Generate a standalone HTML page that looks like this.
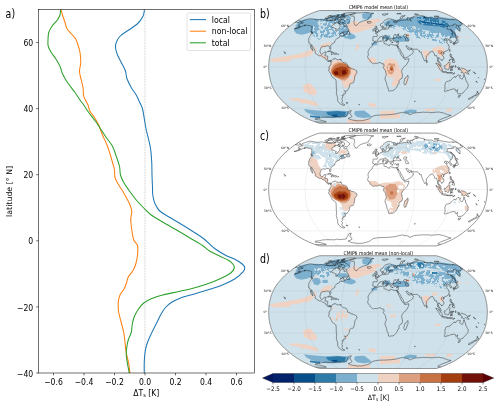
<!DOCTYPE html><html><head><meta charset="utf-8"><title>figure</title><style>html,body{margin:0;padding:0;background:#fff}svg{display:block}text{font-family:"DejaVu Sans","Liberation Sans",sans-serif;fill:#000}</style></head><body>
<svg width="500" height="406" viewBox="0 0 500 406">
<rect width="500" height="406" fill="#fff"/>
<defs><filter id="motA" x="0" y="0" width="1" height="1" color-interpolation-filters="sRGB"><feTurbulence type="fractalNoise" baseFrequency="0.33" numOctaves="2" seed="3" result="n"/><feColorMatrix in="n" type="matrix" values="0 0 0 0 0 0 0 0 0 0 0 0 0 0 0 30 0 0 0 -15.6" result="a"/><feComposite in="SourceGraphic" in2="a" operator="in"/></filter><filter id="motB" x="0" y="0" width="1" height="1" color-interpolation-filters="sRGB"><feTurbulence type="fractalNoise" baseFrequency="0.33" numOctaves="2" seed="11" result="n"/><feColorMatrix in="n" type="matrix" values="0 0 0 0 0 0 0 0 0 0 0 0 0 0 0 30 0 0 0 -14.4" result="a"/><feComposite in="SourceGraphic" in2="a" operator="in"/></filter><filter id="motC" x="0" y="0" width="1" height="1" color-interpolation-filters="sRGB"><feTurbulence type="fractalNoise" baseFrequency="0.33" numOctaves="2" seed="5" result="n"/><feColorMatrix in="n" type="matrix" values="0 0 0 0 0 0 0 0 0 0 0 0 0 0 0 30 0 0 0 -17.0" result="a"/><feComposite in="SourceGraphic" in2="a" operator="in"/></filter><filter id="motD" x="0" y="0" width="1" height="1" color-interpolation-filters="sRGB"><feTurbulence type="fractalNoise" baseFrequency="0.3" numOctaves="2" seed="8" result="n"/><feColorMatrix in="n" type="matrix" values="0 0 0 0 0 0 0 0 0 0 0 0 0 0 0 30 0 0 0 -18.5" result="a"/><feComposite in="SourceGraphic" in2="a" operator="in"/></filter></defs>
<clipPath id="axclip"><rect x="38.5" y="9.4" width="216.0" height="363.6"/></clipPath>
<line x1="145" y1="9.4" x2="145" y2="373.0" stroke="#a8a8a8" stroke-width="0.7" stroke-dasharray="0.7 0.85"/>
<g clip-path="url(#axclip)" fill="none" stroke-width="1.05" stroke-linejoin="round" stroke-linecap="butt">
<path d="M144.50 9.50C144.25 10.62 144.17 13.88 143.00 16.25C141.83 18.62 139.88 21.46 137.50 23.75C135.12 26.04 131.67 27.92 128.75 30.00C125.83 32.08 122.08 34.17 120.00 36.25C117.92 38.33 117.00 40.62 116.25 42.50C115.50 44.38 115.29 45.42 115.50 47.50C115.71 49.58 116.42 52.29 117.50 55.00C118.58 57.71 120.67 61.04 122.00 63.75C123.33 66.46 124.67 68.75 125.50 71.25C126.33 73.75 126.04 76.04 127.00 78.75C127.96 81.46 129.71 84.79 131.25 87.50C132.79 90.21 134.88 92.58 136.25 95.00C137.62 97.42 138.46 99.71 139.50 102.00C140.54 104.29 141.67 105.75 142.50 108.75C143.33 111.75 143.88 116.46 144.50 120.00C145.12 123.54 145.54 126.67 146.25 130.00C146.96 133.33 148.00 136.67 148.75 140.00C149.50 143.33 150.25 146.25 150.75 150.00C151.25 153.75 151.54 158.33 151.75 162.50C151.96 166.67 151.88 170.83 152.00 175.00C152.12 179.17 152.40 184.67 152.50 187.50C152.60 190.33 152.52 190.54 152.60 192.00C152.68 193.46 152.60 194.29 153.00 196.25C153.40 198.21 153.83 201.25 155.00 203.75C156.17 206.25 157.50 208.96 160.00 211.25C162.50 213.54 166.25 215.21 170.00 217.50C173.75 219.79 178.75 222.71 182.50 225.00C186.25 227.29 188.96 228.96 192.50 231.25C196.04 233.54 200.00 235.83 203.75 238.75C207.50 241.67 211.46 246.04 215.00 248.75C218.54 251.46 221.46 253.12 225.00 255.00C228.54 256.88 233.38 258.50 236.25 260.00C239.12 261.50 240.77 262.73 242.20 264.00C243.62 265.27 244.67 266.30 244.80 267.60C244.93 268.90 244.63 269.94 243.00 271.80C241.37 273.66 238.42 276.55 235.00 278.75C231.58 280.95 227.08 283.12 222.50 285.00C217.92 286.88 212.50 288.42 207.50 290.00C202.50 291.58 197.08 293.12 192.50 294.50C187.92 295.88 183.54 296.92 180.00 298.25C176.46 299.58 173.67 300.96 171.25 302.50C168.83 304.04 167.17 305.62 165.50 307.50C163.83 309.38 162.79 311.04 161.25 313.75C159.71 316.46 157.92 320.42 156.25 323.75C154.58 327.08 152.79 330.42 151.25 333.75C149.71 337.08 148.04 340.62 147.00 343.75C145.96 346.88 145.46 349.38 145.00 352.50C144.54 355.62 144.38 359.08 144.25 362.50C144.12 365.92 144.25 371.25 144.25 373.00" stroke="#1f77b4"/>
<path d="M61.00 9.50C61.25 10.42 61.83 12.83 62.50 15.00C63.17 17.17 64.25 20.21 65.00 22.50C65.75 24.79 65.96 26.88 67.00 28.75C68.04 30.62 69.83 32.08 71.25 33.75C72.67 35.42 74.38 36.88 75.50 38.75C76.62 40.62 77.25 42.71 78.00 45.00C78.75 47.29 79.54 49.58 80.00 52.50C80.46 55.42 80.83 59.38 80.75 62.50C80.67 65.62 79.42 68.33 79.50 71.25C79.58 74.17 80.67 77.29 81.25 80.00C81.83 82.71 82.58 84.79 83.00 87.50C83.42 90.21 83.25 94.00 83.75 96.25C84.25 98.50 85.29 99.54 86.00 101.00C86.71 102.46 87.33 103.29 88.00 105.00C88.67 106.71 88.92 109.17 90.00 111.25C91.08 113.33 93.04 115.21 94.50 117.50C95.96 119.79 97.42 122.08 98.75 125.00C100.08 127.92 101.12 131.67 102.50 135.00C103.88 138.33 105.75 141.88 107.00 145.00C108.25 148.12 109.08 150.83 110.00 153.75C110.92 156.67 111.75 159.79 112.50 162.50C113.25 165.21 114.08 167.50 114.50 170.00C114.92 172.50 114.29 175.00 115.00 177.50C115.71 180.00 117.58 182.92 118.75 185.00C119.92 187.08 120.75 187.92 122.00 190.00C123.25 192.08 124.92 195.00 126.25 197.50C127.58 200.00 129.08 202.71 130.00 205.00C130.92 207.29 131.62 208.75 131.75 211.25C131.88 213.75 130.71 216.67 130.75 220.00C130.79 223.33 131.50 227.92 132.00 231.25C132.50 234.58 132.83 237.62 133.75 240.00C134.67 242.38 136.88 243.00 137.50 245.50C138.12 248.00 137.83 251.75 137.50 255.00C137.17 258.25 136.33 262.29 135.50 265.00C134.67 267.71 133.71 269.25 132.50 271.25C131.29 273.25 129.29 274.92 128.25 277.00C127.21 279.08 127.00 281.67 126.25 283.75C125.50 285.83 124.79 287.62 123.75 289.50C122.71 291.38 120.92 292.83 120.00 295.00C119.08 297.17 118.46 299.58 118.25 302.50C118.04 305.42 118.25 309.17 118.75 312.50C119.25 315.83 120.42 319.17 121.25 322.50C122.08 325.83 123.12 329.17 123.75 332.50C124.38 335.83 124.58 339.17 125.00 342.50C125.42 345.83 125.62 348.96 126.25 352.50C126.88 356.04 128.12 360.33 128.75 363.75C129.38 367.17 129.79 371.46 130.00 373.00" stroke="#ff7f0e"/>
<path d="M60.50 9.50C60.42 10.42 60.58 13.17 60.00 15.00C59.42 16.83 58.33 18.62 57.00 20.50C55.67 22.38 53.38 24.25 52.00 26.25C50.62 28.25 49.42 30.21 48.75 32.50C48.08 34.79 48.08 37.71 48.00 40.00C47.92 42.29 47.71 44.17 48.25 46.25C48.79 48.33 50.00 50.42 51.25 52.50C52.50 54.58 54.29 56.46 55.75 58.75C57.21 61.04 58.88 63.75 60.00 66.25C61.12 68.75 61.25 71.04 62.50 73.75C63.75 76.46 65.42 79.38 67.50 82.50C69.58 85.62 72.92 89.58 75.00 92.50C77.08 95.42 78.54 97.92 80.00 100.00C81.46 102.08 82.29 102.92 83.75 105.00C85.21 107.08 86.79 109.79 88.75 112.50C90.71 115.21 93.42 118.33 95.50 121.25C97.58 124.17 99.46 127.29 101.25 130.00C103.04 132.71 104.38 134.79 106.25 137.50C108.12 140.21 110.83 143.12 112.50 146.25C114.17 149.38 115.08 152.92 116.25 156.25C117.42 159.58 118.79 163.12 119.50 166.25C120.21 169.38 119.79 172.29 120.50 175.00C121.21 177.71 122.38 180.00 123.75 182.50C125.12 185.00 126.67 187.08 128.75 190.00C130.83 192.92 133.75 197.00 136.25 200.00C138.75 203.00 141.25 205.50 143.75 208.00C146.25 210.50 148.12 212.67 151.25 215.00C154.38 217.33 157.92 219.29 162.50 222.00C167.08 224.71 173.96 228.46 178.75 231.25C183.54 234.04 187.29 236.38 191.25 238.75C195.21 241.12 199.38 243.42 202.50 245.50C205.62 247.58 207.08 249.46 210.00 251.25C212.92 253.04 216.88 254.71 220.00 256.25C223.12 257.79 226.54 259.12 228.75 260.50C230.96 261.88 232.33 263.25 233.25 264.50C234.17 265.75 234.58 266.67 234.25 268.00C233.92 269.33 233.00 271.00 231.25 272.50C229.50 274.00 226.88 275.42 223.75 277.00C220.62 278.58 216.88 280.33 212.50 282.00C208.12 283.67 202.92 285.46 197.50 287.00C192.08 288.54 185.83 289.92 180.00 291.25C174.17 292.58 167.29 293.75 162.50 295.00C157.71 296.25 154.38 297.42 151.25 298.75C148.12 300.08 145.83 301.33 143.75 303.00C141.67 304.67 140.21 306.75 138.75 308.75C137.29 310.75 135.93 313.12 135.00 315.00C134.07 316.88 133.70 318.12 133.20 320.00C132.70 321.88 132.32 324.17 132.00 326.25C131.68 328.33 131.88 330.21 131.25 332.50C130.62 334.79 129.00 337.50 128.25 340.00C127.50 342.50 127.08 345.00 126.75 347.50C126.42 350.00 126.12 352.29 126.25 355.00C126.38 357.71 127.00 360.75 127.50 363.75C128.00 366.75 128.96 371.46 129.25 373.00" stroke="#2ca02c"/>
</g>
<rect x="38.5" y="9.4" width="216.0" height="363.6" fill="none" stroke="#000" stroke-width="0.56"/>
<line x1="36.1" y1="373.00" x2="38.5" y2="373.00" stroke="#000" stroke-width="0.56"/>
<text transform="translate(33.20,376.60) scale(0.885,1)" font-size="8.70" text-anchor="end">−40</text>
<line x1="36.1" y1="306.90" x2="38.5" y2="306.90" stroke="#000" stroke-width="0.56"/>
<text transform="translate(33.20,310.50) scale(0.885,1)" font-size="8.70" text-anchor="end">−20</text>
<line x1="36.1" y1="240.80" x2="38.5" y2="240.80" stroke="#000" stroke-width="0.56"/>
<text transform="translate(33.20,244.40) scale(0.885,1)" font-size="8.70" text-anchor="end">0</text>
<line x1="36.1" y1="174.70" x2="38.5" y2="174.70" stroke="#000" stroke-width="0.56"/>
<text transform="translate(33.20,178.30) scale(0.885,1)" font-size="8.70" text-anchor="end">20</text>
<line x1="36.1" y1="108.60" x2="38.5" y2="108.60" stroke="#000" stroke-width="0.56"/>
<text transform="translate(33.20,112.20) scale(0.885,1)" font-size="8.70" text-anchor="end">40</text>
<line x1="36.1" y1="42.50" x2="38.5" y2="42.50" stroke="#000" stroke-width="0.56"/>
<text transform="translate(33.20,46.10) scale(0.885,1)" font-size="8.70" text-anchor="end">60</text>
<line x1="53.50" y1="373.0" x2="53.50" y2="375.4" stroke="#000" stroke-width="0.56"/>
<text transform="translate(53.50,385.00) scale(0.885,1)" font-size="8.70" text-anchor="middle">−0.6</text>
<line x1="84.00" y1="373.0" x2="84.00" y2="375.4" stroke="#000" stroke-width="0.56"/>
<text transform="translate(84.00,385.00) scale(0.885,1)" font-size="8.70" text-anchor="middle">−0.4</text>
<line x1="114.50" y1="373.0" x2="114.50" y2="375.4" stroke="#000" stroke-width="0.56"/>
<text transform="translate(114.50,385.00) scale(0.885,1)" font-size="8.70" text-anchor="middle">−0.2</text>
<line x1="145.00" y1="373.0" x2="145.00" y2="375.4" stroke="#000" stroke-width="0.56"/>
<text transform="translate(145.00,385.00) scale(0.885,1)" font-size="8.70" text-anchor="middle">0.0</text>
<line x1="175.50" y1="373.0" x2="175.50" y2="375.4" stroke="#000" stroke-width="0.56"/>
<text transform="translate(175.50,385.00) scale(0.885,1)" font-size="8.70" text-anchor="middle">0.2</text>
<line x1="206.00" y1="373.0" x2="206.00" y2="375.4" stroke="#000" stroke-width="0.56"/>
<text transform="translate(206.00,385.00) scale(0.885,1)" font-size="8.70" text-anchor="middle">0.4</text>
<line x1="236.50" y1="373.0" x2="236.50" y2="375.4" stroke="#000" stroke-width="0.56"/>
<text transform="translate(236.50,385.00) scale(0.885,1)" font-size="8.70" text-anchor="middle">0.6</text>
<text transform="translate(146.20,396.20) scale(0.885,1)" font-size="8.70" text-anchor="middle">ΔT<tspan font-size="5.5" dy="1">s</tspan><tspan dy="-1"> [K]</tspan></text>
<text transform="translate(11.7,191.4) rotate(-90)" font-size="7.85" text-anchor="middle">latitude [° N]</text>
<text transform="translate(5.60,17.50) scale(0.78,1)" font-size="12.10">a)</text>
<rect x="187" y="13" width="63.5" height="37.5" rx="1.4" fill="#fff" fill-opacity="0.8" stroke="#ccc" stroke-width="0.56"/>
<line x1="189.8" y1="19.6" x2="206" y2="19.6" stroke="#1f77b4" stroke-width="1.05"/>
<text transform="translate(211.80,22.50) scale(0.885,1)" font-size="8.81">local</text>
<line x1="189.8" y1="31.200000000000003" x2="206" y2="31.200000000000003" stroke="#ff7f0e" stroke-width="1.05"/>
<text transform="translate(211.80,34.10) scale(0.885,1)" font-size="8.81">non-local</text>
<line x1="189.8" y1="42.8" x2="206" y2="42.8" stroke="#2ca02c" stroke-width="1.05"/>
<text transform="translate(211.80,45.70) scale(0.885,1)" font-size="8.81">total</text>
<clipPath id="clipb"><path d="M436.2 123.3L438.3 122.7L440.6 122.0L443.2 121.0L446.0 119.9L448.8 118.6L451.6 117.3L454.2 115.9L456.6 114.5L458.9 113.0L461.1 111.5L463.3 109.9L465.4 108.3L467.4 106.7L469.3 105.1L471.2 103.4L472.9 101.7L474.5 100.0L476.0 98.3L477.5 96.6L478.8 94.9L480.0 93.1L481.1 91.4L482.1 89.6L483.0 87.9L483.8 86.1L484.4 84.4L485.0 82.6L485.5 80.9L485.9 79.1L486.3 77.4L486.6 75.6L486.9 73.9L487.1 72.1L487.2 70.4L487.3 68.6L487.4 66.9L487.3 65.2L487.2 63.4L487.1 61.7L486.9 59.9L486.6 58.2L486.3 56.4L485.9 54.7L485.5 52.9L485.0 51.2L484.4 49.4L483.8 47.7L483.0 45.9L482.1 44.2L481.1 42.4L480.0 40.7L478.8 38.9L477.5 37.2L476.0 35.5L474.5 33.8L472.9 32.1L471.2 30.4L469.3 28.7L467.4 27.1L465.4 25.5L463.3 23.9L461.1 22.3L458.9 20.8L456.6 19.3L454.2 17.9L451.6 16.5L448.8 15.2L446.0 13.9L443.2 12.8L440.6 11.8L438.3 11.1L436.2 10.5L319.8 10.5L317.7 11.1L315.4 11.8L312.8 12.8L310.0 13.9L307.2 15.2L304.4 16.5L301.8 17.9L299.4 19.3L297.1 20.8L294.9 22.3L292.7 23.9L290.6 25.5L288.6 27.1L286.7 28.7L284.8 30.4L283.1 32.1L281.5 33.8L280.0 35.5L278.5 37.2L277.2 38.9L276.0 40.7L274.9 42.4L273.9 44.2L273.0 45.9L272.2 47.7L271.6 49.4L271.0 51.2L270.5 52.9L270.1 54.7L269.7 56.4L269.4 58.2L269.1 59.9L268.9 61.7L268.8 63.4L268.7 65.2L268.6 66.9L268.7 68.6L268.8 70.4L268.9 72.1L269.1 73.9L269.4 75.6L269.7 77.4L270.1 79.1L270.5 80.9L271.0 82.6L271.6 84.4L272.2 86.1L273.0 87.9L273.9 89.6L274.9 91.4L276.0 93.1L277.2 94.9L278.5 96.6L280.0 98.3L281.5 100.0L283.1 101.7L284.8 103.4L286.7 105.1L288.6 106.7L290.6 108.3L292.7 109.9L294.9 111.5L297.1 113.0L299.4 114.5L301.8 115.9L304.4 117.3L307.2 118.6L310.0 119.9L312.8 121.0L315.4 122.0L317.7 122.7L319.8 123.3Z"/></clipPath>
<g clip-path="url(#clipb)">
<path d="M436.2 123.3L438.3 122.7L440.6 122.0L443.2 121.0L446.0 119.9L448.8 118.6L451.6 117.3L454.2 115.9L456.6 114.5L458.9 113.0L461.1 111.5L463.3 109.9L465.4 108.3L467.4 106.7L469.3 105.1L471.2 103.4L472.9 101.7L474.5 100.0L476.0 98.3L477.5 96.6L478.8 94.9L480.0 93.1L481.1 91.4L482.1 89.6L483.0 87.9L483.8 86.1L484.4 84.4L485.0 82.6L485.5 80.9L485.9 79.1L486.3 77.4L486.6 75.6L486.9 73.9L487.1 72.1L487.2 70.4L487.3 68.6L487.4 66.9L487.3 65.2L487.2 63.4L487.1 61.7L486.9 59.9L486.6 58.2L486.3 56.4L485.9 54.7L485.5 52.9L485.0 51.2L484.4 49.4L483.8 47.7L483.0 45.9L482.1 44.2L481.1 42.4L480.0 40.7L478.8 38.9L477.5 37.2L476.0 35.5L474.5 33.8L472.9 32.1L471.2 30.4L469.3 28.7L467.4 27.1L465.4 25.5L463.3 23.9L461.1 22.3L458.9 20.8L456.6 19.3L454.2 17.9L451.6 16.5L448.8 15.2L446.0 13.9L443.2 12.8L440.6 11.8L438.3 11.1L436.2 10.5L319.8 10.5L317.7 11.1L315.4 11.8L312.8 12.8L310.0 13.9L307.2 15.2L304.4 16.5L301.8 17.9L299.4 19.3L297.1 20.8L294.9 22.3L292.7 23.9L290.6 25.5L288.6 27.1L286.7 28.7L284.8 30.4L283.1 32.1L281.5 33.8L280.0 35.5L278.5 37.2L277.2 38.9L276.0 40.7L274.9 42.4L273.9 44.2L273.0 45.9L272.2 47.7L271.6 49.4L271.0 51.2L270.5 52.9L270.1 54.7L269.7 56.4L269.4 58.2L269.1 59.9L268.9 61.7L268.8 63.4L268.7 65.2L268.6 66.9L268.7 68.6L268.8 70.4L268.9 72.1L269.1 73.9L269.4 75.6L269.7 77.4L270.1 79.1L270.5 80.9L271.0 82.6L271.6 84.4L272.2 86.1L273.0 87.9L273.9 89.6L274.9 91.4L276.0 93.1L277.2 94.9L278.5 96.6L280.0 98.3L281.5 100.0L283.1 101.7L284.8 103.4L286.7 105.1L288.6 106.7L290.6 108.3L292.7 109.9L294.9 111.5L297.1 113.0L299.4 114.5L301.8 115.9L304.4 117.3L307.2 118.6L310.0 119.9L312.8 121.0L315.4 122.0L317.7 122.7L319.8 123.3Z" fill="#cfe1ea"/>
<path d="M295.5 26.7L297.7 22.2L301.5 20.0L307.5 19.2L315.0 18.8L322.5 19.2L328.5 17.7L334.5 14.7L342.0 14.0L348.0 14.7L351.0 17.7L349.5 21.5L351.0 25.2L348.7 30.5L350.2 32.7L355.5 35.7L355.5 38.0L351.0 39.5L345.0 38.0L342.0 36.5L337.5 35.7L333.0 36.5L330.0 38.0L325.5 37.2L321.0 38.0L320.2 40.2L317.2 38.7L315.0 38.0L312.7 34.2L310.5 32.0L307.5 33.5L301.5 34.7L296.2 33.5L294.0 30.5Z" fill="#7cb0ce"/>
<path d="M332.7 23.7L336.7 22.7L339.7 24.5L339.3 29.0L336.7 31.2L333.7 30.5L332.2 27.2Z" fill="#cfe1ea"/>
<path d="M317.2 21.8L325.5 21.5L326.2 23.3L318.0 23.6Z" fill="#cfe1ea"/>
<path d="M319.2 25.7L322.5 24.2L325.2 26.3L324.3 29.7L321.0 30.5L318.9 28.7Z" fill="#cfe1ea"/>
<path d="M320.7 26.6L322.5 26.0L323.5 27.5L322.2 29.0L320.7 28.2Z" fill="#7cb0ce"/>
<path d="M312.0 26.3L313.8 26.3L313.8 28.7L312.3 28.7Z" fill="#2e7ba9"/>
<path d="M320.2 45.5L324.0 43.2L330.0 41.7L331.5 43.2L328.5 45.5L322.5 47.7L320.2 47.3Z" fill="#f0d2c3"/>
<path d="M313.8 46.7L315.7 46.7L316.8 51.5L315.0 51.8Z" fill="#f0d2c3"/>
<path d="M318.7 53.7L324.0 55.2L328.5 58.2L327.0 59.7L322.5 57.5L318.7 55.7Z" fill="#f0d2c3"/>
<path d="M313.5 20.0L330.0 19.2L348.0 17.0L351.0 26.0L349.5 29.0L312.7 29.0Z" fill="#cfe1ea" filter="url(#motC)"/>
<path d="M312.7 29.0L330.0 29.7L341.2 30.5L349.5 32.0L348.0 35.7L337.5 37.2L321.0 40.2L314.2 38.0Z" fill="#cfe1ea" filter="url(#motA)"/>
<path d="M270.2 59.0L278.5 57.2L289.0 55.7L299.5 53.7L308.5 50.7L312.2 48.5L313.7 53.0L310.0 56.0L299.5 58.2L289.7 59.7L289.7 61.7L272.5 62.0L270.7 60.5Z" fill="#f0d2c3"/>
<path d="M347.7 24.5L354.5 20.7L360.5 23.0L367.2 20.7L372.5 19.2L380.0 18.5L381.5 20.7L375.5 23.0L375.5 26.0L369.5 29.0L363.5 30.5L357.5 32.7L351.5 32.7L347.7 29.0Z" fill="#f0d2c3"/>
<path d="M362.0 14.0L367.2 12.5L372.5 14.0L371.7 17.7L367.2 19.7L362.7 18.5Z" fill="#7cb0ce"/>
<path d="M384.0 23.0L387.0 20.6L391.8 19.4L396.6 20.0L401.4 18.8L406.2 18.2L411.0 17.6L417.0 16.4L423.0 16.6L429.0 17.4L435.0 18.2L435.0 38.0L429.0 38.6L423.0 38.0L417.0 36.8L413.4 33.2L408.6 32.0L403.8 29.0L399.0 26.6L395.4 26.6L390.6 27.8L387.0 26.0L384.6 25.4Z" fill="#7cb0ce"/>
<path d="M429.6 16.6L434.4 17.0L444.0 17.6L452.4 18.8L459.6 20.6L462.0 23.4L460.2 27.2L460.6 30.2L458.4 30.8L456.0 28.4L454.8 30.8L456.0 33.8L456.6 36.8L454.2 38.0L451.2 38.0L445.8 38.6L444.0 42.2L442.2 39.8L439.2 36.8L435.6 38.0L432.0 36.2L429.6 36.6Z" fill="#7cb0ce"/>
<path d="M393.2 38.0L397.0 35.7L403.0 35.7L409.0 37.2L409.7 40.2L404.5 41.7L397.0 41.7L393.2 40.2Z" fill="#7cb0ce"/>
<path d="M385.0 35.7L389.5 35.0L391.0 38.0L388.0 40.2L385.0 39.5L382.0 38.0Z" fill="#7cb0ce"/>
<path d="M370.8 43.2L376.0 41.7L377.5 44.7L372.3 45.5Z" fill="#7cb0ce"/>
<path d="M417.2 17.7L421.7 17.0L424.3 20.0L423.2 23.0L418.7 22.2Z" fill="#2e7ba9"/>
<path d="M417.2 17.0L424.0 16.3L430.0 17.7L437.5 19.3L445.0 21.0L447.0 22.6L448.8 24.8L449.8 27.8L451.8 32.0L454.2 36.2L453.2 36.8L450.6 33.2L447.6 29.4L444.0 27.8L438.0 26.6L432.0 26.0L426.0 25.4L420.0 24.2L418.2 22.4L417.0 20.0Z" fill="#2e7ba9"/>
<path d="M417.2 17.0L424.0 16.3L430.0 17.7L437.5 19.3L445.0 21.0L447.0 22.6L448.8 24.8L449.8 27.8L451.8 32.0L454.2 36.2L453.2 36.8L450.6 33.2L447.6 29.4L444.0 27.8L438.0 26.6L432.0 26.0L426.0 25.4L420.0 24.2L418.2 22.4L417.0 20.0Z" fill="#7cb0ce" filter="url(#motA)"/>
<path d="M421.2 21.2L427.2 21.9L434.4 22.9L441.6 24.1L445.4 25.2L445.0 25.9L438.0 24.6L430.8 23.6L423.6 22.8L421.2 22.2Z" fill="#074f8a"/>
<path d="M425.5 31.2L428.5 30.5L429.2 33.5L426.2 34.7Z" fill="#cfe1ea"/>
<path d="M412.0 26.7L415.0 26.0L416.5 29.0L413.5 30.5Z" fill="#cfe1ea"/>
<path d="M412.4 28.7L414.2 28.2L415.0 30.5L413.2 31.2Z" fill="#dc9f7f"/>
<path d="M406.4 34.7L409.0 34.7L409.0 36.2L406.4 36.2Z" fill="#c87142"/>
<path d="M422.5 50.7L426.2 50.0L430.0 51.5L428.5 56.0L426.2 59.7L424.7 56.7L422.5 53.0Z" fill="#f0d2c3"/>
<path d="M431.5 49.2L436.0 47.0L441.2 46.2L445.0 48.5L444.2 53.0L442.7 57.5L439.7 56.0L437.5 52.2L433.7 51.5Z" fill="#f0d2c3"/>
<path d="M437.8 50.7L441.7 50.3L442.3 53.7L439.0 54.5Z" fill="#dc9f7f"/>
<path d="M389.4 26.0L399.0 24.8L406.2 26.0L415.8 27.2L425.4 30.2L435.0 32.0L442.2 33.2L449.4 35.0L451.8 39.8L447.0 42.8L435.0 38.6L427.8 39.2L420.6 38.0L415.8 34.4L406.2 30.8L399.0 27.2L390.6 28.2Z" fill="#cfe1ea" filter="url(#motA)"/>
<path d="M393.0 25.4L405.0 26.0L415.8 29.0L420.6 36.2L429.0 36.8L437.4 38.0L447.0 42.2L444.6 44.6L435.0 41.0L425.4 39.8L415.8 38.0L408.6 32.0L399.0 29.0L393.0 28.4Z" fill="#7cb0ce" filter="url(#motC)"/>
<path d="M458.2 36.8L461.0 36.8L461.0 38.0L458.2 38.0Z" fill="#f0d2c3"/>
<path d="M465.4 36.8L468.2 36.8L467.8 38.2L465.8 38.0Z" fill="#f0d2c3"/>
<path d="M329.2 66.5L332.2 61.2L337.5 59.7L343.5 62.7L348.0 65.0L352.5 68.0L357.0 71.7L356.2 76.2L353.2 81.5L349.5 86.0L345.7 88.2L343.5 86.7L342.0 82.2L339.7 79.2L336.0 77.7L332.2 74.7L329.2 71.0Z" fill="#f0d2c3"/>
<path d="M331.2 68.7L333.7 64.2L338.2 62.0L343.5 62.7L348.0 65.0L351.0 68.7L351.0 73.2L348.7 77.7L345.0 80.7L341.2 80.0L337.5 77.7L333.7 75.8L331.2 72.5Z" fill="#dc9f7f"/>
<path d="M331.5 70.2L334.5 65.7L339.3 63.2L345.0 63.8L349.2 67.2L350.1 72.5L348.0 76.7L343.8 78.8L339.0 78.2L334.8 76.4L331.9 73.7Z" fill="#c87142"/>
<path d="M332.7 71.3L336.3 68.0L341.2 66.2L346.2 67.1L348.4 70.4L347.5 74.3L343.8 76.5L339.0 76.2L334.9 75.2L332.7 73.4Z" fill="#a43d10"/>
<path d="M333.7 71.9L337.2 71.0L338.7 74.0L335.4 75.2Z" fill="#72110a"/>
<path d="M341.4 70.7L345.6 70.1L346.5 73.7L342.3 74.7Z" fill="#72110a"/>
<path d="M349.5 76.4L352.2 76.1L352.5 78.8L349.9 79.1Z" fill="#cfe1ea"/>
<path d="M303.7 87.5L306.7 84.8L311.2 86.7L315.0 90.5L315.7 95.0L312.0 95.0L307.5 93.5L303.7 91.2Z" fill="#f0d2c3"/>
<path d="M300.0 100.2L306.0 99.2L312.7 101.0L318.7 104.0L317.2 106.2L310.5 104.7L304.5 103.2L300.0 103.2Z" fill="#f0d2c3"/>
<path d="M368.2 103.2L375.0 104.3L375.0 107.0L369.0 105.8Z" fill="#f0d2c3"/>
<path d="M382.7 64.2L385.0 59.7L389.5 58.2L394.7 59.0L397.7 62.7L399.2 67.2L401.5 71.0L402.2 75.5L400.0 80.0L397.0 85.2L392.5 86.7L391.0 83.7L394.0 80.0L392.5 77.7L388.7 77.7L385.7 74.0L384.2 68.7Z" fill="#f0d2c3"/>
<path d="M370.0 57.5L374.5 57.5L376.7 61.2L374.5 63.5L370.7 62.0L367.0 60.5Z" fill="#f0d2c3"/>
<path d="M357.3 44.0L359.5 44.0L358.0 49.3L355.0 50.7Z" fill="#f0d2c3"/>
<path d="M386.8 65.7L389.2 62.7L392.8 62.3L395.2 64.7L395.8 68.7L394.3 72.5L391.7 74.7L388.7 73.7L387.1 70.2Z" fill="#dc9f7f"/>
<path d="M385.7 65.0L388.7 61.2L393.2 61.2L396.2 64.2L397.0 68.7L395.5 73.2L392.5 76.2L388.7 74.7L386.5 71.0Z" fill="#f0d2c3" filter="url(#motA)"/>
<path d="M389.8 67.2L391.9 65.7L393.4 67.2L393.2 69.8L391.3 71.0L389.5 69.5Z" fill="#c87142"/>
<path d="M391.0 68.6L392.5 68.6L392.5 69.8L391.0 69.8Z" fill="#a43d10"/>
<path d="M405.2 77.7L407.5 77.0L407.5 83.7L405.7 84.8Z" fill="#f0d2c3"/>
<path d="M435.2 78.9L440.5 78.9L440.5 80.9L435.2 80.9Z" fill="#f0d2c3"/>
<path d="M370.0 103.2L375.2 104.0L375.2 107.0L370.7 106.7Z" fill="#f0d2c3"/>
<path d="M436.5 63.0L438.7 62.7L442.5 69.0L442.5 71.2L439.5 69.7Z" fill="#f0d2c3"/>
<path d="M444.7 65.2L447.7 62.2L450.7 63.0L450.0 68.2L446.2 69.0Z" fill="#f0d2c3"/>
<path d="M460.5 69.0L464.2 68.2L468.0 72.0L466.5 73.8L462.7 72.7Z" fill="#f0d2c3"/>
<path d="M435.0 78.7L441.0 78.7L441.0 80.7L435.0 80.7Z" fill="#f0d2c3"/>
<path d="M437.7 50.2L439.8 50.2L439.8 53.2L437.7 53.2Z" fill="#dc9f7f"/>
<path d="M304.0 109.0L312.0 110.0L324.0 111.0L336.0 110.6L348.0 111.0L350.0 113.0L346.0 117.0L338.0 118.0L328.0 118.0L320.0 117.0L312.0 115.0L306.0 112.0Z" fill="#7cb0ce"/>
<path d="M355.0 111.0L364.0 110.6L369.0 114.0L372.0 117.0L364.0 118.0L357.0 117.0L354.0 114.0Z" fill="#7cb0ce"/>
<path d="M326.0 112.0L338.0 111.0L346.0 112.0L345.0 116.0L336.0 117.0L328.0 115.0Z" fill="#2e7ba9"/>
<path d="M310.0 115.4L320.0 116.6L320.0 118.2L310.0 117.0Z" fill="#2e7ba9"/>
<path d="M332.0 115.0L337.0 114.6L337.0 116.6L332.4 116.6Z" fill="#074f8a"/>
<path d="M303.0 85.0L310.0 83.0L317.0 91.0L316.0 95.0L310.0 94.0L304.0 90.0Z" fill="#f0d2c3"/>
<path d="M289.0 98.6L298.0 98.0L308.0 100.0L317.0 103.0L316.0 105.0L306.0 103.0L296.0 101.0L290.0 100.0Z" fill="#f0d2c3"/>
<path d="M369.0 103.0L376.0 104.0L375.6 106.6L369.6 105.8Z" fill="#f0d2c3"/>
<path d="M347.0 120.0L370.0 119.4L370.0 123.0L348.0 123.0Z" fill="#f0d2c3"/>
<path d="M404.0 111.0L410.0 109.4L417.0 110.0L416.0 112.6L408.0 113.4L404.0 112.6Z" fill="#7cb0ce"/>
<path d="M380.0 111.0L395.0 110.6L395.0 114.0L380.0 114.0Z" fill="#f0d2c3"/>
<path d="M425.0 109.0L435.0 108.6L435.0 111.0L425.0 111.0Z" fill="#f0d2c3"/>
<path d="M446.0 109.4L451.6 108.0L452.4 111.0L447.0 112.0Z" fill="#f0d2c3"/>
<path d="M380.0 115.0L400.0 114.0L400.0 118.0L380.0 119.0Z" fill="#f0d2c3"/>
<path d="M339.2 123.3L336.3 122.0L332.7 119.9L328.9 117.3L325.6 114.5L322.6 111.5L319.8 108.3L317.1 105.1L314.7 101.7L312.6 98.3L310.8 94.9L309.2 91.4L308.0 87.9L307.0 84.4L306.4 80.9L305.8 77.4L305.4 73.9L305.2 70.4L305.1 66.9L305.2 63.4L305.4 59.9L305.8 56.4L306.4 52.9L307.0 49.4L308.0 45.9L309.2 42.4L310.8 38.9L312.6 35.5L314.7 32.1L317.1 28.7L319.8 25.5L322.6 22.3L325.6 19.3L328.9 16.5L332.7 13.9L336.3 11.8L339.2 10.5M358.6 123.3L357.1 122.0L355.3 119.9L353.5 117.3L351.8 114.5L350.3 111.5L348.9 108.3L347.6 105.1L346.4 101.7L345.3 98.3L344.4 94.9L343.6 91.4L343.0 87.9L342.5 84.4L342.2 80.9L341.9 77.4L341.7 73.9L341.6 70.4L341.5 66.9L341.6 63.4L341.7 59.9L341.9 56.4L342.2 52.9L342.5 49.4L343.0 45.9L343.6 42.4L344.4 38.9L345.3 35.5L346.4 32.1L347.6 28.7L348.9 25.5L350.3 22.3L351.8 19.3L353.5 16.5L355.3 13.9L357.1 11.8L358.6 10.5M378.0 123.3L378.0 122.0L378.0 119.9L378.0 117.3L378.0 114.5L378.0 111.5L378.0 108.3L378.0 105.1L378.0 101.7L378.0 98.3L378.0 94.9L378.0 91.4L378.0 87.9L378.0 84.4L378.0 80.9L378.0 77.4L378.0 73.9L378.0 70.4L378.0 66.9L378.0 63.4L378.0 59.9L378.0 56.4L378.0 52.9L378.0 49.4L378.0 45.9L378.0 42.4L378.0 38.9L378.0 35.5L378.0 32.1L378.0 28.7L378.0 25.5L378.0 22.3L378.0 19.3L378.0 16.5L378.0 13.9L378.0 11.8L378.0 10.5M397.4 123.3L398.9 122.0L400.7 119.9L402.5 117.3L404.2 114.5L405.7 111.5L407.1 108.3L408.4 105.1L409.6 101.7L410.7 98.3L411.6 94.9L412.4 91.4L413.0 87.9L413.5 84.4L413.8 80.9L414.1 77.4L414.3 73.9L414.4 70.4L414.5 66.9L414.4 63.4L414.3 59.9L414.1 56.4L413.8 52.9L413.5 49.4L413.0 45.9L412.4 42.4L411.6 38.9L410.7 35.5L409.6 32.1L408.4 28.7L407.1 25.5L405.7 22.3L404.2 19.3L402.5 16.5L400.7 13.9L398.9 11.8L397.4 10.5M416.8 123.3L419.7 122.0L423.3 119.9L427.1 117.3L430.4 114.5L433.4 111.5L436.2 108.3L438.9 105.1L441.3 101.7L443.4 98.3L445.2 94.9L446.8 91.4L448.0 87.9L449.0 84.4L449.6 80.9L450.2 77.4L450.6 73.9L450.8 70.4L450.9 66.9L450.8 63.4L450.6 59.9L450.2 56.4L449.6 52.9L449.0 49.4L448.0 45.9L446.8 42.4L445.2 38.9L443.4 35.5L441.3 32.1L438.9 28.7L436.2 25.5L433.4 22.3L430.4 19.3L427.1 16.5L423.3 13.9L419.7 11.8L416.8 10.5M290.6 108.3L465.4 108.3M273.0 87.9L483.0 87.9M268.6 66.9L487.4 66.9M273.0 45.9L483.0 45.9M290.6 25.5L465.4 25.5" fill="none" stroke="#9aa0a6" stroke-width="0.25" stroke-opacity="0.55"/>
<path d="M300.9 22.0L304.1 20.3L307.5 19.2L310.7 18.6L312.9 19.0L316.1 19.6L318.6 19.7L322.2 19.2L323.0 19.7L326.9 20.2L329.7 20.5L332.8 20.6L335.3 20.2L337.7 18.2L337.6 19.6L338.0 20.2L340.4 19.6L342.1 19.4L341.4 20.8L338.8 21.5L337.6 22.6L334.5 23.1L335.4 23.4L332.8 24.8L331.6 26.3L331.9 27.4L333.9 27.7L335.0 28.5L336.3 28.7L335.7 30.1L335.9 31.2L336.8 31.1L337.7 29.4L339.7 27.7L339.9 26.4L340.1 25.5L341.3 23.9L343.1 24.0L344.3 24.8L343.9 26.2L345.0 26.6L346.5 25.3L346.8 25.8L347.2 27.7L348.1 28.7L348.7 29.7L349.0 30.7L347.4 31.3L346.4 31.9L343.2 31.9L341.2 33.1L339.8 34.2L342.9 32.7L343.7 32.7L343.1 33.8L345.0 34.8L345.6 34.5L344.8 35.3L343.0 35.8L341.7 36.5L341.5 35.5L339.6 36.4L339.2 37.7L336.7 38.6L335.3 40.3L334.8 41.0L334.8 42.3L333.4 43.1L331.7 44.3L330.6 45.6L330.9 48.0L330.5 49.2L329.9 49.1L329.4 47.5L329.5 46.5L328.9 45.9L328.1 46.1L326.7 45.6L325.7 46.5L324.8 46.4L323.1 46.3L321.1 47.3L320.6 48.7L319.9 51.2L320.6 53.5L321.4 54.2L323.0 53.8L324.1 52.2L326.2 51.9L325.5 54.0L324.8 55.7L326.3 55.9L327.8 56.3L327.6 58.2L327.4 59.2L328.1 60.5L328.9 60.7L329.9 60.3L331.1 60.8L330.8 61.9L329.9 60.6L329.2 61.8L327.8 61.2L327.4 61.0L326.2 59.9L325.2 57.9L324.0 57.5L322.5 56.8L321.2 55.6L319.7 55.9L318.0 55.0L316.9 54.3L315.0 52.9L315.3 51.2L314.2 49.1L313.6 48.0L312.3 46.3L312.1 45.0L311.4 44.7L311.2 45.9L312.0 47.3L312.4 49.1L313.0 50.7L312.6 50.5L311.8 49.4L310.8 47.9L310.5 47.3L311.1 47.0L310.5 45.8L310.3 44.2L309.8 43.1L308.8 42.7L308.6 41.2L308.7 40.5L308.7 38.7L309.5 36.9L310.9 34.7L311.5 33.2L312.3 33.8L312.7 32.6L311.5 31.4L311.7 30.4L311.6 29.1L311.8 28.1L311.9 26.6L310.8 26.2L309.9 25.6L308.1 25.5L306.5 25.1L304.0 25.9L305.4 24.8L302.6 26.1L299.9 27.4L297.9 28.2L295.1 28.9L294.1 29.0L296.3 28.2L299.3 27.1L300.6 26.3L298.3 26.4L299.4 25.5L298.4 24.8L299.0 24.2L300.3 23.6L302.5 23.3L303.3 22.6L301.4 22.6ZM347.0 24.3L347.6 23.6L350.1 21.2L348.1 19.6L347.0 18.6L345.2 17.6L344.2 17.2L342.5 17.3L341.0 17.2L339.9 17.9L340.7 19.0L342.2 19.3L343.7 19.6L344.7 20.5L344.6 21.7L343.8 22.5L341.8 22.6L344.2 23.3L345.7 24.0ZM326.3 19.9L327.4 18.5L329.6 17.6L332.6 17.6L333.3 18.2L333.7 19.3L331.4 20.2L327.8 20.2ZM324.7 18.2L326.7 17.1L328.4 16.9L329.4 17.4L327.0 18.5L325.1 18.6ZM341.9 15.8L343.9 14.7L343.8 13.5L347.1 12.9L352.9 12.6L355.5 12.8L353.9 13.5L350.5 14.3L348.5 14.8L346.4 15.7L343.9 15.8ZM341.2 15.7L345.5 16.2L344.9 16.7L340.4 16.7ZM330.5 16.5L333.9 15.8L335.5 16.1L334.1 16.6L331.4 16.8ZM335.4 17.3L337.2 17.2L336.7 18.2L335.1 18.5L334.6 17.9ZM338.4 17.1L340.2 17.1L339.8 17.7L337.6 18.1ZM338.0 22.0L339.6 21.7L340.6 22.6L339.0 23.4L337.8 23.1ZM346.2 33.6L348.8 31.0L349.8 33.1L349.4 34.3L347.8 34.2ZM310.7 31.6L312.1 32.1L312.2 33.2L311.3 32.9ZM349.6 14.8L352.7 14.4L356.1 13.0L361.8 12.7L366.3 12.4L370.7 13.0L373.8 13.3L371.2 13.9L370.5 15.4L369.8 16.8L368.6 18.2L368.4 19.2L366.4 20.2L363.6 20.8L361.1 21.8L359.4 22.6L357.8 24.2L356.6 25.6L354.9 24.8L354.1 23.3L354.0 22.3L353.8 21.1L354.6 19.9L354.3 19.0L354.5 17.9L354.3 16.5L353.0 16.0L350.6 16.0L350.0 15.3ZM367.0 22.0L368.0 21.5L370.7 21.4L371.5 22.3L371.0 22.8L369.1 23.3L367.5 23.0L367.8 22.5ZM327.4 51.6L329.3 50.7L331.1 51.1L333.0 52.4L333.7 52.8L331.7 53.0L331.5 52.4L329.8 51.5L328.0 51.7ZM333.5 54.0L334.4 53.0L336.2 53.1L337.1 53.9L335.5 54.3L334.9 54.2ZM331.1 54.0L332.3 54.1L332.2 54.4L331.3 54.4ZM337.8 54.0L338.7 54.0L338.5 54.4L337.7 54.3ZM331.2 60.9L332.0 60.3L332.5 59.3L333.2 59.1L334.5 58.4L334.8 59.2L335.7 58.4L336.9 59.5L338.7 59.8L340.2 59.4L341.1 60.3L341.7 61.0L343.1 62.5L345.2 62.8L346.4 63.5L347.0 64.0L347.6 65.6L347.6 66.9L348.8 67.4L350.7 67.9L351.3 68.8L352.8 68.9L354.6 69.5L355.5 70.3L356.6 70.7L356.9 72.1L356.8 73.2L355.6 74.6L354.8 76.0L354.6 78.1L354.4 79.8L353.8 81.2L353.6 82.3L353.1 83.0L351.6 83.1L350.4 83.7L349.4 85.1L349.5 86.8L348.6 88.6L347.8 89.6L347.2 90.7L345.8 91.3L344.5 90.7L345.4 92.3L345.4 93.6L343.1 94.2L343.3 95.6L341.8 95.6L342.8 96.7L342.4 98.0L341.5 99.0L342.5 99.8L342.2 101.3L341.8 102.3L342.5 103.3L342.6 103.7L344.9 104.9L343.6 105.4L341.9 104.9L340.1 103.7L338.7 102.4L337.6 100.4L337.7 99.0L337.6 97.3L337.1 96.1L336.7 94.5L336.3 92.9L336.5 91.4L336.7 90.0L336.3 87.9L336.3 85.8L336.2 83.3L336.1 80.9L335.9 79.8L334.8 78.8L332.6 77.4L332.0 76.6L331.4 75.3L330.5 73.5L329.7 71.9L328.7 71.1L328.6 70.0L329.3 69.3L329.4 68.6L328.8 68.4L329.1 67.2L329.4 66.3L330.1 65.9L330.3 65.1L331.1 64.2L331.0 63.1L331.1 62.1L330.8 61.9ZM346.2 102.7L347.7 102.7L347.6 103.2L346.4 103.2ZM374.6 41.9L376.9 42.4L378.0 41.9L379.7 41.2L382.0 41.0L383.7 40.8L384.3 41.1L384.0 42.1L383.9 43.1L384.3 43.7L385.6 43.9L386.9 44.3L388.2 45.3L389.4 45.7L389.6 44.7L390.4 43.9L391.4 44.3L392.5 44.7L394.9 45.3L396.0 44.9L396.8 45.0L397.0 45.9L397.7 47.3L398.7 49.8L399.2 50.8L400.2 52.2L400.2 53.6L401.1 54.3L401.8 56.1L402.8 56.8L404.0 58.1L404.2 58.9L404.9 59.6L406.4 59.1L408.9 58.6L408.8 59.6L408.3 61.3L407.1 63.8L405.9 65.3L404.7 66.2L403.5 67.6L402.4 68.9L402.0 70.0L401.5 71.4L401.9 72.5L402.1 73.9L402.5 74.6L402.4 77.0L402.0 78.2L400.2 79.3L398.9 80.7L399.1 82.3L399.0 83.7L397.5 84.7L397.3 85.8L396.7 87.2L395.7 88.4L394.2 90.0L392.8 90.7L390.6 90.8L389.5 91.2L388.6 90.8L388.4 89.6L388.1 87.9L387.6 86.8L386.8 85.4L386.6 83.0L385.8 81.2L385.1 79.5L385.1 78.1L385.5 76.3L386.2 75.5L386.3 74.2L385.9 73.1L385.5 71.1L385.3 70.4L384.7 69.6L383.8 68.4L383.3 67.4L383.8 66.6L384.0 65.3L383.9 64.2L383.2 63.7L382.2 63.8L381.6 63.9L380.7 62.6L379.5 62.5L378.6 62.8L377.4 63.3L376.8 63.5L375.9 63.3L374.7 63.3L373.4 63.8L372.4 63.2L371.0 62.1L370.4 61.7L369.9 61.0L370.0 60.3L369.1 59.3L368.8 58.9L367.9 58.3L367.9 57.5L367.5 56.6L368.1 55.7L368.3 54.3L368.3 53.3L367.9 52.2L368.5 50.3L369.2 49.4L369.5 48.5L370.4 47.5L371.3 47.0L372.2 46.3L372.3 44.9L373.1 43.6L374.1 43.1ZM407.8 75.3L408.2 77.7L407.7 79.1L406.4 82.8L405.8 84.4L404.7 84.8L403.9 83.3L403.8 82.1L404.4 80.9L404.4 79.1L405.0 78.1L406.3 77.4L407.1 76.3ZM374.8 41.7L374.4 41.3L373.8 40.9L372.9 41.0L372.7 39.8L373.1 37.9L372.9 36.9L373.6 36.4L375.3 36.5L376.9 36.6L377.3 35.8L377.4 34.8L376.8 34.0L375.6 33.5L375.5 33.1L376.4 32.9L377.2 32.9L377.0 32.3L378.1 32.4L378.8 31.5L379.8 31.1L380.3 30.4L380.6 29.9L381.6 29.7L382.4 29.5L382.4 28.7L382.1 27.7L382.2 27.3L383.2 27.0L383.2 27.7L383.1 28.5L383.5 29.4L384.1 29.3L385.2 29.4L386.4 29.1L387.4 28.9L387.9 29.1L388.6 28.5L388.5 27.5L388.9 27.0L390.1 27.2L390.1 26.5L389.5 26.0L390.7 25.7L391.6 25.7L392.7 25.5L391.8 25.1L390.1 25.3L388.9 25.5L388.2 24.8L388.1 23.6L389.1 22.6L389.6 22.0L388.8 21.8L388.1 22.0L387.9 22.8L386.9 23.4L386.2 24.2L386.3 25.0L387.1 25.6L386.8 26.1L386.2 26.9L386.0 27.9L385.2 28.4L384.6 28.5L384.4 27.9L383.8 27.0L383.4 26.1L383.1 25.8L382.7 26.2L381.7 26.8L380.8 26.2L380.4 25.1L380.4 24.2L381.1 23.7L382.0 23.3L382.9 22.9L383.5 22.0L383.9 21.1L384.7 20.3L385.7 19.7L386.7 19.3L387.9 18.9L389.2 18.7L390.3 18.8L391.5 19.2L391.5 19.5L392.7 19.7L393.9 19.9L396.1 20.6L396.7 21.3L395.6 21.7L393.9 21.3L393.0 21.3L393.8 22.0L394.2 22.7L395.5 22.8L396.8 22.6L396.3 21.8L397.8 21.6L397.8 20.5L397.3 20.2L398.5 20.4L399.1 21.2L399.5 20.7L401.6 20.3L402.3 20.4L403.7 20.0L404.7 19.8L404.9 20.3L406.4 19.8L407.7 20.0L408.5 20.4L407.4 19.6L407.1 18.7L407.0 17.6L408.6 17.7L409.4 18.7L410.0 20.2L411.3 21.2L410.8 20.2L410.1 18.7L409.8 17.9L411.2 18.1L412.5 18.2L411.7 17.3L413.9 17.1L413.6 16.5L415.2 16.1L417.3 15.8L418.8 15.1L420.6 15.5L423.2 15.9L425.1 17.1L423.8 17.2L425.2 17.3L427.4 17.4L429.6 17.5L431.1 17.3L433.0 18.0L433.7 18.7L434.8 18.5L436.1 18.5L437.8 18.5L437.2 17.8L440.0 18.0L442.6 18.5L443.9 18.8L447.4 19.3L448.5 19.6L450.5 19.6L451.4 19.3L453.3 19.9L452.7 19.3L455.1 19.5L457.6 20.0L460.9 22.2L460.8 22.6L460.1 22.5L462.4 23.6L463.0 23.9L461.5 24.3L460.8 25.0L460.7 25.5L458.6 25.5L457.4 25.5L458.6 26.8L458.2 26.9L460.0 27.9L460.2 28.9L459.9 29.4L459.9 30.1L460.1 31.4L458.5 30.1L456.6 28.4L455.9 27.2L456.3 26.4L456.3 25.3L456.3 24.5L455.7 23.9L454.4 24.4L453.0 24.4L453.3 25.7L451.8 25.9L449.3 25.9L447.7 26.0L447.3 26.9L447.2 28.1L446.8 28.9L448.2 29.3L449.3 29.3L450.7 29.9L451.3 31.1L452.6 32.7L452.6 34.2L452.3 35.8L451.4 37.0L450.6 36.8L450.3 37.3L450.2 38.0L450.4 38.6L449.5 39.1L450.4 39.9L451.5 41.0L452.0 42.1L451.9 42.4L451.1 42.6L450.5 42.8L450.0 41.4L449.7 40.5L448.5 40.0L448.3 39.2L447.6 38.9L446.6 39.6L446.3 39.8L446.1 38.5L445.5 38.3L445.0 39.0L444.2 39.5L445.0 40.3L445.5 40.8L446.4 40.5L447.5 40.8L446.9 41.3L446.4 42.2L447.1 43.0L447.9 44.0L448.7 44.8L448.5 45.6L449.2 46.1L449.3 47.1L448.9 48.0L448.6 49.1L447.9 49.8L447.3 50.6L445.9 51.2L445.2 51.5L444.1 51.9L443.8 52.7L443.3 51.9L442.3 51.8L441.6 52.4L441.3 53.6L441.8 54.7L443.1 55.7L443.9 57.5L444.0 58.6L442.7 59.6L442.5 60.3L441.6 60.8L441.5 59.9L440.6 59.5L439.9 58.5L438.9 58.0L438.6 57.5L438.4 58.2L438.2 59.6L438.7 61.0L439.2 62.1L440.1 62.6L440.8 63.8L440.9 65.2L441.3 65.9L440.8 65.9L439.5 64.9L439.0 63.8L438.8 62.5L438.0 61.3L437.6 61.3L437.7 59.9L437.5 58.5L437.0 57.1L436.6 55.4L435.9 55.4L435.3 55.9L434.7 55.6L434.4 54.0L433.8 52.9L433.0 52.2L432.6 51.2L431.8 51.3L431.0 51.7L430.1 51.9L429.8 52.6L429.1 53.1L428.3 54.1L427.4 55.2L426.7 55.8L426.3 56.4L426.4 57.7L426.2 58.9L426.3 59.7L425.8 60.4L425.4 60.7L425.0 61.2L424.3 60.6L423.8 59.0L423.1 57.8L422.5 56.4L422.0 55.0L421.5 53.6L421.3 52.2L421.0 51.7L420.3 52.4L419.0 51.4L419.6 51.0L418.6 50.5L417.6 49.5L417.3 49.1L415.8 49.2L414.4 49.3L412.9 49.1L411.8 48.9L411.4 48.0L410.1 48.3L408.9 47.7L407.9 46.8L407.2 45.8L406.4 45.7L406.0 46.1L406.4 47.0L407.3 48.2L407.6 48.9L408.3 48.7L408.5 49.6L410.0 50.0L410.8 49.1L411.2 48.6L411.5 49.8L412.8 50.4L413.5 51.2L412.9 52.6L412.5 53.6L411.5 54.4L410.7 55.0L409.4 55.7L407.5 57.0L405.2 57.9L404.2 58.0L403.8 56.8L403.6 55.5L402.5 53.6L401.3 51.9L400.6 50.1L399.7 48.7L398.5 47.3L398.4 46.3L398.1 47.3L397.5 46.8L397.0 45.9L396.8 45.0L397.9 45.0L398.2 44.2L398.4 42.8L398.5 41.7L398.6 41.2L397.6 41.2L396.5 41.7L395.5 41.2L394.5 41.4L393.6 41.0L393.2 40.0L392.7 39.3L392.7 38.8L394.2 38.2L395.5 38.1L396.6 37.5L397.4 37.5L398.3 38.0L399.5 38.2L401.1 37.9L400.9 37.0L399.7 36.4L398.6 35.7L398.0 35.3L398.5 34.5L399.1 34.0L398.2 34.1L397.1 34.6L397.8 35.3L397.2 35.5L396.5 35.9L395.7 35.2L396.1 34.8L395.3 34.5L394.6 34.5L394.1 35.3L393.7 36.2L393.4 36.7L393.4 37.3L393.7 37.9L394.1 38.1L392.8 38.6L392.5 38.4L391.4 38.4L391.1 38.8L390.7 38.7L390.8 39.4L391.6 40.3L391.2 40.8L391.1 41.4L390.7 41.3L390.3 41.1L390.0 40.4L390.0 40.0L389.5 39.4L388.9 38.6L388.8 37.8L388.2 37.2L387.1 36.6L386.2 35.8L385.6 35.5L385.4 35.1L384.7 35.3L384.8 36.0L385.5 36.5L386.6 37.5L387.0 37.7L388.1 38.5L388.4 38.9L387.5 38.7L387.3 39.1L387.6 39.6L387.1 40.3L387.0 39.7L386.7 38.9L386.0 38.4L384.8 37.8L383.8 36.9L383.6 36.2L382.9 35.9L382.1 36.3L380.9 36.7L379.9 36.7L379.7 37.3L379.8 37.6L379.2 38.0L378.4 38.4L377.8 39.3L378.1 39.8L377.6 40.6L376.7 41.2L375.5 41.2ZM298.4 20.0L299.2 20.6L300.6 21.2L300.6 21.7L298.2 22.6L296.8 22.5L296.2 22.0L295.1 22.2ZM375.0 32.0L376.2 31.9L377.5 31.6L378.7 31.3L378.4 31.1L378.9 30.3L378.2 30.1L378.0 29.7L377.4 29.0L377.2 28.4L376.9 28.1L376.5 28.1L377.0 27.3L377.1 27.0L376.0 27.0L376.5 26.4L375.5 26.4L375.1 27.1L375.2 27.9L375.4 28.5L375.6 28.9L376.3 28.8L376.5 29.5L376.4 29.9L375.6 29.9L375.8 30.2L375.9 30.5L375.2 30.8L376.3 31.1L375.8 31.3ZM372.8 31.0L373.8 30.9L374.7 30.6L374.9 29.9L375.1 29.1L374.9 28.6L374.3 28.5L373.7 29.1L372.9 29.3L373.0 29.9L373.1 30.3L372.6 30.7ZM385.1 40.3L386.8 40.2L386.6 41.2L385.1 40.6ZM382.6 38.2L383.3 38.2L383.4 39.5L382.7 39.6ZM382.8 37.2L383.2 36.9L383.3 37.8L382.9 37.9ZM391.5 42.1L393.1 42.3L391.8 42.4ZM396.5 42.4L397.7 42.0L397.2 42.6ZM400.2 18.7L400.3 17.6L400.9 16.5L402.5 15.8L405.3 15.5L404.7 16.1L402.7 16.8L402.3 18.2L401.8 18.9ZM382.2 14.2L384.0 13.9L386.3 13.8L388.2 13.9L386.1 14.7L385.1 15.2L384.6 15.6L383.5 15.2L382.3 14.7ZM414.5 14.4L415.1 13.5L418.3 14.4L417.0 14.9ZM434.0 16.2L435.2 16.0L439.1 16.3L437.5 16.6L434.6 16.6ZM450.5 29.2L451.9 30.1L453.6 32.1L454.7 32.7L454.9 34.1L455.6 34.7L454.9 34.8L454.0 33.4L452.7 31.7L451.7 30.7ZM455.6 37.5L455.2 36.7L455.0 35.2L456.1 35.8L457.5 36.0L458.0 36.7L457.4 37.5L455.9 37.2L456.3 37.7ZM456.6 38.0L457.7 39.3L457.6 40.1L458.3 41.4L458.4 41.9L458.1 42.4L457.6 42.6L456.6 42.7L456.6 42.9L456.3 43.5L455.5 42.7L454.4 42.9L453.4 43.1L453.2 42.9L453.8 42.1L454.6 42.1L455.7 41.9L455.7 41.0L455.8 40.7L455.9 41.2L456.5 40.7L456.7 40.0L456.5 39.1L456.1 38.5L456.1 38.1ZM453.3 43.2L454.0 43.6L454.3 44.9L453.9 45.1L453.4 44.3L452.8 43.7ZM454.2 43.1L455.3 43.0L455.4 43.6L454.9 44.0L454.3 43.6ZM449.8 49.3L450.2 49.8L449.9 51.5L449.3 50.8L449.5 49.6ZM443.0 53.4L444.0 52.9L444.3 53.3L443.6 54.2L443.0 53.8ZM426.4 60.0L427.2 61.0L427.6 62.0L427.1 62.6L426.6 62.7L426.4 61.3ZM450.2 54.0L451.1 54.0L451.3 55.5L451.2 56.8L452.8 57.8L452.9 58.1L452.0 57.3L450.9 57.3L450.6 56.8L450.0 55.5L450.2 54.7ZM452.0 62.0L452.8 60.9L453.9 60.0L454.6 61.3L454.5 62.4L454.1 63.0L453.2 62.1ZM453.4 58.2L454.0 59.2L453.6 59.9L453.2 59.1ZM451.7 58.6L452.5 59.2L452.5 60.5L452.1 60.0L451.8 59.6ZM449.0 61.0L450.2 59.0L450.3 59.6L449.2 61.1ZM435.8 63.0L437.2 63.3L438.7 64.8L440.6 66.6L441.5 67.9L442.4 69.0L442.2 71.0L441.4 71.0L440.1 69.7L439.1 67.9L438.0 65.9L436.9 64.8ZM441.8 71.7L442.8 71.1L443.8 71.5L445.2 71.4L446.3 71.7L447.3 72.3L447.3 72.9L445.2 72.7L443.4 72.4L442.5 72.0ZM444.5 65.5L445.4 65.8L446.6 64.7L447.8 63.4L448.8 62.0L450.3 63.3L449.6 63.9L449.6 65.5L450.3 66.2L449.4 66.6L449.4 67.6L448.6 69.0L448.4 69.7L447.6 69.7L446.6 69.1L445.8 69.1L444.9 68.9L444.8 67.8L444.2 66.9L444.2 66.0ZM450.5 70.7L450.8 69.3L450.2 68.8L450.6 67.5L450.8 66.6L451.4 66.0L452.7 66.2L454.0 65.8L453.7 66.6L452.8 66.6L451.5 66.6L451.0 67.5L451.8 67.5L452.9 67.5L452.1 68.1L451.8 68.3L452.4 69.3L452.7 70.0L452.3 70.5L451.9 70.3L451.5 69.3L451.1 69.0L451.1 70.7ZM457.6 67.5L458.8 67.2L459.6 67.6L459.6 68.9L460.3 69.2L461.7 68.0L463.7 68.7L465.7 69.6L466.6 70.4L467.7 71.2L467.1 71.7L467.9 72.8L469.2 74.0L467.5 74.0L467.1 73.5L465.8 72.3L464.9 72.7L464.3 73.3L463.4 73.3L462.5 72.6L461.4 72.8L462.2 71.8L461.7 70.7L460.6 70.0L459.4 69.6L458.6 69.7L458.2 68.9L459.1 68.5L458.2 68.4L457.6 67.9ZM447.4 72.6L450.1 72.6L452.5 72.6L452.5 73.0L450.1 73.1L447.3 73.0ZM452.7 74.1L455.0 72.8L454.6 73.2L453.0 74.1ZM455.5 65.5L456.1 65.9L455.8 66.9L455.6 67.5L455.4 66.3ZM468.1 70.8L469.3 70.7L470.4 69.8L469.9 70.7L468.7 71.3ZM464.2 74.4L464.6 75.9L464.6 76.9L465.4 77.4L465.5 78.7L465.7 80.4L466.8 81.2L467.0 82.5L467.5 83.3L468.3 84.6L468.0 86.1L468.0 87.0L467.0 88.6L465.8 89.8L465.0 90.6L463.7 92.1L463.0 93.1L461.7 93.4L460.3 94.2L460.0 93.5L458.9 94.0L457.7 93.5L457.4 92.6L457.2 91.8L457.4 91.2L457.7 89.6L455.9 91.3L455.5 90.0L455.3 89.3L454.1 88.9L452.8 89.1L450.9 89.5L449.6 90.0L448.1 90.6L447.1 90.6L445.6 91.4L444.5 91.2L444.1 90.9L445.1 89.3L445.0 88.2L445.0 86.5L444.8 85.1L445.4 83.7L445.6 82.6L445.9 82.1L447.2 81.4L448.8 81.1L450.3 80.6L451.2 79.5L452.1 78.8L452.8 78.1L453.9 76.8L455.0 76.8L455.2 77.4L455.9 77.3L456.4 76.1L457.0 75.6L457.7 75.4L458.1 74.8L459.6 75.4L460.6 75.4L460.0 76.3L459.5 77.4L460.6 78.1L461.4 79.1L462.4 79.1L463.1 77.7L463.5 76.0L463.8 74.6ZM458.8 95.3L459.6 95.6L460.7 95.5L460.0 96.5L459.1 97.2L458.2 97.4L458.3 96.5ZM477.2 91.0L477.7 91.6L477.5 92.6L477.7 93.1L479.1 93.3L478.0 94.3L477.1 94.9L475.4 96.0L475.2 95.8L476.1 94.9L475.7 94.4L476.8 93.6L477.2 92.6L477.1 91.4ZM474.5 95.2L475.0 95.7L474.2 96.5L472.9 97.4L471.5 98.0L470.4 98.9L468.8 99.4L468.1 99.0L469.5 98.0L470.5 97.6L472.0 96.9L473.2 96.1ZM475.9 81.0L477.1 81.9L477.3 82.5L476.5 82.1ZM341.0 14.8L343.5 13.7L345.1 13.9L343.9 14.7ZM336.4 16.4L338.9 15.6L338.4 16.4L337.0 16.6ZM328.4 16.0L331.4 15.3L331.6 15.7L329.5 16.1ZM334.0 19.9L335.5 19.4L335.8 19.9L334.7 20.2ZM396.7 13.7L399.5 13.5L401.2 13.7L398.8 13.9ZM399.4 19.8L399.9 19.6L400.1 20.0L399.6 20.0ZM284.8 53.1L285.5 52.8L285.5 53.3L284.9 53.7ZM283.8 51.8L284.1 52.0L284.9 52.5L284.7 52.2ZM473.2 71.8L474.9 72.8L475.7 73.9L474.8 73.5ZM478.2 77.4L478.5 78.1L478.5 77.5ZM484.3 79.1L485.0 79.2L484.6 79.6ZM414.5 101.1L415.4 101.1L415.1 101.5L414.5 101.5ZM358.6 104.4L359.6 104.6L359.6 104.9ZM340.6 59.4L341.1 59.3L341.1 59.8L340.6 59.8ZM336.7 15.2L339.3 14.7L339.6 15.0L337.7 15.3ZM338.8 23.7L339.8 23.6L340.0 24.1L338.8 24.1ZM403.5 35.1L404.9 34.2L406.6 34.5L406.9 35.5L405.9 35.8L405.9 37.2L407.2 37.9L408.0 39.3L408.6 41.0L407.0 41.2L405.8 40.7L405.6 39.6L405.7 38.6L404.6 37.5L404.0 36.5ZM314.9 121.8L317.8 122.0L322.8 122.1L326.2 122.1L326.1 121.6L323.2 120.8L319.5 119.9L315.0 119.4L315.5 118.5L318.3 118.3L319.8 118.0L322.8 117.3L326.6 117.1L330.7 117.1L335.0 117.3L336.2 116.5L339.7 117.0L342.7 116.7L344.7 116.6L346.2 116.4L347.2 114.2L347.9 113.0L348.4 111.5L349.8 111.0L351.3 110.5L350.9 111.3L350.3 112.4L350.0 113.6L352.0 116.4L350.4 117.6L348.1 118.4L350.6 119.6L354.1 120.4L357.9 120.8L362.1 120.7L365.5 119.9L368.3 119.1L370.1 118.4L371.8 116.7L373.8 115.8L375.9 115.5L378.0 115.1L382.3 114.9L386.7 114.8L391.1 114.5L393.4 114.2L395.7 113.9L398.1 113.2L400.6 112.7L402.1 112.3L403.8 112.7L405.8 113.1L408.4 113.3L408.8 114.2L409.3 114.8L410.8 114.4L412.7 113.6L415.0 112.8L417.9 112.6L421.2 112.4L423.7 112.1L425.7 112.4L428.1 112.2L430.2 112.5L432.3 112.6L434.9 112.3L437.3 112.1L439.6 112.1L441.4 112.6L443.4 112.8L444.7 113.5L446.3 114.0L447.7 114.6L449.3 115.0L451.1 115.3L447.7 116.7L442.5 118.6L440.6 119.4L437.8 121.0L438.1 121.6L441.1 121.8" fill="none" stroke="#111" stroke-width="0.42" stroke-linejoin="round"/>
</g>
<path d="M436.2 123.3L438.3 122.7L440.6 122.0L443.2 121.0L446.0 119.9L448.8 118.6L451.6 117.3L454.2 115.9L456.6 114.5L458.9 113.0L461.1 111.5L463.3 109.9L465.4 108.3L467.4 106.7L469.3 105.1L471.2 103.4L472.9 101.7L474.5 100.0L476.0 98.3L477.5 96.6L478.8 94.9L480.0 93.1L481.1 91.4L482.1 89.6L483.0 87.9L483.8 86.1L484.4 84.4L485.0 82.6L485.5 80.9L485.9 79.1L486.3 77.4L486.6 75.6L486.9 73.9L487.1 72.1L487.2 70.4L487.3 68.6L487.4 66.9L487.3 65.2L487.2 63.4L487.1 61.7L486.9 59.9L486.6 58.2L486.3 56.4L485.9 54.7L485.5 52.9L485.0 51.2L484.4 49.4L483.8 47.7L483.0 45.9L482.1 44.2L481.1 42.4L480.0 40.7L478.8 38.9L477.5 37.2L476.0 35.5L474.5 33.8L472.9 32.1L471.2 30.4L469.3 28.7L467.4 27.1L465.4 25.5L463.3 23.9L461.1 22.3L458.9 20.8L456.6 19.3L454.2 17.9L451.6 16.5L448.8 15.2L446.0 13.9L443.2 12.8L440.6 11.8L438.3 11.1L436.2 10.5L319.8 10.5L317.7 11.1L315.4 11.8L312.8 12.8L310.0 13.9L307.2 15.2L304.4 16.5L301.8 17.9L299.4 19.3L297.1 20.8L294.9 22.3L292.7 23.9L290.6 25.5L288.6 27.1L286.7 28.7L284.8 30.4L283.1 32.1L281.5 33.8L280.0 35.5L278.5 37.2L277.2 38.9L276.0 40.7L274.9 42.4L273.9 44.2L273.0 45.9L272.2 47.7L271.6 49.4L271.0 51.2L270.5 52.9L270.1 54.7L269.7 56.4L269.4 58.2L269.1 59.9L268.9 61.7L268.8 63.4L268.7 65.2L268.6 66.9L268.7 68.6L268.8 70.4L268.9 72.1L269.1 73.9L269.4 75.6L269.7 77.4L270.1 79.1L270.5 80.9L271.0 82.6L271.6 84.4L272.2 86.1L273.0 87.9L273.9 89.6L274.9 91.4L276.0 93.1L277.2 94.9L278.5 96.6L280.0 98.3L281.5 100.0L283.1 101.7L284.8 103.4L286.7 105.1L288.6 106.7L290.6 108.3L292.7 109.9L294.9 111.5L297.1 113.0L299.4 114.5L301.8 115.9L304.4 117.3L307.2 118.6L310.0 119.9L312.8 121.0L315.4 122.0L317.7 122.7L319.8 123.3Z" fill="none" stroke="#333" stroke-width="0.5"/>
<text transform="translate(378.30,9.30) scale(0.87,1)" font-size="5.23" text-anchor="middle">CMIP6 model mean (total)</text>
<text transform="translate(260.00,17.70) scale(0.78,1)" font-size="12.10">b)</text>
<text x="289.1" y="26.5" font-size="3.2" text-anchor="end" style="fill:#111">60°N</text>
<text x="467.4" y="26.5" font-size="3.2" style="fill:#111">60°N</text>
<text x="271.5" y="47.0" font-size="3.2" text-anchor="end" style="fill:#111">30°N</text>
<text x="485.0" y="47.0" font-size="3.2" style="fill:#111">30°N</text>
<text x="267.1" y="68.0" font-size="3.2" text-anchor="end" style="fill:#111">0°</text>
<text x="489.4" y="68.0" font-size="3.2" style="fill:#111">0°</text>
<text x="271.5" y="88.9" font-size="3.2" text-anchor="end" style="fill:#111">30°S</text>
<text x="485.0" y="88.9" font-size="3.2" style="fill:#111">30°S</text>
<text x="289.1" y="109.4" font-size="3.2" text-anchor="end" style="fill:#111">60°S</text>
<text x="467.4" y="109.4" font-size="3.2" style="fill:#111">60°S</text>
<clipPath id="clipc"><path d="M436.2 245.9L438.3 245.3L440.6 244.6L443.2 243.6L446.0 242.5L448.8 241.2L451.6 239.9L454.2 238.5L456.6 237.1L458.9 235.6L461.1 234.1L463.3 232.5L465.4 230.9L467.4 229.3L469.3 227.7L471.2 226.0L472.9 224.3L474.5 222.6L476.0 220.9L477.5 219.2L478.8 217.5L480.0 215.7L481.1 214.0L482.1 212.2L483.0 210.5L483.8 208.7L484.4 207.0L485.0 205.2L485.5 203.5L485.9 201.7L486.3 200.0L486.6 198.2L486.9 196.5L487.1 194.7L487.2 193.0L487.3 191.2L487.4 189.5L487.3 187.8L487.2 186.0L487.1 184.3L486.9 182.5L486.6 180.8L486.3 179.0L485.9 177.3L485.5 175.5L485.0 173.8L484.4 172.0L483.8 170.3L483.0 168.5L482.1 166.8L481.1 165.0L480.0 163.3L478.8 161.5L477.5 159.8L476.0 158.1L474.5 156.4L472.9 154.7L471.2 153.0L469.3 151.3L467.4 149.7L465.4 148.1L463.3 146.5L461.1 144.9L458.9 143.4L456.6 141.9L454.2 140.5L451.6 139.1L448.8 137.8L446.0 136.5L443.2 135.4L440.6 134.4L438.3 133.7L436.2 133.1L319.8 133.1L317.7 133.7L315.4 134.4L312.8 135.4L310.0 136.5L307.2 137.8L304.4 139.1L301.8 140.5L299.4 141.9L297.1 143.4L294.9 144.9L292.7 146.5L290.6 148.1L288.6 149.7L286.7 151.3L284.8 153.0L283.1 154.7L281.5 156.4L280.0 158.1L278.5 159.8L277.2 161.5L276.0 163.3L274.9 165.0L273.9 166.8L273.0 168.5L272.2 170.3L271.6 172.0L271.0 173.8L270.5 175.5L270.1 177.3L269.7 179.0L269.4 180.8L269.1 182.5L268.9 184.3L268.8 186.0L268.7 187.8L268.6 189.5L268.7 191.2L268.8 193.0L268.9 194.7L269.1 196.5L269.4 198.2L269.7 200.0L270.1 201.7L270.5 203.5L271.0 205.2L271.6 207.0L272.2 208.7L273.0 210.5L273.9 212.2L274.9 214.0L276.0 215.7L277.2 217.5L278.5 219.2L280.0 220.9L281.5 222.6L283.1 224.3L284.8 226.0L286.7 227.7L288.6 229.3L290.6 230.9L292.7 232.5L294.9 234.1L297.1 235.6L299.4 237.1L301.8 238.5L304.4 239.9L307.2 241.2L310.0 242.5L312.8 243.6L315.4 244.6L317.7 245.3L319.8 245.9Z"/></clipPath>
<clipPath id="landc"><path d="M300.9 144.6L304.1 142.9L307.5 141.8L310.7 141.2L312.9 141.6L316.1 142.2L318.6 142.3L322.2 141.8L323.0 142.3L326.9 142.8L329.7 143.1L332.8 143.2L335.3 142.8L337.7 140.8L337.6 142.2L338.0 142.8L340.4 142.2L342.1 142.0L341.4 143.4L338.8 144.1L337.6 145.2L334.5 145.7L335.4 146.0L332.8 147.4L331.6 148.9L331.9 150.0L333.9 150.3L335.0 151.1L336.3 151.3L335.7 152.7L335.9 153.8L336.8 153.7L337.7 152.0L339.7 150.3L339.9 149.0L340.1 148.1L341.3 146.5L343.1 146.6L344.3 147.4L343.9 148.8L345.0 149.2L346.5 147.9L346.8 148.4L347.2 150.3L348.1 151.3L348.7 152.3L349.0 153.3L347.4 153.9L346.4 154.5L343.2 154.5L341.2 155.7L339.8 156.8L342.9 155.3L343.7 155.3L343.1 156.4L345.0 157.4L345.6 157.1L344.8 157.9L343.0 158.4L341.7 159.1L341.5 158.1L339.6 159.0L339.2 160.3L336.7 161.2L335.3 162.9L334.8 163.6L334.8 164.9L333.4 165.7L331.7 166.9L330.6 168.2L330.9 170.6L330.5 171.8L329.9 171.7L329.4 170.1L329.5 169.1L328.9 168.5L328.1 168.7L326.7 168.2L325.7 169.1L324.8 169.0L323.1 168.9L321.1 169.9L320.6 171.3L319.9 173.8L320.6 176.1L321.4 176.8L323.0 176.4L324.1 174.8L326.2 174.5L325.5 176.6L324.8 178.3L326.3 178.5L327.8 178.9L327.6 180.8L327.4 181.8L328.1 183.1L328.9 183.3L329.9 182.9L331.1 183.4L330.8 184.5L329.9 183.2L329.2 184.4L327.8 183.8L327.4 183.6L326.2 182.5L325.2 180.5L324.0 180.1L322.5 179.4L321.2 178.2L319.7 178.5L318.0 177.6L316.9 176.9L315.0 175.5L315.3 173.8L314.2 171.7L313.6 170.6L312.3 168.9L312.1 167.6L311.4 167.3L311.2 168.5L312.0 169.9L312.4 171.7L313.0 173.3L312.6 173.1L311.8 172.0L310.8 170.5L310.5 169.9L311.1 169.6L310.5 168.4L310.3 166.8L309.8 165.7L308.8 165.3L308.6 163.8L308.7 163.1L308.7 161.3L309.5 159.5L310.9 157.3L311.5 155.8L312.3 156.4L312.7 155.2L311.5 154.0L311.7 153.0L311.6 151.7L311.8 150.7L311.9 149.2L310.8 148.8L309.9 148.2L308.1 148.1L306.5 147.7L304.0 148.5L305.4 147.4L302.6 148.7L299.9 150.0L297.9 150.8L295.1 151.5L294.1 151.6L296.3 150.8L299.3 149.7L300.6 148.9L298.3 149.0L299.4 148.1L298.4 147.4L299.0 146.8L300.3 146.2L302.5 145.9L303.3 145.2L301.4 145.2ZM347.0 146.9L347.6 146.2L350.1 143.8L348.1 142.2L347.0 141.2L345.2 140.2L344.2 139.8L342.5 139.9L341.0 139.8L339.9 140.5L340.7 141.6L342.2 141.9L343.7 142.2L344.7 143.1L344.6 144.3L343.8 145.1L341.8 145.2L344.2 145.9L345.7 146.6ZM326.3 142.5L327.4 141.1L329.6 140.2L332.6 140.2L333.3 140.8L333.7 141.9L331.4 142.8L327.8 142.8ZM324.7 140.8L326.7 139.7L328.4 139.5L329.4 140.0L327.0 141.1L325.1 141.2ZM341.9 138.4L343.9 137.3L343.8 136.1L347.1 135.5L352.9 135.2L355.5 135.4L353.9 136.1L350.5 136.9L348.5 137.4L346.4 138.3L343.9 138.4ZM341.2 138.3L345.5 138.8L344.9 139.3L340.4 139.3ZM330.5 139.1L333.9 138.4L335.5 138.7L334.1 139.2L331.4 139.4ZM335.4 139.9L337.2 139.8L336.7 140.8L335.1 141.1L334.6 140.5ZM338.4 139.7L340.2 139.7L339.8 140.3L337.6 140.7ZM338.0 144.6L339.6 144.3L340.6 145.2L339.0 146.0L337.8 145.7ZM346.2 156.2L348.8 153.6L349.8 155.7L349.4 156.9L347.8 156.8ZM310.7 154.2L312.1 154.7L312.2 155.8L311.3 155.5ZM349.6 137.4L352.7 137.0L356.1 135.6L361.8 135.3L366.3 135.0L370.7 135.6L373.8 135.9L371.2 136.5L370.5 138.0L369.8 139.4L368.6 140.8L368.4 141.8L366.4 142.8L363.6 143.4L361.1 144.4L359.4 145.2L357.8 146.8L356.6 148.2L354.9 147.4L354.1 145.9L354.0 144.9L353.8 143.7L354.6 142.5L354.3 141.6L354.5 140.5L354.3 139.1L353.0 138.6L350.6 138.6L350.0 137.9ZM367.0 144.6L368.0 144.1L370.7 144.0L371.5 144.9L371.0 145.4L369.1 145.9L367.5 145.6L367.8 145.1ZM327.4 174.2L329.3 173.3L331.1 173.7L333.0 175.0L333.7 175.4L331.7 175.6L331.5 175.0L329.8 174.1L328.0 174.3ZM333.5 176.6L334.4 175.6L336.2 175.7L337.1 176.5L335.5 176.9L334.9 176.8ZM331.1 176.6L332.3 176.7L332.2 177.0L331.3 177.0ZM337.8 176.6L338.7 176.6L338.5 177.0L337.7 176.9ZM331.2 183.5L332.0 182.9L332.5 181.9L333.2 181.7L334.5 181.0L334.8 181.8L335.7 181.0L336.9 182.1L338.7 182.4L340.2 182.0L341.1 182.9L341.7 183.6L343.1 185.1L345.2 185.4L346.4 186.1L347.0 186.6L347.6 188.2L347.6 189.5L348.8 190.0L350.7 190.5L351.3 191.4L352.8 191.5L354.6 192.1L355.5 192.9L356.6 193.3L356.9 194.7L356.8 195.8L355.6 197.2L354.8 198.6L354.6 200.7L354.4 202.4L353.8 203.8L353.6 204.9L353.1 205.6L351.6 205.7L350.4 206.3L349.4 207.7L349.5 209.4L348.6 211.2L347.8 212.2L347.2 213.3L345.8 213.9L344.5 213.3L345.4 214.9L345.4 216.2L343.1 216.8L343.3 218.2L341.8 218.2L342.8 219.3L342.4 220.6L341.5 221.6L342.5 222.4L342.2 223.9L341.8 224.9L342.5 225.9L342.6 226.3L344.9 227.5L343.6 228.0L341.9 227.5L340.1 226.3L338.7 225.0L337.6 223.0L337.7 221.6L337.6 219.9L337.1 218.7L336.7 217.1L336.3 215.5L336.5 214.0L336.7 212.6L336.3 210.5L336.3 208.4L336.2 205.9L336.1 203.5L335.9 202.4L334.8 201.4L332.6 200.0L332.0 199.2L331.4 197.9L330.5 196.1L329.7 194.5L328.7 193.7L328.6 192.6L329.3 191.9L329.4 191.2L328.8 191.0L329.1 189.8L329.4 188.9L330.1 188.5L330.3 187.7L331.1 186.8L331.0 185.7L331.1 184.7L330.8 184.5ZM346.2 225.3L347.7 225.3L347.6 225.8L346.4 225.8ZM374.6 164.5L376.9 165.0L378.0 164.5L379.7 163.8L382.0 163.6L383.7 163.4L384.3 163.7L384.0 164.7L383.9 165.7L384.3 166.3L385.6 166.5L386.9 166.9L388.2 167.9L389.4 168.3L389.6 167.3L390.4 166.5L391.4 166.9L392.5 167.3L394.9 167.9L396.0 167.5L396.8 167.6L397.0 168.5L397.7 169.9L398.7 172.4L399.2 173.4L400.2 174.8L400.2 176.2L401.1 176.9L401.8 178.7L402.8 179.4L404.0 180.7L404.2 181.5L404.9 182.2L406.4 181.7L408.9 181.2L408.8 182.2L408.3 183.9L407.1 186.4L405.9 187.9L404.7 188.8L403.5 190.2L402.4 191.5L402.0 192.6L401.5 194.0L401.9 195.1L402.1 196.5L402.5 197.2L402.4 199.6L402.0 200.8L400.2 201.9L398.9 203.3L399.1 204.9L399.0 206.3L397.5 207.3L397.3 208.4L396.7 209.8L395.7 211.0L394.2 212.6L392.8 213.3L390.6 213.4L389.5 213.8L388.6 213.4L388.4 212.2L388.1 210.5L387.6 209.4L386.8 208.0L386.6 205.6L385.8 203.8L385.1 202.1L385.1 200.7L385.5 198.9L386.2 198.1L386.3 196.8L385.9 195.7L385.5 193.7L385.3 193.0L384.7 192.2L383.8 191.0L383.3 190.0L383.8 189.2L384.0 187.9L383.9 186.8L383.2 186.3L382.2 186.4L381.6 186.5L380.7 185.2L379.5 185.1L378.6 185.4L377.4 185.9L376.8 186.1L375.9 185.9L374.7 185.9L373.4 186.4L372.4 185.8L371.0 184.7L370.4 184.3L369.9 183.6L370.0 182.9L369.1 181.9L368.8 181.5L367.9 180.9L367.9 180.1L367.5 179.2L368.1 178.3L368.3 176.9L368.3 175.9L367.9 174.8L368.5 172.9L369.2 172.0L369.5 171.1L370.4 170.1L371.3 169.6L372.2 168.9L372.3 167.5L373.1 166.2L374.1 165.7ZM407.8 197.9L408.2 200.3L407.7 201.7L406.4 205.4L405.8 207.0L404.7 207.4L403.9 205.9L403.8 204.7L404.4 203.5L404.4 201.7L405.0 200.7L406.3 200.0L407.1 198.9ZM374.8 164.3L374.4 163.9L373.8 163.5L372.9 163.6L372.7 162.4L373.1 160.5L372.9 159.5L373.6 159.0L375.3 159.1L376.9 159.2L377.3 158.4L377.4 157.4L376.8 156.6L375.6 156.1L375.5 155.7L376.4 155.5L377.2 155.5L377.0 154.9L378.1 155.0L378.8 154.1L379.8 153.7L380.3 153.0L380.6 152.5L381.6 152.3L382.4 152.1L382.4 151.3L382.1 150.3L382.2 149.9L383.2 149.6L383.2 150.3L383.1 151.1L383.5 152.0L384.1 151.9L385.2 152.0L386.4 151.7L387.4 151.5L387.9 151.7L388.6 151.1L388.5 150.1L388.9 149.6L390.1 149.8L390.1 149.1L389.5 148.6L390.7 148.3L391.6 148.3L392.7 148.1L391.8 147.7L390.1 147.9L388.9 148.1L388.2 147.4L388.1 146.2L389.1 145.2L389.6 144.6L388.8 144.4L388.1 144.6L387.9 145.4L386.9 146.0L386.2 146.8L386.3 147.6L387.1 148.2L386.8 148.7L386.2 149.5L386.0 150.5L385.2 151.0L384.6 151.1L384.4 150.5L383.8 149.6L383.4 148.7L383.1 148.4L382.7 148.8L381.7 149.4L380.8 148.8L380.4 147.7L380.4 146.8L381.1 146.3L382.0 145.9L382.9 145.5L383.5 144.6L383.9 143.7L384.7 142.9L385.7 142.3L386.7 141.9L387.9 141.5L389.2 141.3L390.3 141.4L391.5 141.8L391.5 142.1L392.7 142.3L393.9 142.5L396.1 143.2L396.7 143.9L395.6 144.3L393.9 143.9L393.0 143.9L393.8 144.6L394.2 145.3L395.5 145.4L396.8 145.2L396.3 144.4L397.8 144.2L397.8 143.1L397.3 142.8L398.5 143.0L399.1 143.8L399.5 143.3L401.6 142.9L402.3 143.0L403.7 142.6L404.7 142.4L404.9 142.9L406.4 142.4L407.7 142.6L408.5 143.0L407.4 142.2L407.1 141.3L407.0 140.2L408.6 140.3L409.4 141.3L410.0 142.8L411.3 143.8L410.8 142.8L410.1 141.3L409.8 140.5L411.2 140.7L412.5 140.8L411.7 139.9L413.9 139.7L413.6 139.1L415.2 138.7L417.3 138.4L418.8 137.7L420.6 138.1L423.2 138.5L425.1 139.7L423.8 139.8L425.2 139.9L427.4 140.0L429.6 140.1L431.1 139.9L433.0 140.6L433.7 141.3L434.8 141.1L436.1 141.1L437.8 141.1L437.2 140.4L440.0 140.6L442.6 141.1L443.9 141.4L447.4 141.9L448.5 142.2L450.5 142.2L451.4 141.9L453.3 142.5L452.7 141.9L455.1 142.1L457.6 142.6L460.9 144.8L460.8 145.2L460.1 145.1L462.4 146.2L463.0 146.5L461.5 146.9L460.8 147.6L460.7 148.1L458.6 148.1L457.4 148.1L458.6 149.4L458.2 149.5L460.0 150.5L460.2 151.5L459.9 152.0L459.9 152.7L460.1 154.0L458.5 152.7L456.6 151.0L455.9 149.8L456.3 149.0L456.3 147.9L456.3 147.1L455.7 146.5L454.4 147.0L453.0 147.0L453.3 148.3L451.8 148.5L449.3 148.5L447.7 148.6L447.3 149.5L447.2 150.7L446.8 151.5L448.2 151.9L449.3 151.9L450.7 152.5L451.3 153.7L452.6 155.3L452.6 156.8L452.3 158.4L451.4 159.6L450.6 159.4L450.3 159.9L450.2 160.6L450.4 161.2L449.5 161.7L450.4 162.5L451.5 163.6L452.0 164.7L451.9 165.0L451.1 165.2L450.5 165.4L450.0 164.0L449.7 163.1L448.5 162.6L448.3 161.8L447.6 161.5L446.6 162.2L446.3 162.4L446.1 161.1L445.5 160.9L445.0 161.6L444.2 162.1L445.0 162.9L445.5 163.4L446.4 163.1L447.5 163.4L446.9 163.9L446.4 164.8L447.1 165.6L447.9 166.6L448.7 167.4L448.5 168.2L449.2 168.7L449.3 169.7L448.9 170.6L448.6 171.7L447.9 172.4L447.3 173.2L445.9 173.8L445.2 174.1L444.1 174.5L443.8 175.3L443.3 174.5L442.3 174.4L441.6 175.0L441.3 176.2L441.8 177.3L443.1 178.3L443.9 180.1L444.0 181.2L442.7 182.2L442.5 182.9L441.6 183.4L441.5 182.5L440.6 182.1L439.9 181.1L438.9 180.6L438.6 180.1L438.4 180.8L438.2 182.2L438.7 183.6L439.2 184.7L440.1 185.2L440.8 186.4L440.9 187.8L441.3 188.5L440.8 188.5L439.5 187.5L439.0 186.4L438.8 185.1L438.0 183.9L437.6 183.9L437.7 182.5L437.5 181.1L437.0 179.7L436.6 178.0L435.9 178.0L435.3 178.5L434.7 178.2L434.4 176.6L433.8 175.5L433.0 174.8L432.6 173.8L431.8 173.9L431.0 174.3L430.1 174.5L429.8 175.2L429.1 175.7L428.3 176.7L427.4 177.8L426.7 178.4L426.3 179.0L426.4 180.3L426.2 181.5L426.3 182.3L425.8 183.0L425.4 183.3L425.0 183.8L424.3 183.2L423.8 181.6L423.1 180.4L422.5 179.0L422.0 177.6L421.5 176.2L421.3 174.8L421.0 174.3L420.3 175.0L419.0 174.0L419.6 173.6L418.6 173.1L417.6 172.1L417.3 171.7L415.8 171.8L414.4 171.9L412.9 171.7L411.8 171.5L411.4 170.6L410.1 170.9L408.9 170.3L407.9 169.4L407.2 168.4L406.4 168.3L406.0 168.7L406.4 169.6L407.3 170.8L407.6 171.5L408.3 171.3L408.5 172.2L410.0 172.6L410.8 171.7L411.2 171.2L411.5 172.4L412.8 173.0L413.5 173.8L412.9 175.2L412.5 176.2L411.5 177.0L410.7 177.6L409.4 178.3L407.5 179.6L405.2 180.5L404.2 180.6L403.8 179.4L403.6 178.1L402.5 176.2L401.3 174.5L400.6 172.7L399.7 171.3L398.5 169.9L398.4 168.9L398.1 169.9L397.5 169.4L397.0 168.5L396.8 167.6L397.9 167.6L398.2 166.8L398.4 165.4L398.5 164.3L398.6 163.8L397.6 163.8L396.5 164.3L395.5 163.8L394.5 164.0L393.6 163.6L393.2 162.6L392.7 161.9L392.7 161.4L394.2 160.8L395.5 160.7L396.6 160.1L397.4 160.1L398.3 160.6L399.5 160.8L401.1 160.5L400.9 159.6L399.7 159.0L398.6 158.3L398.0 157.9L398.5 157.1L399.1 156.6L398.2 156.7L397.1 157.2L397.8 157.9L397.2 158.1L396.5 158.5L395.7 157.8L396.1 157.4L395.3 157.1L394.6 157.1L394.1 157.9L393.7 158.8L393.4 159.3L393.4 159.9L393.7 160.5L394.1 160.7L392.8 161.2L392.5 161.0L391.4 161.0L391.1 161.4L390.7 161.3L390.8 162.0L391.6 162.9L391.2 163.4L391.1 164.0L390.7 163.9L390.3 163.7L390.0 163.0L390.0 162.6L389.5 162.0L388.9 161.2L388.8 160.4L388.2 159.8L387.1 159.2L386.2 158.4L385.6 158.1L385.4 157.7L384.7 157.9L384.8 158.6L385.5 159.1L386.6 160.1L387.0 160.3L388.1 161.1L388.4 161.5L387.5 161.3L387.3 161.7L387.6 162.2L387.1 162.9L387.0 162.3L386.7 161.5L386.0 161.0L384.8 160.4L383.8 159.5L383.6 158.8L382.9 158.5L382.1 158.9L380.9 159.3L379.9 159.3L379.7 159.9L379.8 160.2L379.2 160.6L378.4 161.0L377.8 161.9L378.1 162.4L377.6 163.2L376.7 163.8L375.5 163.8ZM298.4 142.6L299.2 143.2L300.6 143.8L300.6 144.3L298.2 145.2L296.8 145.1L296.2 144.6L295.1 144.8ZM375.0 154.6L376.2 154.5L377.5 154.2L378.7 153.9L378.4 153.7L378.9 152.9L378.2 152.7L378.0 152.3L377.4 151.6L377.2 151.0L376.9 150.7L376.5 150.7L377.0 149.9L377.1 149.6L376.0 149.6L376.5 149.0L375.5 149.0L375.1 149.7L375.2 150.5L375.4 151.1L375.6 151.5L376.3 151.4L376.5 152.1L376.4 152.5L375.6 152.5L375.8 152.8L375.9 153.1L375.2 153.4L376.3 153.7L375.8 153.9ZM372.8 153.6L373.8 153.5L374.7 153.2L374.9 152.5L375.1 151.7L374.9 151.2L374.3 151.1L373.7 151.7L372.9 151.9L373.0 152.5L373.1 152.9L372.6 153.3ZM385.1 162.9L386.8 162.8L386.6 163.8L385.1 163.2ZM382.6 160.8L383.3 160.8L383.4 162.1L382.7 162.2ZM382.8 159.8L383.2 159.5L383.3 160.4L382.9 160.5ZM391.5 164.7L393.1 164.9L391.8 165.0ZM396.5 165.0L397.7 164.6L397.2 165.2ZM400.2 141.3L400.3 140.2L400.9 139.1L402.5 138.4L405.3 138.1L404.7 138.7L402.7 139.4L402.3 140.8L401.8 141.5ZM382.2 136.8L384.0 136.5L386.3 136.4L388.2 136.5L386.1 137.3L385.1 137.8L384.6 138.2L383.5 137.8L382.3 137.3ZM414.5 137.0L415.1 136.1L418.3 137.0L417.0 137.5ZM434.0 138.8L435.2 138.6L439.1 138.9L437.5 139.2L434.6 139.2ZM450.5 151.8L451.9 152.7L453.6 154.7L454.7 155.3L454.9 156.7L455.6 157.3L454.9 157.4L454.0 156.0L452.7 154.3L451.7 153.3ZM455.6 160.1L455.2 159.3L455.0 157.8L456.1 158.4L457.5 158.6L458.0 159.3L457.4 160.1L455.9 159.8L456.3 160.3ZM456.6 160.6L457.7 161.9L457.6 162.7L458.3 164.0L458.4 164.5L458.1 165.0L457.6 165.2L456.6 165.3L456.6 165.5L456.3 166.1L455.5 165.3L454.4 165.5L453.4 165.7L453.2 165.5L453.8 164.7L454.6 164.7L455.7 164.5L455.7 163.6L455.8 163.3L455.9 163.8L456.5 163.3L456.7 162.6L456.5 161.7L456.1 161.1L456.1 160.7ZM453.3 165.8L454.0 166.2L454.3 167.5L453.9 167.7L453.4 166.9L452.8 166.3ZM454.2 165.7L455.3 165.6L455.4 166.2L454.9 166.6L454.3 166.2ZM449.8 171.9L450.2 172.4L449.9 174.1L449.3 173.4L449.5 172.2ZM443.0 176.0L444.0 175.5L444.3 175.9L443.6 176.8L443.0 176.4ZM426.4 182.6L427.2 183.6L427.6 184.6L427.1 185.2L426.6 185.3L426.4 183.9ZM450.2 176.6L451.1 176.6L451.3 178.1L451.2 179.4L452.8 180.4L452.9 180.7L452.0 179.9L450.9 179.9L450.6 179.4L450.0 178.1L450.2 177.3ZM452.0 184.6L452.8 183.5L453.9 182.6L454.6 183.9L454.5 185.0L454.1 185.6L453.2 184.7ZM453.4 180.8L454.0 181.8L453.6 182.5L453.2 181.7ZM451.7 181.2L452.5 181.8L452.5 183.1L452.1 182.6L451.8 182.2ZM449.0 183.6L450.2 181.6L450.3 182.2L449.2 183.7ZM435.8 185.6L437.2 185.9L438.7 187.4L440.6 189.2L441.5 190.5L442.4 191.6L442.2 193.6L441.4 193.6L440.1 192.3L439.1 190.5L438.0 188.5L436.9 187.4ZM441.8 194.3L442.8 193.7L443.8 194.1L445.2 194.0L446.3 194.3L447.3 194.9L447.3 195.5L445.2 195.3L443.4 195.0L442.5 194.6ZM444.5 188.1L445.4 188.4L446.6 187.3L447.8 186.0L448.8 184.6L450.3 185.9L449.6 186.5L449.6 188.1L450.3 188.8L449.4 189.2L449.4 190.2L448.6 191.6L448.4 192.3L447.6 192.3L446.6 191.7L445.8 191.7L444.9 191.5L444.8 190.4L444.2 189.5L444.2 188.6ZM450.5 193.3L450.8 191.9L450.2 191.4L450.6 190.1L450.8 189.2L451.4 188.6L452.7 188.8L454.0 188.4L453.7 189.2L452.8 189.2L451.5 189.2L451.0 190.1L451.8 190.1L452.9 190.1L452.1 190.7L451.8 190.9L452.4 191.9L452.7 192.6L452.3 193.1L451.9 192.9L451.5 191.9L451.1 191.6L451.1 193.3ZM457.6 190.1L458.8 189.8L459.6 190.2L459.6 191.5L460.3 191.8L461.7 190.6L463.7 191.3L465.7 192.2L466.6 193.0L467.7 193.8L467.1 194.3L467.9 195.4L469.2 196.6L467.5 196.6L467.1 196.1L465.8 194.9L464.9 195.3L464.3 195.9L463.4 195.9L462.5 195.2L461.4 195.4L462.2 194.4L461.7 193.3L460.6 192.6L459.4 192.2L458.6 192.3L458.2 191.5L459.1 191.1L458.2 191.0L457.6 190.5ZM447.4 195.2L450.1 195.2L452.5 195.2L452.5 195.6L450.1 195.7L447.3 195.6ZM452.7 196.7L455.0 195.4L454.6 195.8L453.0 196.7ZM455.5 188.1L456.1 188.5L455.8 189.5L455.6 190.1L455.4 188.9ZM468.1 193.4L469.3 193.3L470.4 192.4L469.9 193.3L468.7 193.9ZM464.2 197.0L464.6 198.5L464.6 199.5L465.4 200.0L465.5 201.3L465.7 203.0L466.8 203.8L467.0 205.1L467.5 205.9L468.3 207.2L468.0 208.7L468.0 209.6L467.0 211.2L465.8 212.4L465.0 213.2L463.7 214.7L463.0 215.7L461.7 216.0L460.3 216.8L460.0 216.1L458.9 216.6L457.7 216.1L457.4 215.2L457.2 214.4L457.4 213.8L457.7 212.2L455.9 213.9L455.5 212.6L455.3 211.9L454.1 211.5L452.8 211.7L450.9 212.1L449.6 212.6L448.1 213.2L447.1 213.2L445.6 214.0L444.5 213.8L444.1 213.5L445.1 211.9L445.0 210.8L445.0 209.1L444.8 207.7L445.4 206.3L445.6 205.2L445.9 204.7L447.2 204.0L448.8 203.7L450.3 203.2L451.2 202.1L452.1 201.4L452.8 200.7L453.9 199.4L455.0 199.4L455.2 200.0L455.9 199.9L456.4 198.7L457.0 198.2L457.7 198.0L458.1 197.4L459.6 198.0L460.6 198.0L460.0 198.9L459.5 200.0L460.6 200.7L461.4 201.7L462.4 201.7L463.1 200.3L463.5 198.6L463.8 197.2ZM458.8 217.9L459.6 218.2L460.7 218.1L460.0 219.1L459.1 219.8L458.2 220.0L458.3 219.1ZM477.2 213.6L477.7 214.2L477.5 215.2L477.7 215.7L479.1 215.9L478.0 216.9L477.1 217.5L475.4 218.6L475.2 218.4L476.1 217.5L475.7 217.0L476.8 216.2L477.2 215.2L477.1 214.0ZM474.5 217.8L475.0 218.3L474.2 219.1L472.9 220.0L471.5 220.6L470.4 221.5L468.8 222.0L468.1 221.6L469.5 220.6L470.5 220.2L472.0 219.5L473.2 218.7ZM475.9 203.6L477.1 204.5L477.3 205.1L476.5 204.7ZM341.0 137.4L343.5 136.3L345.1 136.5L343.9 137.3ZM336.4 139.0L338.9 138.2L338.4 139.0L337.0 139.2ZM328.4 138.6L331.4 137.9L331.6 138.3L329.5 138.7ZM334.0 142.5L335.5 142.0L335.8 142.5L334.7 142.8ZM396.7 136.3L399.5 136.1L401.2 136.3L398.8 136.5ZM399.4 142.4L399.9 142.2L400.1 142.6L399.6 142.6ZM284.8 175.7L285.5 175.4L285.5 175.9L284.9 176.3ZM283.8 174.4L284.1 174.6L284.9 175.1L284.7 174.8ZM473.2 194.4L474.9 195.4L475.7 196.5L474.8 196.1ZM478.2 200.0L478.5 200.7L478.5 200.1ZM484.3 201.7L485.0 201.8L484.6 202.2ZM414.5 223.7L415.4 223.7L415.1 224.1L414.5 224.1ZM358.6 227.0L359.6 227.2L359.6 227.5ZM340.6 182.0L341.1 181.9L341.1 182.4L340.6 182.4ZM336.7 137.8L339.3 137.3L339.6 137.6L337.7 137.9ZM338.8 146.3L339.8 146.2L340.0 146.7L338.8 146.7Z" clip-rule="nonzero"/></clipPath>
<g clip-path="url(#clipc)">
<path d="M436.2 245.9L438.3 245.3L440.6 244.6L443.2 243.6L446.0 242.5L448.8 241.2L451.6 239.9L454.2 238.5L456.6 237.1L458.9 235.6L461.1 234.1L463.3 232.5L465.4 230.9L467.4 229.3L469.3 227.7L471.2 226.0L472.9 224.3L474.5 222.6L476.0 220.9L477.5 219.2L478.8 217.5L480.0 215.7L481.1 214.0L482.1 212.2L483.0 210.5L483.8 208.7L484.4 207.0L485.0 205.2L485.5 203.5L485.9 201.7L486.3 200.0L486.6 198.2L486.9 196.5L487.1 194.7L487.2 193.0L487.3 191.2L487.4 189.5L487.3 187.8L487.2 186.0L487.1 184.3L486.9 182.5L486.6 180.8L486.3 179.0L485.9 177.3L485.5 175.5L485.0 173.8L484.4 172.0L483.8 170.3L483.0 168.5L482.1 166.8L481.1 165.0L480.0 163.3L478.8 161.5L477.5 159.8L476.0 158.1L474.5 156.4L472.9 154.7L471.2 153.0L469.3 151.3L467.4 149.7L465.4 148.1L463.3 146.5L461.1 144.9L458.9 143.4L456.6 141.9L454.2 140.5L451.6 139.1L448.8 137.8L446.0 136.5L443.2 135.4L440.6 134.4L438.3 133.7L436.2 133.1L319.8 133.1L317.7 133.7L315.4 134.4L312.8 135.4L310.0 136.5L307.2 137.8L304.4 139.1L301.8 140.5L299.4 141.9L297.1 143.4L294.9 144.9L292.7 146.5L290.6 148.1L288.6 149.7L286.7 151.3L284.8 153.0L283.1 154.7L281.5 156.4L280.0 158.1L278.5 159.8L277.2 161.5L276.0 163.3L274.9 165.0L273.9 166.8L273.0 168.5L272.2 170.3L271.6 172.0L271.0 173.8L270.5 175.5L270.1 177.3L269.7 179.0L269.4 180.8L269.1 182.5L268.9 184.3L268.8 186.0L268.7 187.8L268.6 189.5L268.7 191.2L268.8 193.0L268.9 194.7L269.1 196.5L269.4 198.2L269.7 200.0L270.1 201.7L270.5 203.5L271.0 205.2L271.6 207.0L272.2 208.7L273.0 210.5L273.9 212.2L274.9 214.0L276.0 215.7L277.2 217.5L278.5 219.2L280.0 220.9L281.5 222.6L283.1 224.3L284.8 226.0L286.7 227.7L288.6 229.3L290.6 230.9L292.7 232.5L294.9 234.1L297.1 235.6L299.4 237.1L301.8 238.5L304.4 239.9L307.2 241.2L310.0 242.5L312.8 243.6L315.4 244.6L317.7 245.3L319.8 245.9Z" fill="#fff"/>
<g clip-path="url(#landc)">
<path d="M303.0 145.0L310.5 142.0L319.5 142.7L325.5 144.2L326.2 148.0L330.0 149.5L334.5 152.5L342.0 152.5L348.0 152.5L349.5 155.5L345.0 158.5L340.5 162.2L336.0 166.0L331.5 167.5L327.0 167.5L322.5 166.7L320.2 164.5L318.7 160.0L315.0 158.5L312.0 156.2L309.7 151.0L306.0 148.0Z" fill="#cfe1ea"/>
<path d="M309.0 158.5L312.7 157.0L317.2 160.0L318.7 165.2L321.0 168.2L320.2 172.7L323.2 176.5L328.5 179.5L330.0 182.5L327.0 181.7L322.5 179.5L318.0 176.5L314.2 173.5L310.5 167.5L309.0 162.2Z" fill="#f0d2c3"/>
<path d="M324.3 143.8L330.0 142.7L335.2 143.8L337.8 146.2L336.7 149.2L332.2 151.0L327.7 149.5L325.2 147.2Z" fill="#f0d2c3"/>
<path d="M337.5 152.2L342.0 149.5L347.2 150.7L345.7 153.7L340.5 154.7Z" fill="#f0d2c3"/>
<path d="M318.7 159.2L324.0 158.5L325.5 162.2L322.5 166.7L318.7 166.0Z" fill="#ffffff"/>
<path d="M312.4 151.3L314.5 151.3L314.5 154.0L312.4 154.0Z" fill="#7cb0ce"/>
<path d="M341.1 156.1L343.5 156.1L343.5 157.9L341.1 157.9Z" fill="#7cb0ce"/>
<path d="M328.5 154.7L330.3 154.7L330.3 156.5L328.5 156.5Z" fill="#7cb0ce"/>
<path d="M321.7 177.2L325.5 177.7L325.5 180.2L322.2 179.8Z" fill="#dc9f7f"/>
<path d="M380.0 149.5L384.5 143.5L390.5 141.2L398.0 142.7L405.5 143.5L410.0 144.2L410.0 152.5L405.5 154.0L401.0 154.7L398.0 157.7L394.2 159.2L390.5 159.2L387.5 157.0L383.0 155.5L380.0 153.2Z" fill="#cfe1ea"/>
<path d="M400.0 142.0L412.5 141.2L424.9 140.8L437.5 141.2L450.0 144.2L457.5 148.0L460.5 152.5L460.0 156.2L456.7 159.2L452.2 160.7L449.2 159.2L447.4 155.8L445.5 154.0L441.0 152.5L435.0 154.0L429.0 154.7L423.0 153.2L418.5 151.0L412.5 150.2L408.0 151.0L402.0 151.7L400.5 148.0Z" fill="#cfe1ea"/>
<path d="M423.7 145.0L428.7 142.4L437.5 143.8L442.5 146.2L443.7 149.9L437.5 151.3L431.2 149.9L424.9 148.7Z" fill="#7cb0ce"/>
<path d="M427.2 145.9L429.3 145.4L429.9 146.8L427.8 147.2Z" fill="#2e7ba9"/>
<path d="M432.3 146.5L435.0 146.0L435.9 147.5L433.8 148.4L432.4 147.7Z" fill="#2e7ba9"/>
<path d="M423.0 142.0L444.0 142.7L444.7 151.7L423.7 151.0Z" fill="#cfe1ea" filter="url(#motA)"/>
<path d="M397.5 152.5L402.0 151.0L407.2 151.7L406.5 153.7L400.5 154.3Z" fill="#f0d2c3"/>
<path d="M433.2 152.5L436.5 152.5L436.5 154.3L433.2 154.3Z" fill="#f0d2c3"/>
<path d="M432.0 169.7L438.0 166.7L442.5 165.2L447.0 166.0L453.0 165.2L459.0 166.7L460.5 172.0L457.5 175.7L456.0 181.0L453.0 182.5L450.0 179.5L445.5 178.0L442.5 181.0L439.5 178.0L436.5 175.0L433.5 173.5Z" fill="#f0d2c3"/>
<path d="M453.0 165.7L457.2 166.0L457.2 169.0L453.3 168.7Z" fill="#cfe1ea"/>
<path d="M437.2 175.0L440.7 175.0L441.0 180.7L438.7 180.7Z" fill="#dc9f7f"/>
<path d="M329.2 190.0L332.2 184.0L337.5 182.2L343.5 185.2L348.0 187.0L352.5 190.7L357.0 194.5L356.2 199.0L353.2 204.2L350.2 208.0L346.5 211.0L343.5 210.2L342.0 205.7L339.7 202.0L336.0 200.5L332.2 197.5L329.2 193.7Z" fill="#f0d2c3"/>
<path d="M330.4 191.5L333.3 186.2L338.7 184.0L345.0 185.8L349.8 189.7L351.4 194.5L349.5 200.2L345.3 203.2L340.5 202.4L336.4 200.2L332.2 197.8Z" fill="#dc9f7f"/>
<path d="M331.2 194.2L334.5 188.8L339.7 186.1L346.2 187.6L349.8 191.5L350.2 196.9L346.8 200.8L340.2 201.2L334.9 199.3Z" fill="#c87142"/>
<path d="M333.9 194.5L338.2 191.5L345.3 191.5L348.7 194.5L347.4 199.0L342.0 200.5L337.2 199.0L334.5 196.9Z" fill="#a43d10"/>
<path d="M337.5 194.8L343.8 193.7L346.2 196.3L343.8 198.7L338.7 198.2Z" fill="#72110a"/>
<path d="M339.7 207.2L342.7 207.2L342.7 209.5L339.7 209.5Z" fill="#cfe1ea"/>
<path d="M341.2 212.5L345.0 211.3L347.2 213.2L345.0 217.0L342.0 217.0Z" fill="#cfe1ea"/>
<path d="M333.7 183.2L336.0 183.2L336.0 186.2L333.7 186.2Z" fill="#cfe1ea"/>
<path d="M314.2 172.0L321.0 173.5L327.7 181.0L330.0 184.7L327.0 184.0L321.0 179.5L315.0 176.5Z" fill="#f0d2c3"/>
<path d="M350.5 178.0L361.0 179.2L370.0 181.0L376.0 181.0L379.0 184.0L385.0 182.5L392.5 182.5L398.5 181.0L402.2 182.5L405.2 185.5L403.7 190.0L402.2 194.5L402.2 199.7L400.0 204.2L397.7 208.7L394.0 211.7L389.5 214.0L388.0 211.0L389.5 207.2L391.7 205.0L391.0 202.0L386.5 200.5L385.0 196.0L384.2 190.7L382.7 187.0L379.0 186.2L374.5 187.0L370.0 185.5L362.5 184.7L352.0 182.5Z" fill="#f0d2c3"/>
<path d="M385.0 187.0L389.5 184.0L395.5 184.0L397.7 188.5L397.0 194.5L394.7 199.0L389.5 199.7L386.8 195.2Z" fill="#dc9f7f"/>
<path d="M390.2 191.5L393.2 191.5L393.2 194.5L390.2 194.5Z" fill="#c87142"/>
<path d="M398.5 185.5L403.0 185.2L403.3 188.5L398.8 188.8Z" fill="#ffffff"/>
<path d="M397.0 190.0L399.2 190.0L399.2 192.2L397.0 192.2Z" fill="#ffffff"/>
<path d="M386.2 200.8L390.2 202.0L391.0 205.7L388.7 210.2L387.2 208.0Z" fill="#ffffff"/>
<path d="M404.2 199.0L408.7 198.2L408.7 207.7L404.5 208.0Z" fill="#f0d2c3"/>
<path d="M435.0 184.7L439.5 183.8L443.2 191.0L443.2 194.3L438.7 192.5Z" fill="#f0d2c3"/>
<path d="M444.0 187.7L447.7 183.8L451.5 184.7L450.7 191.0L445.8 191.7Z" fill="#f0d2c3"/>
<path d="M459.7 191.0L464.7 189.8L468.7 194.3L466.8 196.7L462.3 195.5Z" fill="#f0d2c3"/>
<path d="M464.7 205.7L468.3 205.7L468.3 210.8L465.0 210.8Z" fill="#f0d2c3"/>
<path d="M453.3 201.8L456.0 201.5L456.3 203.3L453.6 203.6Z" fill="#cfe1ea"/>
<path d="M458.2 201.2L460.2 201.2L460.2 202.7L458.2 202.7Z" fill="#cfe1ea"/>
<path d="M303.0 145.0L310.5 142.0L319.5 142.7L325.5 144.2L326.2 148.0L330.0 149.5L334.5 152.5L342.0 152.5L348.0 152.5L349.5 155.5L345.0 158.5L340.5 162.2L336.0 166.0L331.5 167.5L327.0 167.5L322.5 166.7L320.2 164.5L318.7 160.0L315.0 158.5L312.0 156.2L309.7 151.0L306.0 148.0Z" fill="#ffffff" filter="url(#motD)"/>
<path d="M378.0 139.0L400.0 139.0L424.9 139.0L450.0 142.0L460.5 152.5L456.7 160.7L441.0 155.5L423.0 154.7L402.0 154.0L390.0 160.0L381.0 152.5Z" fill="#ffffff" filter="url(#motD)"/>
<path d="M432.0 169.7L438.0 166.7L442.5 165.2L447.0 166.0L453.0 165.2L459.0 166.7L460.5 172.0L457.5 175.7L456.0 181.0L453.0 182.5L450.0 179.5L445.5 178.0L442.5 181.0L439.5 178.0L436.5 175.0L433.5 173.5Z" fill="#ffffff" filter="url(#motD)"/>
<path d="M392.5 200.5L402.2 199.7L400.0 204.2L394.0 212.5L388.0 212.5Z" fill="#ffffff" filter="url(#motD)"/>
</g>
<path d="M339.2 245.9L336.3 244.6L332.7 242.5L328.9 239.9L325.6 237.1L322.6 234.1L319.8 230.9L317.1 227.7L314.7 224.3L312.6 220.9L310.8 217.5L309.2 214.0L308.0 210.5L307.0 207.0L306.4 203.5L305.8 200.0L305.4 196.5L305.2 193.0L305.1 189.5L305.2 186.0L305.4 182.5L305.8 179.0L306.4 175.5L307.0 172.0L308.0 168.5L309.2 165.0L310.8 161.5L312.6 158.1L314.7 154.7L317.1 151.3L319.8 148.1L322.6 144.9L325.6 141.9L328.9 139.1L332.7 136.5L336.3 134.4L339.2 133.1M358.6 245.9L357.1 244.6L355.3 242.5L353.5 239.9L351.8 237.1L350.3 234.1L348.9 230.9L347.6 227.7L346.4 224.3L345.3 220.9L344.4 217.5L343.6 214.0L343.0 210.5L342.5 207.0L342.2 203.5L341.9 200.0L341.7 196.5L341.6 193.0L341.5 189.5L341.6 186.0L341.7 182.5L341.9 179.0L342.2 175.5L342.5 172.0L343.0 168.5L343.6 165.0L344.4 161.5L345.3 158.1L346.4 154.7L347.6 151.3L348.9 148.1L350.3 144.9L351.8 141.9L353.5 139.1L355.3 136.5L357.1 134.4L358.6 133.1M378.0 245.9L378.0 244.6L378.0 242.5L378.0 239.9L378.0 237.1L378.0 234.1L378.0 230.9L378.0 227.7L378.0 224.3L378.0 220.9L378.0 217.5L378.0 214.0L378.0 210.5L378.0 207.0L378.0 203.5L378.0 200.0L378.0 196.5L378.0 193.0L378.0 189.5L378.0 186.0L378.0 182.5L378.0 179.0L378.0 175.5L378.0 172.0L378.0 168.5L378.0 165.0L378.0 161.5L378.0 158.1L378.0 154.7L378.0 151.3L378.0 148.1L378.0 144.9L378.0 141.9L378.0 139.1L378.0 136.5L378.0 134.4L378.0 133.1M397.4 245.9L398.9 244.6L400.7 242.5L402.5 239.9L404.2 237.1L405.7 234.1L407.1 230.9L408.4 227.7L409.6 224.3L410.7 220.9L411.6 217.5L412.4 214.0L413.0 210.5L413.5 207.0L413.8 203.5L414.1 200.0L414.3 196.5L414.4 193.0L414.5 189.5L414.4 186.0L414.3 182.5L414.1 179.0L413.8 175.5L413.5 172.0L413.0 168.5L412.4 165.0L411.6 161.5L410.7 158.1L409.6 154.7L408.4 151.3L407.1 148.1L405.7 144.9L404.2 141.9L402.5 139.1L400.7 136.5L398.9 134.4L397.4 133.1M416.8 245.9L419.7 244.6L423.3 242.5L427.1 239.9L430.4 237.1L433.4 234.1L436.2 230.9L438.9 227.7L441.3 224.3L443.4 220.9L445.2 217.5L446.8 214.0L448.0 210.5L449.0 207.0L449.6 203.5L450.2 200.0L450.6 196.5L450.8 193.0L450.9 189.5L450.8 186.0L450.6 182.5L450.2 179.0L449.6 175.5L449.0 172.0L448.0 168.5L446.8 165.0L445.2 161.5L443.4 158.1L441.3 154.7L438.9 151.3L436.2 148.1L433.4 144.9L430.4 141.9L427.1 139.1L423.3 136.5L419.7 134.4L416.8 133.1M290.6 230.9L465.4 230.9M273.0 210.5L483.0 210.5M268.6 189.5L487.4 189.5M273.0 168.5L483.0 168.5M290.6 148.1L465.4 148.1" fill="none" stroke="#9aa0a6" stroke-width="0.25" stroke-opacity="0.55"/>
<path d="M300.9 144.6L304.1 142.9L307.5 141.8L310.7 141.2L312.9 141.6L316.1 142.2L318.6 142.3L322.2 141.8L323.0 142.3L326.9 142.8L329.7 143.1L332.8 143.2L335.3 142.8L337.7 140.8L337.6 142.2L338.0 142.8L340.4 142.2L342.1 142.0L341.4 143.4L338.8 144.1L337.6 145.2L334.5 145.7L335.4 146.0L332.8 147.4L331.6 148.9L331.9 150.0L333.9 150.3L335.0 151.1L336.3 151.3L335.7 152.7L335.9 153.8L336.8 153.7L337.7 152.0L339.7 150.3L339.9 149.0L340.1 148.1L341.3 146.5L343.1 146.6L344.3 147.4L343.9 148.8L345.0 149.2L346.5 147.9L346.8 148.4L347.2 150.3L348.1 151.3L348.7 152.3L349.0 153.3L347.4 153.9L346.4 154.5L343.2 154.5L341.2 155.7L339.8 156.8L342.9 155.3L343.7 155.3L343.1 156.4L345.0 157.4L345.6 157.1L344.8 157.9L343.0 158.4L341.7 159.1L341.5 158.1L339.6 159.0L339.2 160.3L336.7 161.2L335.3 162.9L334.8 163.6L334.8 164.9L333.4 165.7L331.7 166.9L330.6 168.2L330.9 170.6L330.5 171.8L329.9 171.7L329.4 170.1L329.5 169.1L328.9 168.5L328.1 168.7L326.7 168.2L325.7 169.1L324.8 169.0L323.1 168.9L321.1 169.9L320.6 171.3L319.9 173.8L320.6 176.1L321.4 176.8L323.0 176.4L324.1 174.8L326.2 174.5L325.5 176.6L324.8 178.3L326.3 178.5L327.8 178.9L327.6 180.8L327.4 181.8L328.1 183.1L328.9 183.3L329.9 182.9L331.1 183.4L330.8 184.5L329.9 183.2L329.2 184.4L327.8 183.8L327.4 183.6L326.2 182.5L325.2 180.5L324.0 180.1L322.5 179.4L321.2 178.2L319.7 178.5L318.0 177.6L316.9 176.9L315.0 175.5L315.3 173.8L314.2 171.7L313.6 170.6L312.3 168.9L312.1 167.6L311.4 167.3L311.2 168.5L312.0 169.9L312.4 171.7L313.0 173.3L312.6 173.1L311.8 172.0L310.8 170.5L310.5 169.9L311.1 169.6L310.5 168.4L310.3 166.8L309.8 165.7L308.8 165.3L308.6 163.8L308.7 163.1L308.7 161.3L309.5 159.5L310.9 157.3L311.5 155.8L312.3 156.4L312.7 155.2L311.5 154.0L311.7 153.0L311.6 151.7L311.8 150.7L311.9 149.2L310.8 148.8L309.9 148.2L308.1 148.1L306.5 147.7L304.0 148.5L305.4 147.4L302.6 148.7L299.9 150.0L297.9 150.8L295.1 151.5L294.1 151.6L296.3 150.8L299.3 149.7L300.6 148.9L298.3 149.0L299.4 148.1L298.4 147.4L299.0 146.8L300.3 146.2L302.5 145.9L303.3 145.2L301.4 145.2ZM347.0 146.9L347.6 146.2L350.1 143.8L348.1 142.2L347.0 141.2L345.2 140.2L344.2 139.8L342.5 139.9L341.0 139.8L339.9 140.5L340.7 141.6L342.2 141.9L343.7 142.2L344.7 143.1L344.6 144.3L343.8 145.1L341.8 145.2L344.2 145.9L345.7 146.6ZM326.3 142.5L327.4 141.1L329.6 140.2L332.6 140.2L333.3 140.8L333.7 141.9L331.4 142.8L327.8 142.8ZM324.7 140.8L326.7 139.7L328.4 139.5L329.4 140.0L327.0 141.1L325.1 141.2ZM341.9 138.4L343.9 137.3L343.8 136.1L347.1 135.5L352.9 135.2L355.5 135.4L353.9 136.1L350.5 136.9L348.5 137.4L346.4 138.3L343.9 138.4ZM341.2 138.3L345.5 138.8L344.9 139.3L340.4 139.3ZM330.5 139.1L333.9 138.4L335.5 138.7L334.1 139.2L331.4 139.4ZM335.4 139.9L337.2 139.8L336.7 140.8L335.1 141.1L334.6 140.5ZM338.4 139.7L340.2 139.7L339.8 140.3L337.6 140.7ZM338.0 144.6L339.6 144.3L340.6 145.2L339.0 146.0L337.8 145.7ZM346.2 156.2L348.8 153.6L349.8 155.7L349.4 156.9L347.8 156.8ZM310.7 154.2L312.1 154.7L312.2 155.8L311.3 155.5ZM349.6 137.4L352.7 137.0L356.1 135.6L361.8 135.3L366.3 135.0L370.7 135.6L373.8 135.9L371.2 136.5L370.5 138.0L369.8 139.4L368.6 140.8L368.4 141.8L366.4 142.8L363.6 143.4L361.1 144.4L359.4 145.2L357.8 146.8L356.6 148.2L354.9 147.4L354.1 145.9L354.0 144.9L353.8 143.7L354.6 142.5L354.3 141.6L354.5 140.5L354.3 139.1L353.0 138.6L350.6 138.6L350.0 137.9ZM367.0 144.6L368.0 144.1L370.7 144.0L371.5 144.9L371.0 145.4L369.1 145.9L367.5 145.6L367.8 145.1ZM327.4 174.2L329.3 173.3L331.1 173.7L333.0 175.0L333.7 175.4L331.7 175.6L331.5 175.0L329.8 174.1L328.0 174.3ZM333.5 176.6L334.4 175.6L336.2 175.7L337.1 176.5L335.5 176.9L334.9 176.8ZM331.1 176.6L332.3 176.7L332.2 177.0L331.3 177.0ZM337.8 176.6L338.7 176.6L338.5 177.0L337.7 176.9ZM331.2 183.5L332.0 182.9L332.5 181.9L333.2 181.7L334.5 181.0L334.8 181.8L335.7 181.0L336.9 182.1L338.7 182.4L340.2 182.0L341.1 182.9L341.7 183.6L343.1 185.1L345.2 185.4L346.4 186.1L347.0 186.6L347.6 188.2L347.6 189.5L348.8 190.0L350.7 190.5L351.3 191.4L352.8 191.5L354.6 192.1L355.5 192.9L356.6 193.3L356.9 194.7L356.8 195.8L355.6 197.2L354.8 198.6L354.6 200.7L354.4 202.4L353.8 203.8L353.6 204.9L353.1 205.6L351.6 205.7L350.4 206.3L349.4 207.7L349.5 209.4L348.6 211.2L347.8 212.2L347.2 213.3L345.8 213.9L344.5 213.3L345.4 214.9L345.4 216.2L343.1 216.8L343.3 218.2L341.8 218.2L342.8 219.3L342.4 220.6L341.5 221.6L342.5 222.4L342.2 223.9L341.8 224.9L342.5 225.9L342.6 226.3L344.9 227.5L343.6 228.0L341.9 227.5L340.1 226.3L338.7 225.0L337.6 223.0L337.7 221.6L337.6 219.9L337.1 218.7L336.7 217.1L336.3 215.5L336.5 214.0L336.7 212.6L336.3 210.5L336.3 208.4L336.2 205.9L336.1 203.5L335.9 202.4L334.8 201.4L332.6 200.0L332.0 199.2L331.4 197.9L330.5 196.1L329.7 194.5L328.7 193.7L328.6 192.6L329.3 191.9L329.4 191.2L328.8 191.0L329.1 189.8L329.4 188.9L330.1 188.5L330.3 187.7L331.1 186.8L331.0 185.7L331.1 184.7L330.8 184.5ZM346.2 225.3L347.7 225.3L347.6 225.8L346.4 225.8ZM374.6 164.5L376.9 165.0L378.0 164.5L379.7 163.8L382.0 163.6L383.7 163.4L384.3 163.7L384.0 164.7L383.9 165.7L384.3 166.3L385.6 166.5L386.9 166.9L388.2 167.9L389.4 168.3L389.6 167.3L390.4 166.5L391.4 166.9L392.5 167.3L394.9 167.9L396.0 167.5L396.8 167.6L397.0 168.5L397.7 169.9L398.7 172.4L399.2 173.4L400.2 174.8L400.2 176.2L401.1 176.9L401.8 178.7L402.8 179.4L404.0 180.7L404.2 181.5L404.9 182.2L406.4 181.7L408.9 181.2L408.8 182.2L408.3 183.9L407.1 186.4L405.9 187.9L404.7 188.8L403.5 190.2L402.4 191.5L402.0 192.6L401.5 194.0L401.9 195.1L402.1 196.5L402.5 197.2L402.4 199.6L402.0 200.8L400.2 201.9L398.9 203.3L399.1 204.9L399.0 206.3L397.5 207.3L397.3 208.4L396.7 209.8L395.7 211.0L394.2 212.6L392.8 213.3L390.6 213.4L389.5 213.8L388.6 213.4L388.4 212.2L388.1 210.5L387.6 209.4L386.8 208.0L386.6 205.6L385.8 203.8L385.1 202.1L385.1 200.7L385.5 198.9L386.2 198.1L386.3 196.8L385.9 195.7L385.5 193.7L385.3 193.0L384.7 192.2L383.8 191.0L383.3 190.0L383.8 189.2L384.0 187.9L383.9 186.8L383.2 186.3L382.2 186.4L381.6 186.5L380.7 185.2L379.5 185.1L378.6 185.4L377.4 185.9L376.8 186.1L375.9 185.9L374.7 185.9L373.4 186.4L372.4 185.8L371.0 184.7L370.4 184.3L369.9 183.6L370.0 182.9L369.1 181.9L368.8 181.5L367.9 180.9L367.9 180.1L367.5 179.2L368.1 178.3L368.3 176.9L368.3 175.9L367.9 174.8L368.5 172.9L369.2 172.0L369.5 171.1L370.4 170.1L371.3 169.6L372.2 168.9L372.3 167.5L373.1 166.2L374.1 165.7ZM407.8 197.9L408.2 200.3L407.7 201.7L406.4 205.4L405.8 207.0L404.7 207.4L403.9 205.9L403.8 204.7L404.4 203.5L404.4 201.7L405.0 200.7L406.3 200.0L407.1 198.9ZM374.8 164.3L374.4 163.9L373.8 163.5L372.9 163.6L372.7 162.4L373.1 160.5L372.9 159.5L373.6 159.0L375.3 159.1L376.9 159.2L377.3 158.4L377.4 157.4L376.8 156.6L375.6 156.1L375.5 155.7L376.4 155.5L377.2 155.5L377.0 154.9L378.1 155.0L378.8 154.1L379.8 153.7L380.3 153.0L380.6 152.5L381.6 152.3L382.4 152.1L382.4 151.3L382.1 150.3L382.2 149.9L383.2 149.6L383.2 150.3L383.1 151.1L383.5 152.0L384.1 151.9L385.2 152.0L386.4 151.7L387.4 151.5L387.9 151.7L388.6 151.1L388.5 150.1L388.9 149.6L390.1 149.8L390.1 149.1L389.5 148.6L390.7 148.3L391.6 148.3L392.7 148.1L391.8 147.7L390.1 147.9L388.9 148.1L388.2 147.4L388.1 146.2L389.1 145.2L389.6 144.6L388.8 144.4L388.1 144.6L387.9 145.4L386.9 146.0L386.2 146.8L386.3 147.6L387.1 148.2L386.8 148.7L386.2 149.5L386.0 150.5L385.2 151.0L384.6 151.1L384.4 150.5L383.8 149.6L383.4 148.7L383.1 148.4L382.7 148.8L381.7 149.4L380.8 148.8L380.4 147.7L380.4 146.8L381.1 146.3L382.0 145.9L382.9 145.5L383.5 144.6L383.9 143.7L384.7 142.9L385.7 142.3L386.7 141.9L387.9 141.5L389.2 141.3L390.3 141.4L391.5 141.8L391.5 142.1L392.7 142.3L393.9 142.5L396.1 143.2L396.7 143.9L395.6 144.3L393.9 143.9L393.0 143.9L393.8 144.6L394.2 145.3L395.5 145.4L396.8 145.2L396.3 144.4L397.8 144.2L397.8 143.1L397.3 142.8L398.5 143.0L399.1 143.8L399.5 143.3L401.6 142.9L402.3 143.0L403.7 142.6L404.7 142.4L404.9 142.9L406.4 142.4L407.7 142.6L408.5 143.0L407.4 142.2L407.1 141.3L407.0 140.2L408.6 140.3L409.4 141.3L410.0 142.8L411.3 143.8L410.8 142.8L410.1 141.3L409.8 140.5L411.2 140.7L412.5 140.8L411.7 139.9L413.9 139.7L413.6 139.1L415.2 138.7L417.3 138.4L418.8 137.7L420.6 138.1L423.2 138.5L425.1 139.7L423.8 139.8L425.2 139.9L427.4 140.0L429.6 140.1L431.1 139.9L433.0 140.6L433.7 141.3L434.8 141.1L436.1 141.1L437.8 141.1L437.2 140.4L440.0 140.6L442.6 141.1L443.9 141.4L447.4 141.9L448.5 142.2L450.5 142.2L451.4 141.9L453.3 142.5L452.7 141.9L455.1 142.1L457.6 142.6L460.9 144.8L460.8 145.2L460.1 145.1L462.4 146.2L463.0 146.5L461.5 146.9L460.8 147.6L460.7 148.1L458.6 148.1L457.4 148.1L458.6 149.4L458.2 149.5L460.0 150.5L460.2 151.5L459.9 152.0L459.9 152.7L460.1 154.0L458.5 152.7L456.6 151.0L455.9 149.8L456.3 149.0L456.3 147.9L456.3 147.1L455.7 146.5L454.4 147.0L453.0 147.0L453.3 148.3L451.8 148.5L449.3 148.5L447.7 148.6L447.3 149.5L447.2 150.7L446.8 151.5L448.2 151.9L449.3 151.9L450.7 152.5L451.3 153.7L452.6 155.3L452.6 156.8L452.3 158.4L451.4 159.6L450.6 159.4L450.3 159.9L450.2 160.6L450.4 161.2L449.5 161.7L450.4 162.5L451.5 163.6L452.0 164.7L451.9 165.0L451.1 165.2L450.5 165.4L450.0 164.0L449.7 163.1L448.5 162.6L448.3 161.8L447.6 161.5L446.6 162.2L446.3 162.4L446.1 161.1L445.5 160.9L445.0 161.6L444.2 162.1L445.0 162.9L445.5 163.4L446.4 163.1L447.5 163.4L446.9 163.9L446.4 164.8L447.1 165.6L447.9 166.6L448.7 167.4L448.5 168.2L449.2 168.7L449.3 169.7L448.9 170.6L448.6 171.7L447.9 172.4L447.3 173.2L445.9 173.8L445.2 174.1L444.1 174.5L443.8 175.3L443.3 174.5L442.3 174.4L441.6 175.0L441.3 176.2L441.8 177.3L443.1 178.3L443.9 180.1L444.0 181.2L442.7 182.2L442.5 182.9L441.6 183.4L441.5 182.5L440.6 182.1L439.9 181.1L438.9 180.6L438.6 180.1L438.4 180.8L438.2 182.2L438.7 183.6L439.2 184.7L440.1 185.2L440.8 186.4L440.9 187.8L441.3 188.5L440.8 188.5L439.5 187.5L439.0 186.4L438.8 185.1L438.0 183.9L437.6 183.9L437.7 182.5L437.5 181.1L437.0 179.7L436.6 178.0L435.9 178.0L435.3 178.5L434.7 178.2L434.4 176.6L433.8 175.5L433.0 174.8L432.6 173.8L431.8 173.9L431.0 174.3L430.1 174.5L429.8 175.2L429.1 175.7L428.3 176.7L427.4 177.8L426.7 178.4L426.3 179.0L426.4 180.3L426.2 181.5L426.3 182.3L425.8 183.0L425.4 183.3L425.0 183.8L424.3 183.2L423.8 181.6L423.1 180.4L422.5 179.0L422.0 177.6L421.5 176.2L421.3 174.8L421.0 174.3L420.3 175.0L419.0 174.0L419.6 173.6L418.6 173.1L417.6 172.1L417.3 171.7L415.8 171.8L414.4 171.9L412.9 171.7L411.8 171.5L411.4 170.6L410.1 170.9L408.9 170.3L407.9 169.4L407.2 168.4L406.4 168.3L406.0 168.7L406.4 169.6L407.3 170.8L407.6 171.5L408.3 171.3L408.5 172.2L410.0 172.6L410.8 171.7L411.2 171.2L411.5 172.4L412.8 173.0L413.5 173.8L412.9 175.2L412.5 176.2L411.5 177.0L410.7 177.6L409.4 178.3L407.5 179.6L405.2 180.5L404.2 180.6L403.8 179.4L403.6 178.1L402.5 176.2L401.3 174.5L400.6 172.7L399.7 171.3L398.5 169.9L398.4 168.9L398.1 169.9L397.5 169.4L397.0 168.5L396.8 167.6L397.9 167.6L398.2 166.8L398.4 165.4L398.5 164.3L398.6 163.8L397.6 163.8L396.5 164.3L395.5 163.8L394.5 164.0L393.6 163.6L393.2 162.6L392.7 161.9L392.7 161.4L394.2 160.8L395.5 160.7L396.6 160.1L397.4 160.1L398.3 160.6L399.5 160.8L401.1 160.5L400.9 159.6L399.7 159.0L398.6 158.3L398.0 157.9L398.5 157.1L399.1 156.6L398.2 156.7L397.1 157.2L397.8 157.9L397.2 158.1L396.5 158.5L395.7 157.8L396.1 157.4L395.3 157.1L394.6 157.1L394.1 157.9L393.7 158.8L393.4 159.3L393.4 159.9L393.7 160.5L394.1 160.7L392.8 161.2L392.5 161.0L391.4 161.0L391.1 161.4L390.7 161.3L390.8 162.0L391.6 162.9L391.2 163.4L391.1 164.0L390.7 163.9L390.3 163.7L390.0 163.0L390.0 162.6L389.5 162.0L388.9 161.2L388.8 160.4L388.2 159.8L387.1 159.2L386.2 158.4L385.6 158.1L385.4 157.7L384.7 157.9L384.8 158.6L385.5 159.1L386.6 160.1L387.0 160.3L388.1 161.1L388.4 161.5L387.5 161.3L387.3 161.7L387.6 162.2L387.1 162.9L387.0 162.3L386.7 161.5L386.0 161.0L384.8 160.4L383.8 159.5L383.6 158.8L382.9 158.5L382.1 158.9L380.9 159.3L379.9 159.3L379.7 159.9L379.8 160.2L379.2 160.6L378.4 161.0L377.8 161.9L378.1 162.4L377.6 163.2L376.7 163.8L375.5 163.8ZM298.4 142.6L299.2 143.2L300.6 143.8L300.6 144.3L298.2 145.2L296.8 145.1L296.2 144.6L295.1 144.8ZM375.0 154.6L376.2 154.5L377.5 154.2L378.7 153.9L378.4 153.7L378.9 152.9L378.2 152.7L378.0 152.3L377.4 151.6L377.2 151.0L376.9 150.7L376.5 150.7L377.0 149.9L377.1 149.6L376.0 149.6L376.5 149.0L375.5 149.0L375.1 149.7L375.2 150.5L375.4 151.1L375.6 151.5L376.3 151.4L376.5 152.1L376.4 152.5L375.6 152.5L375.8 152.8L375.9 153.1L375.2 153.4L376.3 153.7L375.8 153.9ZM372.8 153.6L373.8 153.5L374.7 153.2L374.9 152.5L375.1 151.7L374.9 151.2L374.3 151.1L373.7 151.7L372.9 151.9L373.0 152.5L373.1 152.9L372.6 153.3ZM385.1 162.9L386.8 162.8L386.6 163.8L385.1 163.2ZM382.6 160.8L383.3 160.8L383.4 162.1L382.7 162.2ZM382.8 159.8L383.2 159.5L383.3 160.4L382.9 160.5ZM391.5 164.7L393.1 164.9L391.8 165.0ZM396.5 165.0L397.7 164.6L397.2 165.2ZM400.2 141.3L400.3 140.2L400.9 139.1L402.5 138.4L405.3 138.1L404.7 138.7L402.7 139.4L402.3 140.8L401.8 141.5ZM382.2 136.8L384.0 136.5L386.3 136.4L388.2 136.5L386.1 137.3L385.1 137.8L384.6 138.2L383.5 137.8L382.3 137.3ZM414.5 137.0L415.1 136.1L418.3 137.0L417.0 137.5ZM434.0 138.8L435.2 138.6L439.1 138.9L437.5 139.2L434.6 139.2ZM450.5 151.8L451.9 152.7L453.6 154.7L454.7 155.3L454.9 156.7L455.6 157.3L454.9 157.4L454.0 156.0L452.7 154.3L451.7 153.3ZM455.6 160.1L455.2 159.3L455.0 157.8L456.1 158.4L457.5 158.6L458.0 159.3L457.4 160.1L455.9 159.8L456.3 160.3ZM456.6 160.6L457.7 161.9L457.6 162.7L458.3 164.0L458.4 164.5L458.1 165.0L457.6 165.2L456.6 165.3L456.6 165.5L456.3 166.1L455.5 165.3L454.4 165.5L453.4 165.7L453.2 165.5L453.8 164.7L454.6 164.7L455.7 164.5L455.7 163.6L455.8 163.3L455.9 163.8L456.5 163.3L456.7 162.6L456.5 161.7L456.1 161.1L456.1 160.7ZM453.3 165.8L454.0 166.2L454.3 167.5L453.9 167.7L453.4 166.9L452.8 166.3ZM454.2 165.7L455.3 165.6L455.4 166.2L454.9 166.6L454.3 166.2ZM449.8 171.9L450.2 172.4L449.9 174.1L449.3 173.4L449.5 172.2ZM443.0 176.0L444.0 175.5L444.3 175.9L443.6 176.8L443.0 176.4ZM426.4 182.6L427.2 183.6L427.6 184.6L427.1 185.2L426.6 185.3L426.4 183.9ZM450.2 176.6L451.1 176.6L451.3 178.1L451.2 179.4L452.8 180.4L452.9 180.7L452.0 179.9L450.9 179.9L450.6 179.4L450.0 178.1L450.2 177.3ZM452.0 184.6L452.8 183.5L453.9 182.6L454.6 183.9L454.5 185.0L454.1 185.6L453.2 184.7ZM453.4 180.8L454.0 181.8L453.6 182.5L453.2 181.7ZM451.7 181.2L452.5 181.8L452.5 183.1L452.1 182.6L451.8 182.2ZM449.0 183.6L450.2 181.6L450.3 182.2L449.2 183.7ZM435.8 185.6L437.2 185.9L438.7 187.4L440.6 189.2L441.5 190.5L442.4 191.6L442.2 193.6L441.4 193.6L440.1 192.3L439.1 190.5L438.0 188.5L436.9 187.4ZM441.8 194.3L442.8 193.7L443.8 194.1L445.2 194.0L446.3 194.3L447.3 194.9L447.3 195.5L445.2 195.3L443.4 195.0L442.5 194.6ZM444.5 188.1L445.4 188.4L446.6 187.3L447.8 186.0L448.8 184.6L450.3 185.9L449.6 186.5L449.6 188.1L450.3 188.8L449.4 189.2L449.4 190.2L448.6 191.6L448.4 192.3L447.6 192.3L446.6 191.7L445.8 191.7L444.9 191.5L444.8 190.4L444.2 189.5L444.2 188.6ZM450.5 193.3L450.8 191.9L450.2 191.4L450.6 190.1L450.8 189.2L451.4 188.6L452.7 188.8L454.0 188.4L453.7 189.2L452.8 189.2L451.5 189.2L451.0 190.1L451.8 190.1L452.9 190.1L452.1 190.7L451.8 190.9L452.4 191.9L452.7 192.6L452.3 193.1L451.9 192.9L451.5 191.9L451.1 191.6L451.1 193.3ZM457.6 190.1L458.8 189.8L459.6 190.2L459.6 191.5L460.3 191.8L461.7 190.6L463.7 191.3L465.7 192.2L466.6 193.0L467.7 193.8L467.1 194.3L467.9 195.4L469.2 196.6L467.5 196.6L467.1 196.1L465.8 194.9L464.9 195.3L464.3 195.9L463.4 195.9L462.5 195.2L461.4 195.4L462.2 194.4L461.7 193.3L460.6 192.6L459.4 192.2L458.6 192.3L458.2 191.5L459.1 191.1L458.2 191.0L457.6 190.5ZM447.4 195.2L450.1 195.2L452.5 195.2L452.5 195.6L450.1 195.7L447.3 195.6ZM452.7 196.7L455.0 195.4L454.6 195.8L453.0 196.7ZM455.5 188.1L456.1 188.5L455.8 189.5L455.6 190.1L455.4 188.9ZM468.1 193.4L469.3 193.3L470.4 192.4L469.9 193.3L468.7 193.9ZM464.2 197.0L464.6 198.5L464.6 199.5L465.4 200.0L465.5 201.3L465.7 203.0L466.8 203.8L467.0 205.1L467.5 205.9L468.3 207.2L468.0 208.7L468.0 209.6L467.0 211.2L465.8 212.4L465.0 213.2L463.7 214.7L463.0 215.7L461.7 216.0L460.3 216.8L460.0 216.1L458.9 216.6L457.7 216.1L457.4 215.2L457.2 214.4L457.4 213.8L457.7 212.2L455.9 213.9L455.5 212.6L455.3 211.9L454.1 211.5L452.8 211.7L450.9 212.1L449.6 212.6L448.1 213.2L447.1 213.2L445.6 214.0L444.5 213.8L444.1 213.5L445.1 211.9L445.0 210.8L445.0 209.1L444.8 207.7L445.4 206.3L445.6 205.2L445.9 204.7L447.2 204.0L448.8 203.7L450.3 203.2L451.2 202.1L452.1 201.4L452.8 200.7L453.9 199.4L455.0 199.4L455.2 200.0L455.9 199.9L456.4 198.7L457.0 198.2L457.7 198.0L458.1 197.4L459.6 198.0L460.6 198.0L460.0 198.9L459.5 200.0L460.6 200.7L461.4 201.7L462.4 201.7L463.1 200.3L463.5 198.6L463.8 197.2ZM458.8 217.9L459.6 218.2L460.7 218.1L460.0 219.1L459.1 219.8L458.2 220.0L458.3 219.1ZM477.2 213.6L477.7 214.2L477.5 215.2L477.7 215.7L479.1 215.9L478.0 216.9L477.1 217.5L475.4 218.6L475.2 218.4L476.1 217.5L475.7 217.0L476.8 216.2L477.2 215.2L477.1 214.0ZM474.5 217.8L475.0 218.3L474.2 219.1L472.9 220.0L471.5 220.6L470.4 221.5L468.8 222.0L468.1 221.6L469.5 220.6L470.5 220.2L472.0 219.5L473.2 218.7ZM475.9 203.6L477.1 204.5L477.3 205.1L476.5 204.7ZM341.0 137.4L343.5 136.3L345.1 136.5L343.9 137.3ZM336.4 139.0L338.9 138.2L338.4 139.0L337.0 139.2ZM328.4 138.6L331.4 137.9L331.6 138.3L329.5 138.7ZM334.0 142.5L335.5 142.0L335.8 142.5L334.7 142.8ZM396.7 136.3L399.5 136.1L401.2 136.3L398.8 136.5ZM399.4 142.4L399.9 142.2L400.1 142.6L399.6 142.6ZM284.8 175.7L285.5 175.4L285.5 175.9L284.9 176.3ZM283.8 174.4L284.1 174.6L284.9 175.1L284.7 174.8ZM473.2 194.4L474.9 195.4L475.7 196.5L474.8 196.1ZM478.2 200.0L478.5 200.7L478.5 200.1ZM484.3 201.7L485.0 201.8L484.6 202.2ZM414.5 223.7L415.4 223.7L415.1 224.1L414.5 224.1ZM358.6 227.0L359.6 227.2L359.6 227.5ZM340.6 182.0L341.1 181.9L341.1 182.4L340.6 182.4ZM336.7 137.8L339.3 137.3L339.6 137.6L337.7 137.9ZM338.8 146.3L339.8 146.2L340.0 146.7L338.8 146.7ZM403.5 157.7L404.9 156.8L406.6 157.1L406.9 158.1L405.9 158.4L405.9 159.8L407.2 160.5L408.0 161.9L408.6 163.6L407.0 163.8L405.8 163.3L405.6 162.2L405.7 161.2L404.6 160.1L404.0 159.1ZM314.9 244.4L317.8 244.6L322.8 244.7L326.2 244.7L326.1 244.2L323.2 243.4L319.5 242.5L315.0 242.0L315.5 241.1L318.3 240.9L319.8 240.6L322.8 239.9L326.6 239.7L330.7 239.7L335.0 239.9L336.2 239.1L339.7 239.6L342.7 239.3L344.7 239.2L346.2 239.0L347.2 236.8L347.9 235.6L348.4 234.1L349.8 233.6L351.3 233.1L350.9 233.9L350.3 235.0L350.0 236.2L352.0 239.0L350.4 240.2L348.1 241.0L350.6 242.2L354.1 243.0L357.9 243.4L362.1 243.3L365.5 242.5L368.3 241.7L370.1 241.0L371.8 239.3L373.8 238.4L375.9 238.1L378.0 237.7L382.3 237.5L386.7 237.4L391.1 237.1L393.4 236.8L395.7 236.5L398.1 235.8L400.6 235.3L402.1 234.9L403.8 235.3L405.8 235.7L408.4 235.9L408.8 236.8L409.3 237.4L410.8 237.0L412.7 236.2L415.0 235.4L417.9 235.2L421.2 235.0L423.7 234.7L425.7 235.0L428.1 234.8L430.2 235.1L432.3 235.2L434.9 234.9L437.3 234.7L439.6 234.7L441.4 235.2L443.4 235.4L444.7 236.1L446.3 236.6L447.7 237.2L449.3 237.6L451.1 237.9L447.7 239.3L442.5 241.2L440.6 242.0L437.8 243.6L438.1 244.2L441.1 244.4" fill="none" stroke="#111" stroke-width="0.42" stroke-linejoin="round"/>
</g>
<path d="M436.2 245.9L438.3 245.3L440.6 244.6L443.2 243.6L446.0 242.5L448.8 241.2L451.6 239.9L454.2 238.5L456.6 237.1L458.9 235.6L461.1 234.1L463.3 232.5L465.4 230.9L467.4 229.3L469.3 227.7L471.2 226.0L472.9 224.3L474.5 222.6L476.0 220.9L477.5 219.2L478.8 217.5L480.0 215.7L481.1 214.0L482.1 212.2L483.0 210.5L483.8 208.7L484.4 207.0L485.0 205.2L485.5 203.5L485.9 201.7L486.3 200.0L486.6 198.2L486.9 196.5L487.1 194.7L487.2 193.0L487.3 191.2L487.4 189.5L487.3 187.8L487.2 186.0L487.1 184.3L486.9 182.5L486.6 180.8L486.3 179.0L485.9 177.3L485.5 175.5L485.0 173.8L484.4 172.0L483.8 170.3L483.0 168.5L482.1 166.8L481.1 165.0L480.0 163.3L478.8 161.5L477.5 159.8L476.0 158.1L474.5 156.4L472.9 154.7L471.2 153.0L469.3 151.3L467.4 149.7L465.4 148.1L463.3 146.5L461.1 144.9L458.9 143.4L456.6 141.9L454.2 140.5L451.6 139.1L448.8 137.8L446.0 136.5L443.2 135.4L440.6 134.4L438.3 133.7L436.2 133.1L319.8 133.1L317.7 133.7L315.4 134.4L312.8 135.4L310.0 136.5L307.2 137.8L304.4 139.1L301.8 140.5L299.4 141.9L297.1 143.4L294.9 144.9L292.7 146.5L290.6 148.1L288.6 149.7L286.7 151.3L284.8 153.0L283.1 154.7L281.5 156.4L280.0 158.1L278.5 159.8L277.2 161.5L276.0 163.3L274.9 165.0L273.9 166.8L273.0 168.5L272.2 170.3L271.6 172.0L271.0 173.8L270.5 175.5L270.1 177.3L269.7 179.0L269.4 180.8L269.1 182.5L268.9 184.3L268.8 186.0L268.7 187.8L268.6 189.5L268.7 191.2L268.8 193.0L268.9 194.7L269.1 196.5L269.4 198.2L269.7 200.0L270.1 201.7L270.5 203.5L271.0 205.2L271.6 207.0L272.2 208.7L273.0 210.5L273.9 212.2L274.9 214.0L276.0 215.7L277.2 217.5L278.5 219.2L280.0 220.9L281.5 222.6L283.1 224.3L284.8 226.0L286.7 227.7L288.6 229.3L290.6 230.9L292.7 232.5L294.9 234.1L297.1 235.6L299.4 237.1L301.8 238.5L304.4 239.9L307.2 241.2L310.0 242.5L312.8 243.6L315.4 244.6L317.7 245.3L319.8 245.9Z" fill="none" stroke="#333" stroke-width="0.5"/>
<text transform="translate(378.30,131.90) scale(0.87,1)" font-size="5.23" text-anchor="middle">CMIP6 model mean (local)</text>
<text transform="translate(260.00,140.30) scale(0.78,1)" font-size="12.10">c)</text>
<text x="289.1" y="149.1" font-size="3.2" text-anchor="end" style="fill:#111">60°N</text>
<text x="467.4" y="149.1" font-size="3.2" style="fill:#111">60°N</text>
<text x="271.5" y="169.6" font-size="3.2" text-anchor="end" style="fill:#111">30°N</text>
<text x="485.0" y="169.6" font-size="3.2" style="fill:#111">30°N</text>
<text x="267.1" y="190.6" font-size="3.2" text-anchor="end" style="fill:#111">0°</text>
<text x="489.4" y="190.6" font-size="3.2" style="fill:#111">0°</text>
<text x="271.5" y="211.5" font-size="3.2" text-anchor="end" style="fill:#111">30°S</text>
<text x="485.0" y="211.5" font-size="3.2" style="fill:#111">30°S</text>
<text x="289.1" y="232.0" font-size="3.2" text-anchor="end" style="fill:#111">60°S</text>
<text x="467.4" y="232.0" font-size="3.2" style="fill:#111">60°S</text>
<clipPath id="clipd"><path d="M436.2 368.5L438.3 367.9L440.6 367.2L443.2 366.2L446.0 365.1L448.8 363.8L451.6 362.5L454.2 361.1L456.6 359.7L458.9 358.2L461.1 356.7L463.3 355.1L465.4 353.5L467.4 351.9L469.3 350.3L471.2 348.6L472.9 346.9L474.5 345.2L476.0 343.5L477.5 341.8L478.8 340.1L480.0 338.3L481.1 336.6L482.1 334.8L483.0 333.1L483.8 331.3L484.4 329.6L485.0 327.8L485.5 326.1L485.9 324.3L486.3 322.6L486.6 320.8L486.9 319.1L487.1 317.3L487.2 315.6L487.3 313.8L487.4 312.1L487.3 310.4L487.2 308.6L487.1 306.9L486.9 305.1L486.6 303.4L486.3 301.6L485.9 299.9L485.5 298.1L485.0 296.4L484.4 294.6L483.8 292.9L483.0 291.1L482.1 289.4L481.1 287.6L480.0 285.9L478.8 284.1L477.5 282.4L476.0 280.7L474.5 279.0L472.9 277.3L471.2 275.6L469.3 273.9L467.4 272.3L465.4 270.7L463.3 269.1L461.1 267.5L458.9 266.0L456.6 264.5L454.2 263.1L451.6 261.7L448.8 260.4L446.0 259.1L443.2 258.0L440.6 257.0L438.3 256.3L436.2 255.7L319.8 255.7L317.7 256.3L315.4 257.0L312.8 258.0L310.0 259.1L307.2 260.4L304.4 261.7L301.8 263.1L299.4 264.5L297.1 266.0L294.9 267.5L292.7 269.1L290.6 270.7L288.6 272.3L286.7 273.9L284.8 275.6L283.1 277.3L281.5 279.0L280.0 280.7L278.5 282.4L277.2 284.1L276.0 285.9L274.9 287.6L273.9 289.4L273.0 291.1L272.2 292.9L271.6 294.6L271.0 296.4L270.5 298.1L270.1 299.9L269.7 301.6L269.4 303.4L269.1 305.1L268.9 306.9L268.8 308.6L268.7 310.4L268.6 312.1L268.7 313.8L268.8 315.6L268.9 317.3L269.1 319.1L269.4 320.8L269.7 322.6L270.1 324.3L270.5 326.1L271.0 327.8L271.6 329.6L272.2 331.3L273.0 333.1L273.9 334.8L274.9 336.6L276.0 338.3L277.2 340.1L278.5 341.8L280.0 343.5L281.5 345.2L283.1 346.9L284.8 348.6L286.7 350.3L288.6 351.9L290.6 353.5L292.7 355.1L294.9 356.7L297.1 358.2L299.4 359.7L301.8 361.1L304.4 362.5L307.2 363.8L310.0 365.1L312.8 366.2L315.4 367.2L317.7 367.9L319.8 368.5Z"/></clipPath>
<g clip-path="url(#clipd)">
<path d="M436.2 368.5L438.3 367.9L440.6 367.2L443.2 366.2L446.0 365.1L448.8 363.8L451.6 362.5L454.2 361.1L456.6 359.7L458.9 358.2L461.1 356.7L463.3 355.1L465.4 353.5L467.4 351.9L469.3 350.3L471.2 348.6L472.9 346.9L474.5 345.2L476.0 343.5L477.5 341.8L478.8 340.1L480.0 338.3L481.1 336.6L482.1 334.8L483.0 333.1L483.8 331.3L484.4 329.6L485.0 327.8L485.5 326.1L485.9 324.3L486.3 322.6L486.6 320.8L486.9 319.1L487.1 317.3L487.2 315.6L487.3 313.8L487.4 312.1L487.3 310.4L487.2 308.6L487.1 306.9L486.9 305.1L486.6 303.4L486.3 301.6L485.9 299.9L485.5 298.1L485.0 296.4L484.4 294.6L483.8 292.9L483.0 291.1L482.1 289.4L481.1 287.6L480.0 285.9L478.8 284.1L477.5 282.4L476.0 280.7L474.5 279.0L472.9 277.3L471.2 275.6L469.3 273.9L467.4 272.3L465.4 270.7L463.3 269.1L461.1 267.5L458.9 266.0L456.6 264.5L454.2 263.1L451.6 261.7L448.8 260.4L446.0 259.1L443.2 258.0L440.6 257.0L438.3 256.3L436.2 255.7L319.8 255.7L317.7 256.3L315.4 257.0L312.8 258.0L310.0 259.1L307.2 260.4L304.4 261.7L301.8 263.1L299.4 264.5L297.1 266.0L294.9 267.5L292.7 269.1L290.6 270.7L288.6 272.3L286.7 273.9L284.8 275.6L283.1 277.3L281.5 279.0L280.0 280.7L278.5 282.4L277.2 284.1L276.0 285.9L274.9 287.6L273.9 289.4L273.0 291.1L272.2 292.9L271.6 294.6L271.0 296.4L270.5 298.1L270.1 299.9L269.7 301.6L269.4 303.4L269.1 305.1L268.9 306.9L268.8 308.6L268.7 310.4L268.6 312.1L268.7 313.8L268.8 315.6L268.9 317.3L269.1 319.1L269.4 320.8L269.7 322.6L270.1 324.3L270.5 326.1L271.0 327.8L271.6 329.6L272.2 331.3L273.0 333.1L273.9 334.8L274.9 336.6L276.0 338.3L277.2 340.1L278.5 341.8L280.0 343.5L281.5 345.2L283.1 346.9L284.8 348.6L286.7 350.3L288.6 351.9L290.6 353.5L292.7 355.1L294.9 356.7L297.1 358.2L299.4 359.7L301.8 361.1L304.4 362.5L307.2 363.8L310.0 365.1L312.8 366.2L315.4 367.2L317.7 367.9L319.8 368.5Z" fill="#cfe1ea"/>
<path d="M270.2 304.2L278.5 302.4L289.0 300.9L299.5 298.9L308.5 295.9L312.2 293.7L313.7 298.2L310.0 301.2L299.5 303.4L289.7 304.9L289.7 306.9L272.5 307.2L270.7 305.7Z" fill="#f0d2c3"/>
<path d="M347.7 269.7L354.5 265.9L360.5 268.2L367.2 265.9L372.5 264.4L380.0 263.7L381.5 265.9L375.5 268.2L375.5 271.2L369.5 274.2L363.5 275.7L357.5 277.9L351.5 277.9L347.7 274.2Z" fill="#f0d2c3"/>
<path d="M362.0 259.2L367.2 257.7L372.5 259.2L371.7 262.9L367.2 264.9L362.7 263.7Z" fill="#7cb0ce"/>
<path d="M393.2 283.2L397.0 280.9L403.0 280.9L409.0 282.4L409.7 285.4L404.5 286.9L397.0 286.9L393.2 285.4Z" fill="#7cb0ce"/>
<path d="M385.0 280.9L389.5 280.2L391.0 283.2L388.0 285.4L385.0 284.7L382.0 283.2Z" fill="#7cb0ce"/>
<path d="M370.8 288.4L376.0 286.9L377.5 289.9L372.3 290.7Z" fill="#7cb0ce"/>
<path d="M417.2 262.9L421.7 262.2L424.3 265.2L423.2 268.2L418.7 267.4Z" fill="#2e7ba9"/>
<path d="M425.5 276.4L428.5 275.7L429.2 278.7L426.2 279.9Z" fill="#cfe1ea"/>
<path d="M422.5 295.9L426.2 295.2L430.0 296.7L428.5 301.2L426.2 304.9L424.7 301.9L422.5 298.2Z" fill="#f0d2c3"/>
<path d="M458.2 282.0L461.0 282.0L461.0 283.2L458.2 283.2Z" fill="#f0d2c3"/>
<path d="M465.4 282.0L468.2 282.0L467.8 283.4L465.8 283.2Z" fill="#f0d2c3"/>
<path d="M303.7 332.7L306.7 330.0L311.2 331.9L315.0 335.7L315.7 340.2L312.0 340.2L307.5 338.7L303.7 336.4Z" fill="#f0d2c3"/>
<path d="M300.0 345.4L306.0 344.4L312.7 346.2L318.7 349.2L317.2 351.4L310.5 349.9L304.5 348.4L300.0 348.4Z" fill="#f0d2c3"/>
<path d="M368.2 348.4L375.0 349.5L375.0 352.2L369.0 351.0Z" fill="#f0d2c3"/>
<path d="M357.3 289.2L359.5 289.2L358.0 294.5L355.0 295.9Z" fill="#f0d2c3"/>
<path d="M435.2 324.1L440.5 324.1L440.5 326.1L435.2 326.1Z" fill="#f0d2c3"/>
<path d="M370.0 348.4L375.2 349.2L375.2 352.2L370.7 351.9Z" fill="#f0d2c3"/>
<path d="M435.0 323.9L441.0 323.9L441.0 325.9L435.0 325.9Z" fill="#f0d2c3"/>
<path d="M304.0 354.2L312.0 355.2L324.0 356.2L336.0 355.8L348.0 356.2L350.0 358.2L346.0 362.2L338.0 363.2L328.0 363.2L320.0 362.2L312.0 360.2L306.0 357.2Z" fill="#7cb0ce"/>
<path d="M355.0 356.2L364.0 355.8L369.0 359.2L372.0 362.2L364.0 363.2L357.0 362.2L354.0 359.2Z" fill="#7cb0ce"/>
<path d="M326.0 357.2L338.0 356.2L346.0 357.2L345.0 361.2L336.0 362.2L328.0 360.2Z" fill="#2e7ba9"/>
<path d="M310.0 360.6L320.0 361.8L320.0 363.4L310.0 362.2Z" fill="#2e7ba9"/>
<path d="M332.0 360.2L337.0 359.8L337.0 361.8L332.4 361.8Z" fill="#074f8a"/>
<path d="M303.0 330.2L310.0 328.2L317.0 336.2L316.0 340.2L310.0 339.2L304.0 335.2Z" fill="#f0d2c3"/>
<path d="M289.0 343.8L298.0 343.2L308.0 345.2L317.0 348.2L316.0 350.2L306.0 348.2L296.0 346.2L290.0 345.2Z" fill="#f0d2c3"/>
<path d="M369.0 348.2L376.0 349.2L375.6 351.8L369.6 351.0Z" fill="#f0d2c3"/>
<path d="M347.0 365.2L370.0 364.6L370.0 368.2L348.0 368.2Z" fill="#f0d2c3"/>
<path d="M404.0 356.2L410.0 354.6L417.0 355.2L416.0 357.8L408.0 358.6L404.0 357.8Z" fill="#7cb0ce"/>
<path d="M380.0 356.2L395.0 355.8L395.0 359.2L380.0 359.2Z" fill="#f0d2c3"/>
<path d="M425.0 354.2L435.0 353.8L435.0 356.2L425.0 356.2Z" fill="#f0d2c3"/>
<path d="M446.0 354.6L451.6 353.2L452.4 356.2L447.0 357.2Z" fill="#f0d2c3"/>
<path d="M380.0 360.2L400.0 359.2L400.0 363.2L380.0 364.2Z" fill="#f0d2c3"/>
<path d="M295.5 271.7L297.7 267.2L301.5 265.0L307.5 264.2L315.0 263.8L322.5 264.2L328.5 262.7L334.5 259.7L342.0 259.0L348.0 259.7L351.0 262.7L349.5 266.5L345.0 268.0L340.5 267.2L336.0 268.0L333.0 269.5L331.5 274.0L330.0 277.7L324.0 278.5L319.5 277.0L315.7 275.5L313.5 277.0L311.2 277.0L307.5 278.5L301.5 279.7L296.2 278.5L294.0 275.5Z" fill="#7cb0ce"/>
<path d="M312.0 280.0L315.0 277.7L319.5 278.5L321.0 282.2L318.0 285.2L314.2 284.5Z" fill="#7cb0ce"/>
<path d="M322.5 280.0L327.7 279.7L327.7 283.0L322.5 283.0Z" fill="#7cb0ce"/>
<path d="M336.0 275.5L340.5 273.2L346.5 273.2L348.7 275.5L345.0 277.0L339.0 277.7Z" fill="#7cb0ce"/>
<path d="M342.0 281.5L345.0 280.0L349.5 277.7L355.5 280.7L355.5 283.0L351.0 284.5L345.0 283.0Z" fill="#7cb0ce"/>
<path d="M320.2 290.5L324.0 286.7L330.0 285.2L333.0 286.7L330.0 289.7L324.0 292.3L321.0 292.3Z" fill="#f0d2c3"/>
<path d="M314.2 275.5L317.2 275.5L317.2 277.7L314.2 277.7Z" fill="#f0d2c3"/>
<path d="M313.8 291.7L315.7 291.7L316.8 296.5L315.0 296.8Z" fill="#f0d2c3"/>
<path d="M384.0 268.2L387.0 265.8L391.8 264.6L396.6 265.2L401.4 264.0L406.2 263.4L411.0 262.8L417.0 261.6L423.0 261.8L429.0 262.6L435.0 263.4L435.0 283.2L429.0 283.8L423.0 283.2L417.0 282.0L413.4 278.4L408.6 277.2L403.8 274.2L399.0 271.8L395.4 271.8L390.6 273.0L387.0 271.2L384.6 270.6Z" fill="#7cb0ce"/>
<path d="M429.6 261.8L434.4 262.2L444.0 262.8L452.4 264.0L459.6 265.8L462.0 268.6L460.2 272.4L460.6 275.4L458.4 276.0L456.0 273.6L454.8 276.0L456.0 279.0L456.6 282.0L454.2 283.2L451.2 283.2L445.8 283.8L444.0 287.4L442.2 285.0L439.2 282.0L435.6 283.2L432.0 281.4L429.6 281.8Z" fill="#7cb0ce"/>
<path d="M401.5 270.7L409.0 268.7L418.0 269.2L427.0 268.0L434.5 268.7L445.0 270.7L444.2 272.2L434.5 270.7L427.0 270.2L418.0 271.7L409.0 271.7L403.0 272.5Z" fill="#cfe1ea"/>
<path d="M417.2 262.7L421.7 262.0L424.3 265.0L423.2 268.0L418.7 267.2Z" fill="#2e7ba9"/>
<path d="M431.5 271.3L436.7 271.0L437.5 273.7L432.2 274.0Z" fill="#2e7ba9"/>
<path d="M425.5 276.2L428.5 275.5L429.2 278.5L426.2 279.7Z" fill="#cfe1ea"/>
<path d="M412.0 271.7L415.0 271.0L416.5 274.0L413.5 275.5Z" fill="#cfe1ea"/>
<path d="M412.4 273.7L414.2 273.2L415.0 275.5L413.2 276.2Z" fill="#dc9f7f"/>
<path d="M406.4 279.7L409.0 279.7L409.0 281.2L406.4 281.2Z" fill="#c87142"/>
<path d="M431.5 293.2L436.7 292.3L437.5 295.3L432.2 295.7Z" fill="#f0d2c3"/>
<path d="M438.2 296.8L442.7 296.5L443.2 302.5L440.8 301.7Z" fill="#f0d2c3"/>
<path d="M386.5 304.0L392.5 304.0L392.5 308.5L387.2 308.2Z" fill="#f0d2c3"/>
<path d="M332.2 306.2L336.7 306.2L336.7 309.2L332.7 309.2Z" fill="#f0d2c3"/>
<path d="M336.0 313.0L339.0 310.0L345.0 310.7L348.0 313.7L347.2 318.2L343.5 320.5L339.0 319.7L336.7 317.5Z" fill="#f0d2c3"/>
<path d="M331.5 316.0L336.7 316.0L337.2 321.2L332.2 320.8Z" fill="#f0d2c3"/>
<path d="M334.8 318.7L336.6 318.7L336.6 320.5L334.8 320.5Z" fill="#dc9f7f"/>
<path d="M344.2 328.0L349.5 328.3L349.2 331.0L344.5 330.7Z" fill="#f0d2c3"/>
<path d="M345.0 335.5L348.7 335.8L348.3 338.5L345.3 338.2Z" fill="#f0d2c3"/>
<path d="M386.5 304.0L392.5 304.0L392.5 307.0L386.8 307.0Z" fill="#f0d2c3"/>
<path d="M388.0 313.7L395.5 313.7L395.5 317.5L388.3 317.5Z" fill="#f0d2c3"/>
<path d="M314.2 268.3L330.0 267.7L335.2 268.0L333.0 274.7L330.0 278.5L321.0 278.8L315.0 276.2Z" fill="#cfe1ea" filter="url(#motB)"/>
<path d="M330.0 304.0L351.0 304.0L352.5 322.0L349.5 340.0L343.5 340.0L330.0 322.0Z" fill="#cfe1ea" filter="url(#motA)"/>
<path d="M385.0 302.5L397.0 302.5L397.0 319.0L385.0 319.0Z" fill="#cfe1ea" filter="url(#motA)"/>
<path d="M384.0 270.6L390.6 266.4L399.0 265.2L411.0 263.4L423.0 262.8L435.0 264.0L447.0 266.4L456.6 268.8L451.8 285.0L447.0 288.0L435.0 283.2L427.8 280.2L420.6 282.0L415.8 275.4L406.2 272.2L399.0 271.0L390.6 272.6L384.6 271.2Z" fill="#cfe1ea" filter="url(#motC)"/>
<path d="M389.4 271.2L399.0 270.0L406.2 271.2L415.8 272.4L425.4 275.4L435.0 277.2L442.2 278.4L449.4 280.2L451.8 285.0L447.0 288.0L435.0 283.8L427.8 284.4L420.6 283.2L415.8 279.6L406.2 276.0L399.0 272.4L390.6 273.4Z" fill="#cfe1ea" filter="url(#motA)"/>
<path d="M393.0 270.6L405.0 271.2L415.8 274.2L420.6 281.4L429.0 282.0L437.4 283.2L447.0 287.4L444.6 289.8L435.0 286.2L425.4 285.0L415.8 283.2L408.6 277.2L399.0 274.2L393.0 273.6Z" fill="#7cb0ce" filter="url(#motC)"/>
<path d="M339.2 368.5L336.3 367.2L332.7 365.1L328.9 362.5L325.6 359.7L322.6 356.7L319.8 353.5L317.1 350.3L314.7 346.9L312.6 343.5L310.8 340.1L309.2 336.6L308.0 333.1L307.0 329.6L306.4 326.1L305.8 322.6L305.4 319.1L305.2 315.6L305.1 312.1L305.2 308.6L305.4 305.1L305.8 301.6L306.4 298.1L307.0 294.6L308.0 291.1L309.2 287.6L310.8 284.1L312.6 280.7L314.7 277.3L317.1 273.9L319.8 270.7L322.6 267.5L325.6 264.5L328.9 261.7L332.7 259.1L336.3 257.0L339.2 255.7M358.6 368.5L357.1 367.2L355.3 365.1L353.5 362.5L351.8 359.7L350.3 356.7L348.9 353.5L347.6 350.3L346.4 346.9L345.3 343.5L344.4 340.1L343.6 336.6L343.0 333.1L342.5 329.6L342.2 326.1L341.9 322.6L341.7 319.1L341.6 315.6L341.5 312.1L341.6 308.6L341.7 305.1L341.9 301.6L342.2 298.1L342.5 294.6L343.0 291.1L343.6 287.6L344.4 284.1L345.3 280.7L346.4 277.3L347.6 273.9L348.9 270.7L350.3 267.5L351.8 264.5L353.5 261.7L355.3 259.1L357.1 257.0L358.6 255.7M378.0 368.5L378.0 367.2L378.0 365.1L378.0 362.5L378.0 359.7L378.0 356.7L378.0 353.5L378.0 350.3L378.0 346.9L378.0 343.5L378.0 340.1L378.0 336.6L378.0 333.1L378.0 329.6L378.0 326.1L378.0 322.6L378.0 319.1L378.0 315.6L378.0 312.1L378.0 308.6L378.0 305.1L378.0 301.6L378.0 298.1L378.0 294.6L378.0 291.1L378.0 287.6L378.0 284.1L378.0 280.7L378.0 277.3L378.0 273.9L378.0 270.7L378.0 267.5L378.0 264.5L378.0 261.7L378.0 259.1L378.0 257.0L378.0 255.7M397.4 368.5L398.9 367.2L400.7 365.1L402.5 362.5L404.2 359.7L405.7 356.7L407.1 353.5L408.4 350.3L409.6 346.9L410.7 343.5L411.6 340.1L412.4 336.6L413.0 333.1L413.5 329.6L413.8 326.1L414.1 322.6L414.3 319.1L414.4 315.6L414.5 312.1L414.4 308.6L414.3 305.1L414.1 301.6L413.8 298.1L413.5 294.6L413.0 291.1L412.4 287.6L411.6 284.1L410.7 280.7L409.6 277.3L408.4 273.9L407.1 270.7L405.7 267.5L404.2 264.5L402.5 261.7L400.7 259.1L398.9 257.0L397.4 255.7M416.8 368.5L419.7 367.2L423.3 365.1L427.1 362.5L430.4 359.7L433.4 356.7L436.2 353.5L438.9 350.3L441.3 346.9L443.4 343.5L445.2 340.1L446.8 336.6L448.0 333.1L449.0 329.6L449.6 326.1L450.2 322.6L450.6 319.1L450.8 315.6L450.9 312.1L450.8 308.6L450.6 305.1L450.2 301.6L449.6 298.1L449.0 294.6L448.0 291.1L446.8 287.6L445.2 284.1L443.4 280.7L441.3 277.3L438.9 273.9L436.2 270.7L433.4 267.5L430.4 264.5L427.1 261.7L423.3 259.1L419.7 257.0L416.8 255.7M290.6 353.5L465.4 353.5M273.0 333.1L483.0 333.1M268.6 312.1L487.4 312.1M273.0 291.1L483.0 291.1M290.6 270.7L465.4 270.7" fill="none" stroke="#9aa0a6" stroke-width="0.25" stroke-opacity="0.55"/>
<path d="M300.9 267.2L304.1 265.5L307.5 264.4L310.7 263.8L312.9 264.2L316.1 264.8L318.6 264.9L322.2 264.4L323.0 264.9L326.9 265.4L329.7 265.7L332.8 265.8L335.3 265.4L337.7 263.4L337.6 264.8L338.0 265.4L340.4 264.8L342.1 264.6L341.4 266.0L338.8 266.7L337.6 267.8L334.5 268.3L335.4 268.6L332.8 270.0L331.6 271.5L331.9 272.6L333.9 272.9L335.0 273.7L336.3 273.9L335.7 275.3L335.9 276.4L336.8 276.3L337.7 274.6L339.7 272.9L339.9 271.6L340.1 270.7L341.3 269.1L343.1 269.2L344.3 270.0L343.9 271.4L345.0 271.8L346.5 270.5L346.8 271.0L347.2 272.9L348.1 273.9L348.7 274.9L349.0 275.9L347.4 276.5L346.4 277.1L343.2 277.1L341.2 278.3L339.8 279.4L342.9 277.9L343.7 277.9L343.1 279.0L345.0 280.0L345.6 279.7L344.8 280.5L343.0 281.0L341.7 281.7L341.5 280.7L339.6 281.6L339.2 282.9L336.7 283.8L335.3 285.5L334.8 286.2L334.8 287.5L333.4 288.3L331.7 289.5L330.6 290.8L330.9 293.2L330.5 294.4L329.9 294.3L329.4 292.7L329.5 291.7L328.9 291.1L328.1 291.3L326.7 290.8L325.7 291.7L324.8 291.6L323.1 291.5L321.1 292.5L320.6 293.9L319.9 296.4L320.6 298.7L321.4 299.4L323.0 299.0L324.1 297.4L326.2 297.1L325.5 299.2L324.8 300.9L326.3 301.1L327.8 301.5L327.6 303.4L327.4 304.4L328.1 305.7L328.9 305.9L329.9 305.5L331.1 306.0L330.8 307.1L329.9 305.8L329.2 307.0L327.8 306.4L327.4 306.2L326.2 305.1L325.2 303.1L324.0 302.7L322.5 302.0L321.2 300.8L319.7 301.1L318.0 300.2L316.9 299.5L315.0 298.1L315.3 296.4L314.2 294.3L313.6 293.2L312.3 291.5L312.1 290.2L311.4 289.9L311.2 291.1L312.0 292.5L312.4 294.3L313.0 295.9L312.6 295.7L311.8 294.6L310.8 293.1L310.5 292.5L311.1 292.2L310.5 291.0L310.3 289.4L309.8 288.3L308.8 287.9L308.6 286.4L308.7 285.7L308.7 283.9L309.5 282.1L310.9 279.9L311.5 278.4L312.3 279.0L312.7 277.8L311.5 276.6L311.7 275.6L311.6 274.3L311.8 273.3L311.9 271.8L310.8 271.4L309.9 270.8L308.1 270.7L306.5 270.3L304.0 271.1L305.4 270.0L302.6 271.3L299.9 272.6L297.9 273.4L295.1 274.1L294.1 274.2L296.3 273.4L299.3 272.3L300.6 271.5L298.3 271.6L299.4 270.7L298.4 270.0L299.0 269.4L300.3 268.8L302.5 268.5L303.3 267.8L301.4 267.8ZM347.0 269.5L347.6 268.8L350.1 266.4L348.1 264.8L347.0 263.8L345.2 262.8L344.2 262.4L342.5 262.5L341.0 262.4L339.9 263.1L340.7 264.2L342.2 264.5L343.7 264.8L344.7 265.7L344.6 266.9L343.8 267.7L341.8 267.8L344.2 268.5L345.7 269.2ZM326.3 265.1L327.4 263.7L329.6 262.8L332.6 262.8L333.3 263.4L333.7 264.5L331.4 265.4L327.8 265.4ZM324.7 263.4L326.7 262.3L328.4 262.1L329.4 262.6L327.0 263.7L325.1 263.8ZM341.9 261.0L343.9 259.9L343.8 258.7L347.1 258.1L352.9 257.8L355.5 258.0L353.9 258.7L350.5 259.5L348.5 260.0L346.4 260.9L343.9 261.0ZM341.2 260.9L345.5 261.4L344.9 261.9L340.4 261.9ZM330.5 261.7L333.9 261.0L335.5 261.3L334.1 261.8L331.4 262.0ZM335.4 262.5L337.2 262.4L336.7 263.4L335.1 263.7L334.6 263.1ZM338.4 262.3L340.2 262.3L339.8 262.9L337.6 263.3ZM338.0 267.2L339.6 266.9L340.6 267.8L339.0 268.6L337.8 268.3ZM346.2 278.8L348.8 276.2L349.8 278.3L349.4 279.5L347.8 279.4ZM310.7 276.8L312.1 277.3L312.2 278.4L311.3 278.1ZM349.6 260.0L352.7 259.6L356.1 258.2L361.8 257.9L366.3 257.6L370.7 258.2L373.8 258.5L371.2 259.1L370.5 260.6L369.8 262.0L368.6 263.4L368.4 264.4L366.4 265.4L363.6 266.0L361.1 267.0L359.4 267.8L357.8 269.4L356.6 270.8L354.9 270.0L354.1 268.5L354.0 267.5L353.8 266.3L354.6 265.1L354.3 264.2L354.5 263.1L354.3 261.7L353.0 261.2L350.6 261.2L350.0 260.5ZM367.0 267.2L368.0 266.7L370.7 266.6L371.5 267.5L371.0 268.0L369.1 268.5L367.5 268.2L367.8 267.7ZM327.4 296.8L329.3 295.9L331.1 296.3L333.0 297.6L333.7 298.0L331.7 298.2L331.5 297.6L329.8 296.7L328.0 296.9ZM333.5 299.2L334.4 298.2L336.2 298.3L337.1 299.1L335.5 299.5L334.9 299.4ZM331.1 299.2L332.3 299.3L332.2 299.6L331.3 299.6ZM337.8 299.2L338.7 299.2L338.5 299.6L337.7 299.5ZM331.2 306.1L332.0 305.5L332.5 304.5L333.2 304.3L334.5 303.6L334.8 304.4L335.7 303.6L336.9 304.7L338.7 305.0L340.2 304.6L341.1 305.5L341.7 306.2L343.1 307.7L345.2 308.0L346.4 308.7L347.0 309.2L347.6 310.8L347.6 312.1L348.8 312.6L350.7 313.1L351.3 314.0L352.8 314.1L354.6 314.7L355.5 315.5L356.6 315.9L356.9 317.3L356.8 318.4L355.6 319.8L354.8 321.2L354.6 323.3L354.4 325.0L353.8 326.4L353.6 327.5L353.1 328.2L351.6 328.3L350.4 328.9L349.4 330.3L349.5 332.0L348.6 333.8L347.8 334.8L347.2 335.9L345.8 336.5L344.5 335.9L345.4 337.5L345.4 338.8L343.1 339.4L343.3 340.8L341.8 340.8L342.8 341.9L342.4 343.2L341.5 344.2L342.5 345.0L342.2 346.5L341.8 347.5L342.5 348.5L342.6 348.9L344.9 350.1L343.6 350.6L341.9 350.1L340.1 348.9L338.7 347.6L337.6 345.6L337.7 344.2L337.6 342.5L337.1 341.3L336.7 339.7L336.3 338.1L336.5 336.6L336.7 335.2L336.3 333.1L336.3 331.0L336.2 328.5L336.1 326.1L335.9 325.0L334.8 324.0L332.6 322.6L332.0 321.8L331.4 320.5L330.5 318.7L329.7 317.1L328.7 316.3L328.6 315.2L329.3 314.5L329.4 313.8L328.8 313.6L329.1 312.4L329.4 311.5L330.1 311.1L330.3 310.3L331.1 309.4L331.0 308.3L331.1 307.3L330.8 307.1ZM346.2 347.9L347.7 347.9L347.6 348.4L346.4 348.4ZM374.6 287.1L376.9 287.6L378.0 287.1L379.7 286.4L382.0 286.2L383.7 286.0L384.3 286.3L384.0 287.3L383.9 288.3L384.3 288.9L385.6 289.1L386.9 289.5L388.2 290.5L389.4 290.9L389.6 289.9L390.4 289.1L391.4 289.5L392.5 289.9L394.9 290.5L396.0 290.1L396.8 290.2L397.0 291.1L397.7 292.5L398.7 295.0L399.2 296.0L400.2 297.4L400.2 298.8L401.1 299.5L401.8 301.3L402.8 302.0L404.0 303.3L404.2 304.1L404.9 304.8L406.4 304.3L408.9 303.8L408.8 304.8L408.3 306.5L407.1 309.0L405.9 310.5L404.7 311.4L403.5 312.8L402.4 314.1L402.0 315.2L401.5 316.6L401.9 317.7L402.1 319.1L402.5 319.8L402.4 322.2L402.0 323.4L400.2 324.5L398.9 325.9L399.1 327.5L399.0 328.9L397.5 329.9L397.3 331.0L396.7 332.4L395.7 333.6L394.2 335.2L392.8 335.9L390.6 336.0L389.5 336.4L388.6 336.0L388.4 334.8L388.1 333.1L387.6 332.0L386.8 330.6L386.6 328.2L385.8 326.4L385.1 324.7L385.1 323.3L385.5 321.5L386.2 320.7L386.3 319.4L385.9 318.3L385.5 316.3L385.3 315.6L384.7 314.8L383.8 313.6L383.3 312.6L383.8 311.8L384.0 310.5L383.9 309.4L383.2 308.9L382.2 309.0L381.6 309.1L380.7 307.8L379.5 307.7L378.6 308.0L377.4 308.5L376.8 308.7L375.9 308.5L374.7 308.5L373.4 309.0L372.4 308.4L371.0 307.3L370.4 306.9L369.9 306.2L370.0 305.5L369.1 304.5L368.8 304.1L367.9 303.5L367.9 302.7L367.5 301.8L368.1 300.9L368.3 299.5L368.3 298.5L367.9 297.4L368.5 295.5L369.2 294.6L369.5 293.7L370.4 292.7L371.3 292.2L372.2 291.5L372.3 290.1L373.1 288.8L374.1 288.3ZM407.8 320.5L408.2 322.9L407.7 324.3L406.4 328.0L405.8 329.6L404.7 330.0L403.9 328.5L403.8 327.3L404.4 326.1L404.4 324.3L405.0 323.3L406.3 322.6L407.1 321.5ZM374.8 286.9L374.4 286.5L373.8 286.1L372.9 286.2L372.7 285.0L373.1 283.1L372.9 282.1L373.6 281.6L375.3 281.7L376.9 281.8L377.3 281.0L377.4 280.0L376.8 279.2L375.6 278.7L375.5 278.3L376.4 278.1L377.2 278.1L377.0 277.5L378.1 277.6L378.8 276.7L379.8 276.3L380.3 275.6L380.6 275.1L381.6 274.9L382.4 274.7L382.4 273.9L382.1 272.9L382.2 272.5L383.2 272.2L383.2 272.9L383.1 273.7L383.5 274.6L384.1 274.5L385.2 274.6L386.4 274.3L387.4 274.1L387.9 274.3L388.6 273.7L388.5 272.7L388.9 272.2L390.1 272.4L390.1 271.7L389.5 271.2L390.7 270.9L391.6 270.9L392.7 270.7L391.8 270.3L390.1 270.5L388.9 270.7L388.2 270.0L388.1 268.8L389.1 267.8L389.6 267.2L388.8 267.0L388.1 267.2L387.9 268.0L386.9 268.6L386.2 269.4L386.3 270.2L387.1 270.8L386.8 271.3L386.2 272.1L386.0 273.1L385.2 273.6L384.6 273.7L384.4 273.1L383.8 272.2L383.4 271.3L383.1 271.0L382.7 271.4L381.7 272.0L380.8 271.4L380.4 270.3L380.4 269.4L381.1 268.9L382.0 268.5L382.9 268.1L383.5 267.2L383.9 266.3L384.7 265.5L385.7 264.9L386.7 264.5L387.9 264.1L389.2 263.9L390.3 264.0L391.5 264.4L391.5 264.7L392.7 264.9L393.9 265.1L396.1 265.8L396.7 266.5L395.6 266.9L393.9 266.5L393.0 266.5L393.8 267.2L394.2 267.9L395.5 268.0L396.8 267.8L396.3 267.0L397.8 266.8L397.8 265.7L397.3 265.4L398.5 265.6L399.1 266.4L399.5 265.9L401.6 265.5L402.3 265.6L403.7 265.2L404.7 265.0L404.9 265.5L406.4 265.0L407.7 265.2L408.5 265.6L407.4 264.8L407.1 263.9L407.0 262.8L408.6 262.9L409.4 263.9L410.0 265.4L411.3 266.4L410.8 265.4L410.1 263.9L409.8 263.1L411.2 263.3L412.5 263.4L411.7 262.5L413.9 262.3L413.6 261.7L415.2 261.3L417.3 261.0L418.8 260.3L420.6 260.7L423.2 261.1L425.1 262.3L423.8 262.4L425.2 262.5L427.4 262.6L429.6 262.7L431.1 262.5L433.0 263.2L433.7 263.9L434.8 263.7L436.1 263.7L437.8 263.7L437.2 263.0L440.0 263.2L442.6 263.7L443.9 264.0L447.4 264.5L448.5 264.8L450.5 264.8L451.4 264.5L453.3 265.1L452.7 264.5L455.1 264.7L457.6 265.2L460.9 267.4L460.8 267.8L460.1 267.7L462.4 268.8L463.0 269.1L461.5 269.5L460.8 270.2L460.7 270.7L458.6 270.7L457.4 270.7L458.6 272.0L458.2 272.1L460.0 273.1L460.2 274.1L459.9 274.6L459.9 275.3L460.1 276.6L458.5 275.3L456.6 273.6L455.9 272.4L456.3 271.6L456.3 270.5L456.3 269.7L455.7 269.1L454.4 269.6L453.0 269.6L453.3 270.9L451.8 271.1L449.3 271.1L447.7 271.2L447.3 272.1L447.2 273.3L446.8 274.1L448.2 274.5L449.3 274.5L450.7 275.1L451.3 276.3L452.6 277.9L452.6 279.4L452.3 281.0L451.4 282.2L450.6 282.0L450.3 282.5L450.2 283.2L450.4 283.8L449.5 284.3L450.4 285.1L451.5 286.2L452.0 287.3L451.9 287.6L451.1 287.8L450.5 288.0L450.0 286.6L449.7 285.7L448.5 285.2L448.3 284.4L447.6 284.1L446.6 284.8L446.3 285.0L446.1 283.7L445.5 283.5L445.0 284.2L444.2 284.7L445.0 285.5L445.5 286.0L446.4 285.7L447.5 286.0L446.9 286.5L446.4 287.4L447.1 288.2L447.9 289.2L448.7 290.0L448.5 290.8L449.2 291.3L449.3 292.3L448.9 293.2L448.6 294.3L447.9 295.0L447.3 295.8L445.9 296.4L445.2 296.7L444.1 297.1L443.8 297.9L443.3 297.1L442.3 297.0L441.6 297.6L441.3 298.8L441.8 299.9L443.1 300.9L443.9 302.7L444.0 303.8L442.7 304.8L442.5 305.5L441.6 306.0L441.5 305.1L440.6 304.7L439.9 303.7L438.9 303.2L438.6 302.7L438.4 303.4L438.2 304.8L438.7 306.2L439.2 307.3L440.1 307.8L440.8 309.0L440.9 310.4L441.3 311.1L440.8 311.1L439.5 310.1L439.0 309.0L438.8 307.7L438.0 306.5L437.6 306.5L437.7 305.1L437.5 303.7L437.0 302.3L436.6 300.6L435.9 300.6L435.3 301.1L434.7 300.8L434.4 299.2L433.8 298.1L433.0 297.4L432.6 296.4L431.8 296.5L431.0 296.9L430.1 297.1L429.8 297.8L429.1 298.3L428.3 299.3L427.4 300.4L426.7 301.0L426.3 301.6L426.4 302.9L426.2 304.1L426.3 304.9L425.8 305.6L425.4 305.9L425.0 306.4L424.3 305.8L423.8 304.2L423.1 303.0L422.5 301.6L422.0 300.2L421.5 298.8L421.3 297.4L421.0 296.9L420.3 297.6L419.0 296.6L419.6 296.2L418.6 295.7L417.6 294.7L417.3 294.3L415.8 294.4L414.4 294.5L412.9 294.3L411.8 294.1L411.4 293.2L410.1 293.5L408.9 292.9L407.9 292.0L407.2 291.0L406.4 290.9L406.0 291.3L406.4 292.2L407.3 293.4L407.6 294.1L408.3 293.9L408.5 294.8L410.0 295.2L410.8 294.3L411.2 293.8L411.5 295.0L412.8 295.6L413.5 296.4L412.9 297.8L412.5 298.8L411.5 299.6L410.7 300.2L409.4 300.9L407.5 302.2L405.2 303.1L404.2 303.2L403.8 302.0L403.6 300.7L402.5 298.8L401.3 297.1L400.6 295.3L399.7 293.9L398.5 292.5L398.4 291.5L398.1 292.5L397.5 292.0L397.0 291.1L396.8 290.2L397.9 290.2L398.2 289.4L398.4 288.0L398.5 286.9L398.6 286.4L397.6 286.4L396.5 286.9L395.5 286.4L394.5 286.6L393.6 286.2L393.2 285.2L392.7 284.5L392.7 284.0L394.2 283.4L395.5 283.3L396.6 282.7L397.4 282.7L398.3 283.2L399.5 283.4L401.1 283.1L400.9 282.2L399.7 281.6L398.6 280.9L398.0 280.5L398.5 279.7L399.1 279.2L398.2 279.3L397.1 279.8L397.8 280.5L397.2 280.7L396.5 281.1L395.7 280.4L396.1 280.0L395.3 279.7L394.6 279.7L394.1 280.5L393.7 281.4L393.4 281.9L393.4 282.5L393.7 283.1L394.1 283.3L392.8 283.8L392.5 283.6L391.4 283.6L391.1 284.0L390.7 283.9L390.8 284.6L391.6 285.5L391.2 286.0L391.1 286.6L390.7 286.5L390.3 286.3L390.0 285.6L390.0 285.2L389.5 284.6L388.9 283.8L388.8 283.0L388.2 282.4L387.1 281.8L386.2 281.0L385.6 280.7L385.4 280.3L384.7 280.5L384.8 281.2L385.5 281.7L386.6 282.7L387.0 282.9L388.1 283.7L388.4 284.1L387.5 283.9L387.3 284.3L387.6 284.8L387.1 285.5L387.0 284.9L386.7 284.1L386.0 283.6L384.8 283.0L383.8 282.1L383.6 281.4L382.9 281.1L382.1 281.5L380.9 281.9L379.9 281.9L379.7 282.5L379.8 282.8L379.2 283.2L378.4 283.6L377.8 284.5L378.1 285.0L377.6 285.8L376.7 286.4L375.5 286.4ZM298.4 265.2L299.2 265.8L300.6 266.4L300.6 266.9L298.2 267.8L296.8 267.7L296.2 267.2L295.1 267.4ZM375.0 277.2L376.2 277.1L377.5 276.8L378.7 276.5L378.4 276.3L378.9 275.5L378.2 275.3L378.0 274.9L377.4 274.2L377.2 273.6L376.9 273.3L376.5 273.3L377.0 272.5L377.1 272.2L376.0 272.2L376.5 271.6L375.5 271.6L375.1 272.3L375.2 273.1L375.4 273.7L375.6 274.1L376.3 274.0L376.5 274.7L376.4 275.1L375.6 275.1L375.8 275.4L375.9 275.7L375.2 276.0L376.3 276.3L375.8 276.5ZM372.8 276.2L373.8 276.1L374.7 275.8L374.9 275.1L375.1 274.3L374.9 273.8L374.3 273.7L373.7 274.3L372.9 274.5L373.0 275.1L373.1 275.5L372.6 275.9ZM385.1 285.5L386.8 285.4L386.6 286.4L385.1 285.8ZM382.6 283.4L383.3 283.4L383.4 284.7L382.7 284.8ZM382.8 282.4L383.2 282.1L383.3 283.0L382.9 283.1ZM391.5 287.3L393.1 287.5L391.8 287.6ZM396.5 287.6L397.7 287.2L397.2 287.8ZM400.2 263.9L400.3 262.8L400.9 261.7L402.5 261.0L405.3 260.7L404.7 261.3L402.7 262.0L402.3 263.4L401.8 264.1ZM382.2 259.4L384.0 259.1L386.3 259.0L388.2 259.1L386.1 259.9L385.1 260.4L384.6 260.8L383.5 260.4L382.3 259.9ZM414.5 259.6L415.1 258.7L418.3 259.6L417.0 260.1ZM434.0 261.4L435.2 261.2L439.1 261.5L437.5 261.8L434.6 261.8ZM450.5 274.4L451.9 275.3L453.6 277.3L454.7 277.9L454.9 279.3L455.6 279.9L454.9 280.0L454.0 278.6L452.7 276.9L451.7 275.9ZM455.6 282.7L455.2 281.9L455.0 280.4L456.1 281.0L457.5 281.2L458.0 281.9L457.4 282.7L455.9 282.4L456.3 282.9ZM456.6 283.2L457.7 284.5L457.6 285.3L458.3 286.6L458.4 287.1L458.1 287.6L457.6 287.8L456.6 287.9L456.6 288.1L456.3 288.7L455.5 287.9L454.4 288.1L453.4 288.3L453.2 288.1L453.8 287.3L454.6 287.3L455.7 287.1L455.7 286.2L455.8 285.9L455.9 286.4L456.5 285.9L456.7 285.2L456.5 284.3L456.1 283.7L456.1 283.3ZM453.3 288.4L454.0 288.8L454.3 290.1L453.9 290.3L453.4 289.5L452.8 288.9ZM454.2 288.3L455.3 288.2L455.4 288.8L454.9 289.2L454.3 288.8ZM449.8 294.5L450.2 295.0L449.9 296.7L449.3 296.0L449.5 294.8ZM443.0 298.6L444.0 298.1L444.3 298.5L443.6 299.4L443.0 299.0ZM426.4 305.2L427.2 306.2L427.6 307.2L427.1 307.8L426.6 307.9L426.4 306.5ZM450.2 299.2L451.1 299.2L451.3 300.7L451.2 302.0L452.8 303.0L452.9 303.3L452.0 302.5L450.9 302.5L450.6 302.0L450.0 300.7L450.2 299.9ZM452.0 307.2L452.8 306.1L453.9 305.2L454.6 306.5L454.5 307.6L454.1 308.2L453.2 307.3ZM453.4 303.4L454.0 304.4L453.6 305.1L453.2 304.3ZM451.7 303.8L452.5 304.4L452.5 305.7L452.1 305.2L451.8 304.8ZM449.0 306.2L450.2 304.2L450.3 304.8L449.2 306.3ZM435.8 308.2L437.2 308.5L438.7 310.0L440.6 311.8L441.5 313.1L442.4 314.2L442.2 316.2L441.4 316.2L440.1 314.9L439.1 313.1L438.0 311.1L436.9 310.0ZM441.8 316.9L442.8 316.3L443.8 316.7L445.2 316.6L446.3 316.9L447.3 317.5L447.3 318.1L445.2 317.9L443.4 317.6L442.5 317.2ZM444.5 310.7L445.4 311.0L446.6 309.9L447.8 308.6L448.8 307.2L450.3 308.5L449.6 309.1L449.6 310.7L450.3 311.4L449.4 311.8L449.4 312.8L448.6 314.2L448.4 314.9L447.6 314.9L446.6 314.3L445.8 314.3L444.9 314.1L444.8 313.0L444.2 312.1L444.2 311.2ZM450.5 315.9L450.8 314.5L450.2 314.0L450.6 312.7L450.8 311.8L451.4 311.2L452.7 311.4L454.0 311.0L453.7 311.8L452.8 311.8L451.5 311.8L451.0 312.7L451.8 312.7L452.9 312.7L452.1 313.3L451.8 313.5L452.4 314.5L452.7 315.2L452.3 315.7L451.9 315.5L451.5 314.5L451.1 314.2L451.1 315.9ZM457.6 312.7L458.8 312.4L459.6 312.8L459.6 314.1L460.3 314.4L461.7 313.2L463.7 313.9L465.7 314.8L466.6 315.6L467.7 316.4L467.1 316.9L467.9 318.0L469.2 319.2L467.5 319.2L467.1 318.7L465.8 317.5L464.9 317.9L464.3 318.5L463.4 318.5L462.5 317.8L461.4 318.0L462.2 317.0L461.7 315.9L460.6 315.2L459.4 314.8L458.6 314.9L458.2 314.1L459.1 313.7L458.2 313.6L457.6 313.1ZM447.4 317.8L450.1 317.8L452.5 317.8L452.5 318.2L450.1 318.3L447.3 318.2ZM452.7 319.3L455.0 318.0L454.6 318.4L453.0 319.3ZM455.5 310.7L456.1 311.1L455.8 312.1L455.6 312.7L455.4 311.5ZM468.1 316.0L469.3 315.9L470.4 315.0L469.9 315.9L468.7 316.5ZM464.2 319.6L464.6 321.1L464.6 322.1L465.4 322.6L465.5 323.9L465.7 325.6L466.8 326.4L467.0 327.7L467.5 328.5L468.3 329.8L468.0 331.3L468.0 332.2L467.0 333.8L465.8 335.0L465.0 335.8L463.7 337.3L463.0 338.3L461.7 338.6L460.3 339.4L460.0 338.7L458.9 339.2L457.7 338.7L457.4 337.8L457.2 337.0L457.4 336.4L457.7 334.8L455.9 336.5L455.5 335.2L455.3 334.5L454.1 334.1L452.8 334.3L450.9 334.7L449.6 335.2L448.1 335.8L447.1 335.8L445.6 336.6L444.5 336.4L444.1 336.1L445.1 334.5L445.0 333.4L445.0 331.7L444.8 330.3L445.4 328.9L445.6 327.8L445.9 327.3L447.2 326.6L448.8 326.3L450.3 325.8L451.2 324.7L452.1 324.0L452.8 323.3L453.9 322.0L455.0 322.0L455.2 322.6L455.9 322.5L456.4 321.3L457.0 320.8L457.7 320.6L458.1 320.0L459.6 320.6L460.6 320.6L460.0 321.5L459.5 322.6L460.6 323.3L461.4 324.3L462.4 324.3L463.1 322.9L463.5 321.2L463.8 319.8ZM458.8 340.5L459.6 340.8L460.7 340.7L460.0 341.7L459.1 342.4L458.2 342.6L458.3 341.7ZM477.2 336.2L477.7 336.8L477.5 337.8L477.7 338.3L479.1 338.5L478.0 339.5L477.1 340.1L475.4 341.2L475.2 341.0L476.1 340.1L475.7 339.6L476.8 338.8L477.2 337.8L477.1 336.6ZM474.5 340.4L475.0 340.9L474.2 341.7L472.9 342.6L471.5 343.2L470.4 344.1L468.8 344.6L468.1 344.2L469.5 343.2L470.5 342.8L472.0 342.1L473.2 341.3ZM475.9 326.2L477.1 327.1L477.3 327.7L476.5 327.3ZM341.0 260.0L343.5 258.9L345.1 259.1L343.9 259.9ZM336.4 261.6L338.9 260.8L338.4 261.6L337.0 261.8ZM328.4 261.2L331.4 260.5L331.6 260.9L329.5 261.3ZM334.0 265.1L335.5 264.6L335.8 265.1L334.7 265.4ZM396.7 258.9L399.5 258.7L401.2 258.9L398.8 259.1ZM399.4 265.0L399.9 264.8L400.1 265.2L399.6 265.2ZM284.8 298.3L285.5 298.0L285.5 298.5L284.9 298.9ZM283.8 297.0L284.1 297.2L284.9 297.7L284.7 297.4ZM473.2 317.0L474.9 318.0L475.7 319.1L474.8 318.7ZM478.2 322.6L478.5 323.3L478.5 322.7ZM484.3 324.3L485.0 324.4L484.6 324.8ZM414.5 346.3L415.4 346.3L415.1 346.7L414.5 346.7ZM358.6 349.6L359.6 349.8L359.6 350.1ZM340.6 304.6L341.1 304.5L341.1 305.0L340.6 305.0ZM336.7 260.4L339.3 259.9L339.6 260.2L337.7 260.5ZM338.8 268.9L339.8 268.8L340.0 269.3L338.8 269.3ZM403.5 280.3L404.9 279.4L406.6 279.7L406.9 280.7L405.9 281.0L405.9 282.4L407.2 283.1L408.0 284.5L408.6 286.2L407.0 286.4L405.8 285.9L405.6 284.8L405.7 283.8L404.6 282.7L404.0 281.7ZM314.9 367.0L317.8 367.2L322.8 367.3L326.2 367.3L326.1 366.8L323.2 366.0L319.5 365.1L315.0 364.6L315.5 363.7L318.3 363.5L319.8 363.2L322.8 362.5L326.6 362.3L330.7 362.3L335.0 362.5L336.2 361.7L339.7 362.2L342.7 361.9L344.7 361.8L346.2 361.6L347.2 359.4L347.9 358.2L348.4 356.7L349.8 356.2L351.3 355.7L350.9 356.5L350.3 357.6L350.0 358.8L352.0 361.6L350.4 362.8L348.1 363.6L350.6 364.8L354.1 365.6L357.9 366.0L362.1 365.9L365.5 365.1L368.3 364.3L370.1 363.6L371.8 361.9L373.8 361.0L375.9 360.7L378.0 360.3L382.3 360.1L386.7 360.0L391.1 359.7L393.4 359.4L395.7 359.1L398.1 358.4L400.6 357.9L402.1 357.5L403.8 357.9L405.8 358.3L408.4 358.5L408.8 359.4L409.3 360.0L410.8 359.6L412.7 358.8L415.0 358.0L417.9 357.8L421.2 357.6L423.7 357.3L425.7 357.6L428.1 357.4L430.2 357.7L432.3 357.8L434.9 357.5L437.3 357.3L439.6 357.3L441.4 357.8L443.4 358.0L444.7 358.7L446.3 359.2L447.7 359.8L449.3 360.2L451.1 360.5L447.7 361.9L442.5 363.8L440.6 364.6L437.8 366.2L438.1 366.8L441.1 367.0" fill="none" stroke="#111" stroke-width="0.42" stroke-linejoin="round"/>
</g>
<path d="M436.2 368.5L438.3 367.9L440.6 367.2L443.2 366.2L446.0 365.1L448.8 363.8L451.6 362.5L454.2 361.1L456.6 359.7L458.9 358.2L461.1 356.7L463.3 355.1L465.4 353.5L467.4 351.9L469.3 350.3L471.2 348.6L472.9 346.9L474.5 345.2L476.0 343.5L477.5 341.8L478.8 340.1L480.0 338.3L481.1 336.6L482.1 334.8L483.0 333.1L483.8 331.3L484.4 329.6L485.0 327.8L485.5 326.1L485.9 324.3L486.3 322.6L486.6 320.8L486.9 319.1L487.1 317.3L487.2 315.6L487.3 313.8L487.4 312.1L487.3 310.4L487.2 308.6L487.1 306.9L486.9 305.1L486.6 303.4L486.3 301.6L485.9 299.9L485.5 298.1L485.0 296.4L484.4 294.6L483.8 292.9L483.0 291.1L482.1 289.4L481.1 287.6L480.0 285.9L478.8 284.1L477.5 282.4L476.0 280.7L474.5 279.0L472.9 277.3L471.2 275.6L469.3 273.9L467.4 272.3L465.4 270.7L463.3 269.1L461.1 267.5L458.9 266.0L456.6 264.5L454.2 263.1L451.6 261.7L448.8 260.4L446.0 259.1L443.2 258.0L440.6 257.0L438.3 256.3L436.2 255.7L319.8 255.7L317.7 256.3L315.4 257.0L312.8 258.0L310.0 259.1L307.2 260.4L304.4 261.7L301.8 263.1L299.4 264.5L297.1 266.0L294.9 267.5L292.7 269.1L290.6 270.7L288.6 272.3L286.7 273.9L284.8 275.6L283.1 277.3L281.5 279.0L280.0 280.7L278.5 282.4L277.2 284.1L276.0 285.9L274.9 287.6L273.9 289.4L273.0 291.1L272.2 292.9L271.6 294.6L271.0 296.4L270.5 298.1L270.1 299.9L269.7 301.6L269.4 303.4L269.1 305.1L268.9 306.9L268.8 308.6L268.7 310.4L268.6 312.1L268.7 313.8L268.8 315.6L268.9 317.3L269.1 319.1L269.4 320.8L269.7 322.6L270.1 324.3L270.5 326.1L271.0 327.8L271.6 329.6L272.2 331.3L273.0 333.1L273.9 334.8L274.9 336.6L276.0 338.3L277.2 340.1L278.5 341.8L280.0 343.5L281.5 345.2L283.1 346.9L284.8 348.6L286.7 350.3L288.6 351.9L290.6 353.5L292.7 355.1L294.9 356.7L297.1 358.2L299.4 359.7L301.8 361.1L304.4 362.5L307.2 363.8L310.0 365.1L312.8 366.2L315.4 367.2L317.7 367.9L319.8 368.5Z" fill="none" stroke="#333" stroke-width="0.5"/>
<text transform="translate(378.30,254.50) scale(0.87,1)" font-size="5.23" text-anchor="middle">CMIP6 model mean (non-local)</text>
<text transform="translate(260.00,262.90) scale(0.78,1)" font-size="12.10">d)</text>
<text x="289.1" y="271.7" font-size="3.2" text-anchor="end" style="fill:#111">60°N</text>
<text x="467.4" y="271.7" font-size="3.2" style="fill:#111">60°N</text>
<text x="271.5" y="292.2" font-size="3.2" text-anchor="end" style="fill:#111">30°N</text>
<text x="485.0" y="292.2" font-size="3.2" style="fill:#111">30°N</text>
<text x="267.1" y="313.2" font-size="3.2" text-anchor="end" style="fill:#111">0°</text>
<text x="489.4" y="313.2" font-size="3.2" style="fill:#111">0°</text>
<text x="271.5" y="334.1" font-size="3.2" text-anchor="end" style="fill:#111">30°S</text>
<text x="485.0" y="334.1" font-size="3.2" style="fill:#111">30°S</text>
<text x="289.1" y="354.6" font-size="3.2" text-anchor="end" style="fill:#111">60°S</text>
<text x="467.4" y="354.6" font-size="3.2" style="fill:#111">60°S</text>
<path d="M273.0 373.5L262.5 378.0L273.0 382.5Z" fill="#021660"/>
<rect x="273.00" y="373.5" width="21.2" height="9.0" fill="#03226b"/>
<rect x="294.00" y="373.5" width="21.2" height="9.0" fill="#074f8a"/>
<rect x="315.00" y="373.5" width="21.2" height="9.0" fill="#2e7ba9"/>
<rect x="336.00" y="373.5" width="21.2" height="9.0" fill="#7cb0ce"/>
<rect x="357.00" y="373.5" width="21.2" height="9.0" fill="#cfe1ea"/>
<rect x="378.00" y="373.5" width="21.2" height="9.0" fill="#f0d2c3"/>
<rect x="399.00" y="373.5" width="21.2" height="9.0" fill="#dc9f7f"/>
<rect x="420.00" y="373.5" width="21.2" height="9.0" fill="#c87142"/>
<rect x="441.00" y="373.5" width="21.2" height="9.0" fill="#a43d10"/>
<rect x="462.00" y="373.5" width="21.2" height="9.0" fill="#72110a"/>
<path d="M483.0 373.5L493.8 378.0L483.0 382.5Z" fill="#5a0005"/>
<path d="M262.5 378.0L273.0 373.5L483.0 373.5L493.8 378.0L483.0 382.5L273.0 382.5Z" fill="none" stroke="#222" stroke-width="0.4"/>
<line x1="273.00" y1="382.5" x2="273.00" y2="384.5" stroke="#000" stroke-width="0.45"/>
<text transform="translate(273.00,390.80) scale(0.885,1)" font-size="6.33" text-anchor="middle">−2.5</text>
<line x1="294.00" y1="382.5" x2="294.00" y2="384.5" stroke="#000" stroke-width="0.45"/>
<text transform="translate(294.00,390.80) scale(0.885,1)" font-size="6.33" text-anchor="middle">−2.0</text>
<line x1="315.00" y1="382.5" x2="315.00" y2="384.5" stroke="#000" stroke-width="0.45"/>
<text transform="translate(315.00,390.80) scale(0.885,1)" font-size="6.33" text-anchor="middle">−1.5</text>
<line x1="336.00" y1="382.5" x2="336.00" y2="384.5" stroke="#000" stroke-width="0.45"/>
<text transform="translate(336.00,390.80) scale(0.885,1)" font-size="6.33" text-anchor="middle">−1.0</text>
<line x1="357.00" y1="382.5" x2="357.00" y2="384.5" stroke="#000" stroke-width="0.45"/>
<text transform="translate(357.00,390.80) scale(0.885,1)" font-size="6.33" text-anchor="middle">−0.5</text>
<line x1="378.00" y1="382.5" x2="378.00" y2="384.5" stroke="#000" stroke-width="0.45"/>
<text transform="translate(378.00,390.80) scale(0.885,1)" font-size="6.33" text-anchor="middle">0.0</text>
<line x1="399.00" y1="382.5" x2="399.00" y2="384.5" stroke="#000" stroke-width="0.45"/>
<text transform="translate(399.00,390.80) scale(0.885,1)" font-size="6.33" text-anchor="middle">0.5</text>
<line x1="420.00" y1="382.5" x2="420.00" y2="384.5" stroke="#000" stroke-width="0.45"/>
<text transform="translate(420.00,390.80) scale(0.885,1)" font-size="6.33" text-anchor="middle">1.0</text>
<line x1="441.00" y1="382.5" x2="441.00" y2="384.5" stroke="#000" stroke-width="0.45"/>
<text transform="translate(441.00,390.80) scale(0.885,1)" font-size="6.33" text-anchor="middle">1.5</text>
<line x1="462.00" y1="382.5" x2="462.00" y2="384.5" stroke="#000" stroke-width="0.45"/>
<text transform="translate(462.00,390.80) scale(0.885,1)" font-size="6.33" text-anchor="middle">2.0</text>
<line x1="483.00" y1="382.5" x2="483.00" y2="384.5" stroke="#000" stroke-width="0.45"/>
<text transform="translate(483.00,390.80) scale(0.885,1)" font-size="6.33" text-anchor="middle">2.5</text>
<text transform="translate(378.50,400.30) scale(0.885,1)" font-size="7.12" text-anchor="middle">ΔT<tspan font-size="5" dy="0.9">s</tspan><tspan dy="-0.9"> [K]</tspan></text>
</svg></body></html>
